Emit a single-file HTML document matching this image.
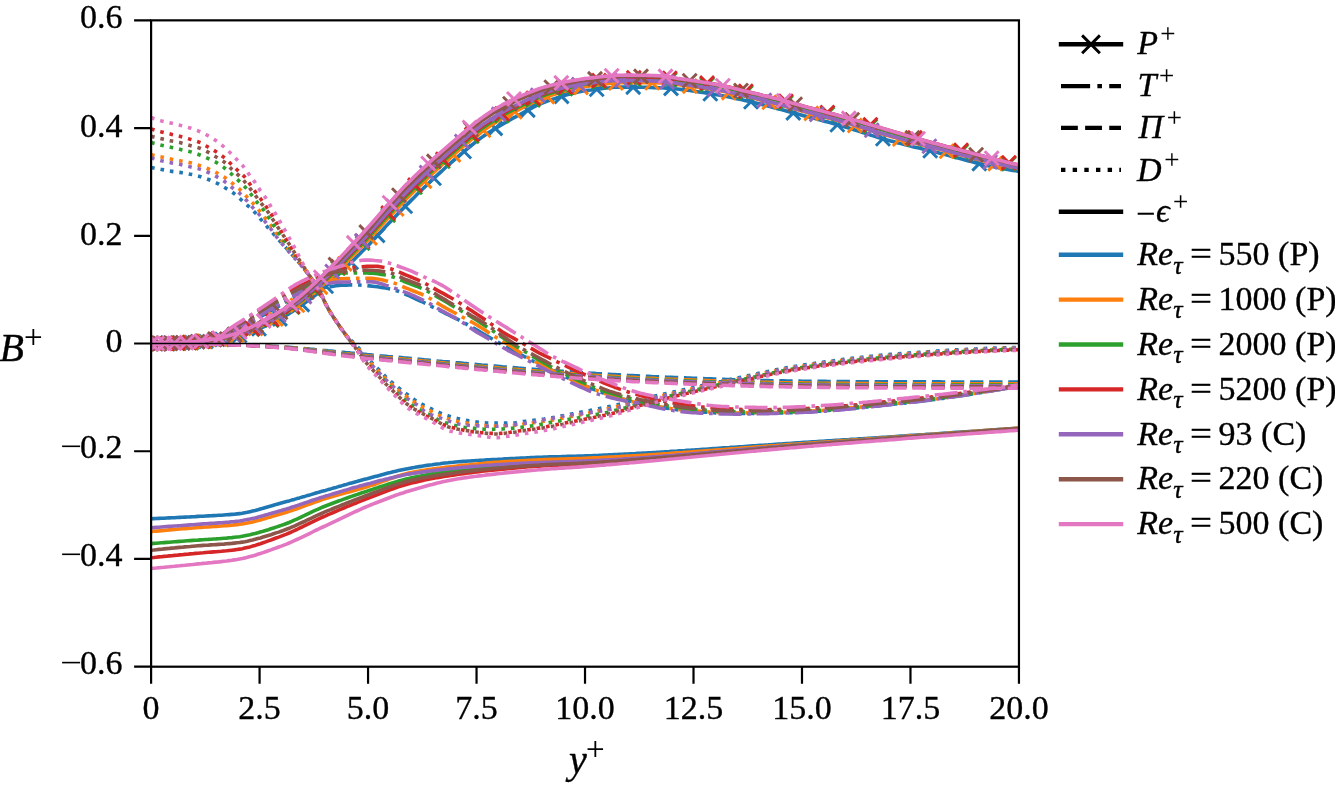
<!DOCTYPE html><html><head><meta charset="utf-8"><style>html,body{margin:0;padding:0;background:#fff;}svg{display:block;will-change:transform;}text{font-family:"Liberation Serif",serif;stroke:#000;stroke-width:0.35px;}</style></head><body>
<svg width="1335" height="785" viewBox="0 0 1335 785">
<rect width="1335" height="785" fill="#fff"/>
<defs><clipPath id="ax"><rect x="151.10" y="20.35" width="867.85" height="646.35"/></clipPath></defs>
<g clip-path="url(#ax)" fill="none" stroke-linejoin="round">
<path d="M151.1 343.5l2.6 0 2.6 0 2.6 0 2.6 0 2.6 0 2.6 -.1 2.6 0 2.6 0 2.6 0 2.6 -.1 2.6 -.1 2.6 -.1 2.6 -.1 2.6 -.2 2.7 -.1 2.6 -.2 2.6 -.1 2.6 -.2 2.6 -.2 2.6 -.3 2.6 -.2 2.6 -.3 2.6 -.3 2.6 -.3 2.6 -.3 2.6 -.4 2.6 -.4 2.6 -.5 2.6 -.5 2.6 -.5 2.6 -.6 2.6 -.6 2.6 -.6 2.6 -.7 2.6 -.7 2.6 -.9 2.6 -.9 2.6 -.9 2.6 -1 2.6 -1 2.6 -1 2.6 -1 2.7 -1.1 2.6 -1.1 2.6 -1.2 2.6 -1.2 2.6 -1.3 2.6 -1.3 2.6 -1.3 2.6 -1.4 2.6 -1.5 2.6 -1.5 2.6 -1.6 2.6 -1.7 2.6 -1.7 2.6 -1.8 2.6 -1.8 2.6 -1.8 2.6 -1.8 2.6 -1.9 2.6 -1.9 2.6 -2 2.6 -2 2.6 -2 2.6 -2.1 2.6 -2.2 2.6 -2.2 2.6 -2.2 2.6 -2.4 2.6 -2.5 2.7 -2.4 2.6 -2.6 2.6 -2.5 2.6 -2.6 2.6 -2.5 2.6 -2.5 2.6 -2.5 2.6 -2.6 2.6 -2.6 2.6 -2.5 2.6 -2.7 2.6 -2.6 2.6 -2.6 2.6 -2.7 2.6 -2.8 2.6 -2.7 2.6 -2.8 2.6 -2.9 2.6 -2.8 2.6 -2.8 2.6 -2.8 2.6 -2.7 2.6 -2.7 2.6 -2.7 2.6 -2.7 2.6 -2.7 2.6 -2.7 2.6 -2.7 2.7 -2.6 2.6 -2.6 2.6 -2.6 2.6 -2.6 2.6 -2.6 2.6 -2.5 2.6 -2.5 2.6 -2.5 2.6 -2.5 2.6 -2.4 2.6 -2.4 2.6 -2.4 2.6 -2.4 2.6 -2.4 2.6 -2.4 2.6 -2.3 2.6 -2.3 2.6 -2.3 2.6 -2.2 2.6 -2.3 2.6 -2.2 2.6 -2.2 2.6 -2.2 2.6 -2.2 2.6 -2.1 2.6 -2.1 2.6 -2.1 2.6 -2 2.7 -1.9 2.6 -1.8 2.6 -1.8 2.6 -1.7 2.6 -1.7 2.6 -1.6 2.6 -1.6 2.6 -1.6 2.6 -1.5 2.6 -1.5 2.6 -1.5 2.6 -1.5 2.6 -1.4 2.6 -1.4 2.6 -1.4 2.6 -1.4 2.6 -1.5 2.6 -1.4 2.6 -1.4 2.6 -1.4 2.6 -1.3 2.6 -1.3 2.6 -1.2 2.6 -1.2 2.6 -1 2.6 -1 2.6 -.9 2.6 -.9 2.7 -.9 2.6 -.9 2.6 -.8 2.6 -.8 2.6 -.7 2.6 -.8 2.6 -.6 2.6 -.7 2.6 -.6 2.6 -.6 2.6 -.5 2.6 -.5 2.6 -.5 2.6 -.3 2.6 -.3 2.6 -.4 2.6 -.3 2.6 -.3 2.6 -.4 2.6 -.3 2.6 -.3 2.6 -.2 2.6 -.3 2.6 -.2 2.6 -.1 2.6 -.1 2.6 0 2.6 0 2.6 0 2.7 0 2.6 0 2.6 .1 2.6 0 2.6 .1 2.6 0 2.6 .1 2.6 0 2.6 .1 2.6 .1 2.6 0 2.6 .1 2.6 .1 2.6 .1 2.6 .2 2.6 .2 2.6 .2 2.6 .2 2.6 .3 2.6 .3 2.6 .3 2.6 .3 2.6 .3 2.6 .3 2.6 .4 2.6 .4 2.6 .4 2.6 .4 2.7 .4 2.6 .4 2.6 .4 2.6 .5 2.6 .4 2.6 .4 2.6 .5 2.6 .5 2.6 .5 2.6 .5 2.6 .5 2.6 .5 2.6 .6 2.6 .5 2.6 .6 2.6 .5 2.6 .6 2.6 .5 2.6 .6 2.6 .6 2.6 .7 2.6 .6 2.6 .7 2.6 .7 2.6 .7 2.6 .6 2.6 .7 2.6 .7 2.7 .7 2.6 .7 2.6 .7 2.6 .7 2.6 .7 2.6 .8 2.6 .7 2.6 .7 2.6 .6 2.6 .7 2.6 .7 2.6 .7 2.6 .7 2.6 .7 2.6 .7 2.6 .6 2.6 .7 2.6 .7 2.6 .7 2.6 .7 2.6 .7 2.6 .7 2.6 .7 2.6 .8 2.6 .7 2.6 .7 2.6 .8 2.6 .8 2.7 .8 2.6 .8 2.6 .8 2.6 .8 2.6 .9 2.6 .8 2.6 .8 2.6 .9 2.6 .8 2.6 .9 2.6 .8 2.6 .8 2.6 .8 2.6 .7 2.6 .8 2.6 .7 2.6 .7 2.6 .7 2.6 .7 2.6 .7 2.6 .6 2.6 .7 2.6 .6 2.6 .7 2.6 .6 2.6 .7 2.6 .6 2.6 .6 2.7 .7 2.6 .6 2.6 .7 2.6 .6 2.6 .6 2.6 .7 2.6 .6 2.6 .7 2.6 .6 2.6 .7 2.6 .7 2.6 .7 2.6 .7 2.6 .7 2.6 .7 2.6 .7 2.6 .7 2.6 .7 2.6 .7 2.6 .7 2.6 .6 2.6 .7 2.6 .6 2.6 .7 2.6 .6 2.6 .6 2.6 .6 2.6 .5 2.7 .5 2.6 .5 2.6 .5 2.6 .5 2.6 .5 2.6 .5 2.6 .4 2.6 .5 2.6 .4 2.6 .5 .9 .1" stroke="#1f77b4" stroke-width="3.6" stroke-linecap="square"/>
<path d="M144.1 336.5l14 14M144.1 350.5l14 -14M151.9 336.5l14 14M151.9 350.5l14 -14M161.2 336.4l14 14M161.2 350.4l14 -14M172.1 336.2l14 14M172.1 350.2l14 -14M184.6 335.6l14 14M184.6 349.6l14 -14M198.9 334.5l14 14M198.9 348.5l14 -14M214.9 332.4l14 14M214.9 346.4l14 -14M232.6 328.5l14 14M232.6 342.5l14 -14M252.0 321.7l14 14M252.0 335.7l14 -14M272.9 311.9l14 14M272.9 325.9l14 -14M295.3 297.6l14 14M295.3 311.6l14 -14M319.1 279.3l14 14M319.1 293.3l14 -14M344.2 255.3l14 14M344.2 269.3l14 -14M370.6 228.4l14 14M370.6 242.4l14 -14M398.2 199.3l14 14M398.2 213.3l14 -14M427.0 171.2l14 14M427.0 185.2l14 -14M457.1 144.5l14 14M457.1 158.5l14 -14M488.3 121.4l14 14M488.3 135.4l14 -14M520.8 103.1l14 14M520.8 117.1l14 -14M554.6 89.4l14 14M554.6 103.4l14 -14M589.7 82.2l14 14M589.7 96.2l14 -14M626.2 80.1l14 14M626.2 94.1l14 -14M664.0 81.4l14 14M664.0 95.4l14 -14M703.3 86.7l14 14M703.3 100.7l14 -14M744.0 94.8l14 14M744.0 108.8l14 -14M786.3 105.9l14 14M786.3 119.9l14 -14M830.3 117.7l14 14M830.3 131.7l14 -14M875.9 131.8l14 14M875.9 145.8l14 -14M923.2 143.8l14 14M923.2 157.8l14 -14M972.3 156.6l14 14M972.3 170.6l14 -14M1023.3 166.1l14 14M1023.3 180.1l14 -14" stroke="#1f77b4" stroke-width="2.9" stroke-linecap="butt"/>
<path d="M151.1 343.5l2.6 0 2.6 0 2.6 0 2.6 -.1 2.6 0 2.6 0 2.6 -.1 2.6 0 2.6 -.1 2.6 0 2.6 -.1 2.6 0 2.6 -.1 2.6 -.1 2.7 -.1 2.6 -.2 2.6 -.2 2.6 -.2 2.6 -.3 2.6 -.3 2.6 -.4 2.6 -.4 2.6 -.4 2.6 -.5 2.6 -.6 2.6 -.9 2.6 -1 2.6 -1.1 2.6 -1.2 2.6 -1.3 2.6 -1.3 2.6 -1.3 2.6 -1.3 2.6 -1.2 2.6 -1.4 2.6 -1.4 2.6 -1.4 2.6 -1.5 2.6 -1.6 2.6 -1.5 2.6 -1.6 2.6 -1.5 2.7 -1.6 2.6 -1.5 2.6 -1.4 2.6 -1.5 2.6 -1.6 2.6 -1.5 2.6 -1.6 2.6 -1.6 2.6 -1.5 2.6 -1.5 2.6 -1.5 2.6 -1.3 2.6 -1.3 2.6 -1.2 2.6 -1 2.6 -.9 2.6 -.9 2.6 -.8 2.6 -.8 2.6 -.8 2.6 -.7 2.6 -.7 2.6 -.6 2.6 -.6 2.6 -.6 2.6 -.5 2.6 -.6 2.6 -.5 2.7 -.4 2.6 -.3 2.6 -.2 2.6 -.1 2.6 -.1 2.6 -.1 2.6 -.1 2.6 0 2.6 0 2.6 .1 2.6 .2 2.6 .2 2.6 .2 2.6 .3 2.6 .3 2.6 .3 2.6 .3 2.6 .4 2.6 .4 2.6 .5 2.6 .5 2.6 .5 2.6 .7 2.6 .7 2.6 .8 2.6 1 2.6 1.1 2.6 1.1 2.7 1.2 2.6 1.2 2.6 1.2 2.6 1.2 2.6 1.2 2.6 1.2 2.6 1.2 2.6 1.3 2.6 1.2 2.6 1.4 2.6 1.3 2.6 1.3 2.6 1.3 2.6 1.3 2.6 1.3 2.6 1.2 2.6 1.3 2.6 1.3 2.6 1.3 2.6 1.3 2.6 1.4 2.6 1.4 2.6 1.4 2.6 1.5 2.6 1.5 2.6 1.5 2.6 1.5 2.6 1.5 2.7 1.6 2.6 1.5 2.6 1.5 2.6 1.5 2.6 1.5 2.6 1.5 2.6 1.5 2.6 1.4 2.6 1.5 2.6 1.4 2.6 1.5 2.6 1.4 2.6 1.4 2.6 1.4 2.6 1.4 2.6 1.3 2.6 1.4 2.6 1.3 2.6 1.4 2.6 1.3 2.6 1.4 2.6 1.3 2.6 1.3 2.6 1.3 2.6 1.3 2.6 1.3 2.6 1.3 2.6 1.2 2.7 1.3 2.6 1.2 2.6 1.2 2.6 1.2 2.6 1.2 2.6 1.2 2.6 1.2 2.6 1.2 2.6 1.2 2.6 1.2 2.6 1.2 2.6 1.1 2.6 1.2 2.6 1.1 2.6 1.1 2.6 1.1 2.6 1 2.6 1 2.6 1 2.6 .9 2.6 .8 2.6 .9 2.6 .8 2.6 .8 2.6 .8 2.6 .7 2.6 .8 2.6 .7 2.6 .7 2.7 .7 2.6 .7 2.6 .6 2.6 .6 2.6 .6 2.6 .6 2.6 .5 2.6 .5 2.6 .5 2.6 .5 2.6 .4 2.6 .5 2.6 .4 2.6 .4 2.6 .4 2.6 .4 2.6 .4 2.6 .3 2.6 .4 2.6 .3 2.6 .3 2.6 .3 2.6 .3 2.6 .2 2.6 .2 2.6 .2 2.6 .2 2.6 .2 2.7 .2 2.6 .1 2.6 .2 2.6 .2 2.6 .1 2.6 .2 2.6 .1 2.6 .1 2.6 .2 2.6 0 2.6 .1 2.6 .1 2.6 0 2.6 0 2.6 0 2.6 0 2.6 0 2.6 0 2.6 0 2.6 -.1 2.6 0 2.6 0 2.6 -.1 2.6 0 2.6 0 2.6 -.1 2.6 0 2.6 -.1 2.7 0 2.6 -.1 2.6 0 2.6 -.1 2.6 -.1 2.6 0 2.6 -.1 2.6 -.1 2.6 -.1 2.6 -.2 2.6 -.1 2.6 -.1 2.6 -.2 2.6 -.1 2.6 -.2 2.6 -.1 2.6 -.2 2.6 -.2 2.6 -.2 2.6 -.2 2.6 -.2 2.6 -.2 2.6 -.2 2.6 -.2 2.6 -.3 2.6 -.2 2.6 -.2 2.6 -.2 2.7 -.3 2.6 -.2 2.6 -.3 2.6 -.2 2.6 -.3 2.6 -.2 2.6 -.3 2.6 -.3 2.6 -.2 2.6 -.3 2.6 -.3 2.6 -.2 2.6 -.3 2.6 -.3 2.6 -.2 2.6 -.3 2.6 -.3 2.6 -.2 2.6 -.3 2.6 -.3 2.6 -.2 2.6 -.3 2.6 -.3 2.6 -.3 2.6 -.3 2.6 -.3 2.6 -.3 2.6 -.3 2.7 -.3 2.6 -.3 2.6 -.3 2.6 -.4 2.6 -.3 2.6 -.4 2.6 -.3 2.6 -.4 2.6 -.3 2.6 -.4 2.6 -.3 2.6 -.4 2.6 -.4 2.6 -.4 2.6 -.4 2.6 -.3 2.6 -.4 2.6 -.4 2.6 -.4 2.6 -.4 2.6 -.5 2.6 -.4 2.6 -.4 2.6 -.4 2.6 -.4 2.6 -.5 2.6 -.4 2.6 -.4 2.7 -.5 2.6 -.4 2.6 -.5 2.6 -.4 2.6 -.5 2.6 -.4 2.6 -.5 2.6 -.5 2.6 -.4 2.6 -.5 .9 -.1" stroke="#1f77b4" stroke-width="3.6" stroke-dasharray="23.04 5.76 3.60 5.76" stroke-linecap="butt"/>
<path d="M151.1 343.5l2.6 0 2.6 0 2.6 0 2.6 0 2.6 0 2.6 0 2.6 .1 2.6 0 2.6 0 2.6 0 2.6 0 2.6 .1 2.6 0 2.6 0 2.7 0 2.6 .1 2.6 0 2.6 0 2.6 0 2.6 .1 2.6 0 2.6 0 2.6 .1 2.6 0 2.6 .1 2.6 0 2.6 .1 2.6 0 2.6 .1 2.6 .1 2.6 0 2.6 .1 2.6 .1 2.6 0 2.6 .1 2.6 .1 2.6 .1 2.6 .1 2.6 .1 2.6 .1 2.6 .2 2.6 .1 2.7 .1 2.6 .2 2.6 .1 2.6 .2 2.6 .1 2.6 .2 2.6 .2 2.6 .1 2.6 .2 2.6 .2 2.6 .2 2.6 .2 2.6 .2 2.6 .2 2.6 .2 2.6 .2 2.6 .3 2.6 .2 2.6 .3 2.6 .2 2.6 .3 2.6 .2 2.6 .3 2.6 .3 2.6 .2 2.6 .3 2.6 .2 2.6 .3 2.7 .3 2.6 .2 2.6 .3 2.6 .2 2.6 .3 2.6 .2 2.6 .3 2.6 .2 2.6 .2 2.6 .3 2.6 .2 2.6 .2 2.6 .3 2.6 .2 2.6 .3 2.6 .2 2.6 .2 2.6 .3 2.6 .2 2.6 .2 2.6 .3 2.6 .2 2.6 .2 2.6 .3 2.6 .2 2.6 .2 2.6 .3 2.6 .2 2.7 .2 2.6 .3 2.6 .2 2.6 .3 2.6 .2 2.6 .2 2.6 .3 2.6 .2 2.6 .3 2.6 .2 2.6 .2 2.6 .3 2.6 .2 2.6 .3 2.6 .2 2.6 .2 2.6 .3 2.6 .2 2.6 .3 2.6 .2 2.6 .2 2.6 .3 2.6 .2 2.6 .2 2.6 .3 2.6 .2 2.6 .2 2.6 .2 2.7 .3 2.6 .2 2.6 .2 2.6 .2 2.6 .3 2.6 .2 2.6 .2 2.6 .2 2.6 .3 2.6 .2 2.6 .2 2.6 .2 2.6 .2 2.6 .2 2.6 .3 2.6 .2 2.6 .2 2.6 .2 2.6 .2 2.6 .2 2.6 .2 2.6 .2 2.6 .2 2.6 .2 2.6 .2 2.6 .2 2.6 .2 2.6 .1 2.7 .2 2.6 .2 2.6 .2 2.6 .2 2.6 .2 2.6 .1 2.6 .2 2.6 .2 2.6 .2 2.6 .1 2.6 .2 2.6 .2 2.6 .1 2.6 .2 2.6 .2 2.6 .1 2.6 .2 2.6 .1 2.6 .2 2.6 .2 2.6 .1 2.6 .1 2.6 .2 2.6 .1 2.6 .2 2.6 .1 2.6 .2 2.6 .1 2.6 .2 2.7 .1 2.6 .1 2.6 .2 2.6 .1 2.6 .1 2.6 .2 2.6 .1 2.6 .1 2.6 .1 2.6 .2 2.6 .1 2.6 .1 2.6 .1 2.6 .1 2.6 .1 2.6 .1 2.6 .1 2.6 .1 2.6 .1 2.6 .1 2.6 .1 2.6 .1 2.6 .1 2.6 .1 2.6 .1 2.6 .1 2.6 .1 2.6 .1 2.7 .1 2.6 .1 2.6 .1 2.6 .1 2.6 .1 2.6 .1 2.6 .1 2.6 .1 2.6 .1 2.6 .1 2.6 .1 2.6 .1 2.6 0 2.6 .1 2.6 .1 2.6 .1 2.6 .1 2.6 0 2.6 .1 2.6 .1 2.6 0 2.6 .1 2.6 .1 2.6 0 2.6 .1 2.6 0 2.6 .1 2.6 .1 2.7 0 2.6 0 2.6 .1 2.6 0 2.6 .1 2.6 0 2.6 0 2.6 .1 2.6 0 2.6 0 2.6 .1 2.6 0 2.6 0 2.6 .1 2.6 0 2.6 0 2.6 0 2.6 .1 2.6 0 2.6 0 2.6 .1 2.6 0 2.6 0 2.6 0 2.6 .1 2.6 0 2.6 0 2.6 0 2.7 0 2.6 .1 2.6 0 2.6 0 2.6 0 2.6 0 2.6 .1 2.6 0 2.6 0 2.6 0 2.6 0 2.6 0 2.6 0 2.6 0 2.6 0 2.6 0 2.6 .1 2.6 0 2.6 0 2.6 0 2.6 0 2.6 0 2.6 0 2.6 0 2.6 0 2.6 0 2.6 0 2.6 0 2.7 0 2.6 0 2.6 0 2.6 0 2.6 0 2.6 0 2.6 0 2.6 0 2.6 .1 2.6 0 2.6 0 2.6 0 2.6 0 2.6 0 2.6 0 2.6 0 2.6 0 2.6 0 2.6 0 2.6 0 2.6 0 2.6 0 2.6 0 2.6 0 2.6 0 2.6 0 2.6 0 2.6 0 2.7 0 2.6 0 2.6 0 2.6 0 2.6 0 2.6 0 2.6 0 2.6 0 2.6 0 2.6 0 .9 0" stroke="#1f77b4" stroke-width="3.6" stroke-dasharray="13.32 5.76" stroke-linecap="butt"/>
<path d="M151.1 167.6l2.6 .4 2.6 .5 2.6 .4 2.6 .5 2.6 .5 2.6 .6 2.6 .5 2.6 .4 2.6 .4 2.6 .3 2.6 .3 2.6 .4 2.6 .4 2.6 .5 2.7 .5 2.6 .5 2.6 .6 2.6 .7 2.6 .7 2.6 .9 2.6 .9 2.6 1 2.6 1 2.6 1.1 2.6 1.2 2.6 1.3 2.6 1.5 2.6 1.6 2.6 1.6 2.6 1.6 2.6 1.6 2.6 1.8 2.6 2.1 2.6 2.4 2.6 2.4 2.6 2.3 2.6 2.3 2.6 2.3 2.6 2.5 2.6 2.6 2.6 2.9 2.6 3.3 2.7 3.1 2.6 3.1 2.6 3 2.6 2.9 2.6 2.9 2.6 3 2.6 2.9 2.6 2.9 2.6 2.8 2.6 2.9 2.6 2.9 2.6 2.9 2.6 2.9 2.6 3 2.6 3.1 2.6 3.1 2.6 3.2 2.6 3.4 2.6 3.5 2.6 3.6 2.6 3.9 2.6 4.2 2.6 4.5 2.6 5.3 2.6 5.7 2.6 4.9 2.6 4.4 2.6 4.1 2.7 4 2.6 3.9 2.6 3.9 2.6 3.6 2.6 3.3 2.6 2.7 2.6 2.5 2.6 2.4 2.6 2.7 2.6 2.8 2.6 2.9 2.6 3.1 2.6 3 2.6 2.8 2.6 2.6 2.6 2.6 2.6 2.6 2.6 2.7 2.6 2.6 2.6 2.7 2.6 2.6 2.6 2.4 2.6 2.1 2.6 2.2 2.6 2 2.6 2 2.6 2 2.6 2 2.7 1.9 2.6 1.9 2.6 1.9 2.6 1.8 2.6 1.6 2.6 1.4 2.6 1.3 2.6 1.3 2.6 1.3 2.6 1.3 2.6 1.2 2.6 1.1 2.6 1.2 2.6 1.1 2.6 1 2.6 .8 2.6 .8 2.6 .8 2.6 .7 2.6 .6 2.6 .6 2.6 .5 2.6 .5 2.6 .5 2.6 .4 2.6 .4 2.6 .4 2.6 .4 2.7 .3 2.6 .2 2.6 .1 2.6 .1 2.6 0 2.6 0 2.6 0 2.6 0 2.6 0 2.6 0 2.6 0 2.6 0 2.6 0 2.6 -.3 2.6 -.5 2.6 -.4 2.6 -.4 2.6 -.3 2.6 -.3 2.6 -.3 2.6 -.3 2.6 -.3 2.6 -.3 2.6 -.4 2.6 -.3 2.6 -.4 2.6 -.3 2.6 -.5 2.7 -.5 2.6 -.5 2.6 -.6 2.6 -.5 2.6 -.5 2.6 -.5 2.6 -.5 2.6 -.5 2.6 -.5 2.6 -.5 2.6 -.5 2.6 -.5 2.6 -.5 2.6 -.5 2.6 -.5 2.6 -.5 2.6 -.5 2.6 -.5 2.6 -.6 2.6 -.5 2.6 -.5 2.6 -.6 2.6 -.6 2.6 -.5 2.6 -.6 2.6 -.6 2.6 -.6 2.6 -.6 2.6 -.6 2.7 -.6 2.6 -.6 2.6 -.6 2.6 -.6 2.6 -.6 2.6 -.6 2.6 -.6 2.6 -.6 2.6 -.6 2.6 -.6 2.6 -.6 2.6 -.5 2.6 -.6 2.6 -.6 2.6 -.6 2.6 -.6 2.6 -.6 2.6 -.6 2.6 -.5 2.6 -.6 2.6 -.6 2.6 -.6 2.6 -.6 2.6 -.6 2.6 -.5 2.6 -.6 2.6 -.6 2.6 -.6 2.7 -.6 2.6 -.5 2.6 -.6 2.6 -.6 2.6 -.5 2.6 -.6 2.6 -.6 2.6 -.5 2.6 -.6 2.6 -.6 2.6 -.5 2.6 -.6 2.6 -.5 2.6 -.5 2.6 -.6 2.6 -.5 2.6 -.6 2.6 -.6 2.6 -.5 2.6 -.6 2.6 -.5 2.6 -.6 2.6 -.6 2.6 -.5 2.6 -.6 2.6 -.5 2.6 -.5 2.6 -.6 2.7 -.5 2.6 -.5 2.6 -.5 2.6 -.5 2.6 -.5 2.6 -.4 2.6 -.5 2.6 -.4 2.6 -.4 2.6 -.5 2.6 -.3 2.6 -.4 2.6 -.4 2.6 -.4 2.6 -.4 2.6 -.4 2.6 -.4 2.6 -.3 2.6 -.4 2.6 -.4 2.6 -.3 2.6 -.4 2.6 -.3 2.6 -.4 2.6 -.3 2.6 -.4 2.6 -.3 2.6 -.3 2.7 -.4 2.6 -.3 2.6 -.3 2.6 -.3 2.6 -.3 2.6 -.3 2.6 -.3 2.6 -.3 2.6 -.3 2.6 -.2 2.6 -.3 2.6 -.2 2.6 -.3 2.6 -.2 2.6 -.3 2.6 -.2 2.6 -.2 2.6 -.2 2.6 -.2 2.6 -.2 2.6 -.2 2.6 -.2 2.6 -.2 2.6 -.2 2.6 -.2 2.6 -.2 2.6 -.1 2.6 -.2 2.7 -.2 2.6 -.2 2.6 -.2 2.6 -.1 2.6 -.2 2.6 -.2 2.6 -.2 2.6 -.1 2.6 -.2 2.6 -.1 2.6 -.2 2.6 -.2 2.6 -.1 2.6 -.2 2.6 -.1 2.6 -.2 2.6 -.1 2.6 -.1 2.6 -.2 2.6 -.1 2.6 -.1 2.6 -.1 2.6 -.2 2.6 -.1 2.6 -.1 2.6 -.1 2.6 -.1 2.6 -.1 2.7 -.1 2.6 -.1 2.6 0 2.6 -.1 2.6 -.1 2.6 0 2.6 -.1 2.6 -.1 2.6 0 2.6 0 .9 -.1" stroke="#1f77b4" stroke-width="3.6" stroke-dasharray="3.60 5.94" stroke-linecap="butt"/>
<path d="M151.1 518.7l2.6 -.1 2.6 -.1 2.6 -.1 2.6 -.1 2.6 -.1 2.6 -.2 2.6 -.1 2.6 -.1 2.6 -.1 2.6 -.2 2.6 -.1 2.6 -.1 2.6 -.2 2.6 -.1 2.7 -.1 2.6 -.2 2.6 -.1 2.6 -.2 2.6 -.1 2.6 -.1 2.6 -.2 2.6 -.1 2.6 -.1 2.6 -.2 2.6 -.1 2.6 -.2 2.6 -.1 2.6 -.2 2.6 -.2 2.6 -.2 2.6 -.2 2.6 -.2 2.6 -.3 2.6 -.3 2.6 -.3 2.6 -.5 2.6 -.5 2.6 -.6 2.6 -.6 2.6 -.6 2.6 -.7 2.6 -.8 2.7 -.7 2.6 -.8 2.6 -.8 2.6 -.7 2.6 -.8 2.6 -.8 2.6 -.7 2.6 -.7 2.6 -.7 2.6 -.7 2.6 -.7 2.6 -.8 2.6 -.7 2.6 -.8 2.6 -.7 2.6 -.8 2.6 -.7 2.6 -.8 2.6 -.7 2.6 -.8 2.6 -.8 2.6 -.7 2.6 -.8 2.6 -.7 2.6 -.7 2.6 -.8 2.6 -.7 2.6 -.8 2.7 -.7 2.6 -.8 2.6 -.7 2.6 -.8 2.6 -.7 2.6 -.8 2.6 -.7 2.6 -.7 2.6 -.7 2.6 -.8 2.6 -.7 2.6 -.7 2.6 -.6 2.6 -.7 2.6 -.7 2.6 -.7 2.6 -.7 2.6 -.7 2.6 -.7 2.6 -.7 2.6 -.7 2.6 -.6 2.6 -.7 2.6 -.6 2.6 -.6 2.6 -.6 2.6 -.6 2.6 -.5 2.7 -.5 2.6 -.5 2.6 -.4 2.6 -.5 2.6 -.4 2.6 -.4 2.6 -.4 2.6 -.4 2.6 -.4 2.6 -.3 2.6 -.4 2.6 -.3 2.6 -.3 2.6 -.4 2.6 -.3 2.6 -.2 2.6 -.3 2.6 -.2 2.6 -.3 2.6 -.2 2.6 -.2 2.6 -.2 2.6 -.2 2.6 -.2 2.6 -.1 2.6 -.2 2.6 -.2 2.6 -.1 2.7 -.2 2.6 -.1 2.6 -.2 2.6 -.1 2.6 -.2 2.6 -.1 2.6 -.1 2.6 -.2 2.6 -.1 2.6 -.2 2.6 -.1 2.6 -.2 2.6 -.1 2.6 -.1 2.6 -.2 2.6 -.1 2.6 -.1 2.6 -.1 2.6 -.2 2.6 -.1 2.6 -.1 2.6 -.1 2.6 -.1 2.6 -.1 2.6 -.1 2.6 -.1 2.6 -.1 2.6 0 2.7 -.1 2.6 -.1 2.6 0 2.6 -.1 2.6 -.1 2.6 -.1 2.6 0 2.6 -.1 2.6 -.1 2.6 -.1 2.6 0 2.6 -.1 2.6 -.1 2.6 -.1 2.6 -.1 2.6 -.1 2.6 -.1 2.6 -.1 2.6 -.2 2.6 -.1 2.6 -.1 2.6 -.1 2.6 -.1 2.6 -.2 2.6 -.1 2.6 -.1 2.6 -.1 2.6 -.2 2.6 -.1 2.7 -.2 2.6 -.1 2.6 -.1 2.6 -.2 2.6 -.1 2.6 -.2 2.6 -.1 2.6 -.2 2.6 -.1 2.6 -.2 2.6 -.1 2.6 -.2 2.6 -.2 2.6 -.1 2.6 -.2 2.6 -.1 2.6 -.2 2.6 -.2 2.6 -.1 2.6 -.2 2.6 -.2 2.6 -.1 2.6 -.2 2.6 -.2 2.6 -.2 2.6 -.1 2.6 -.2 2.6 -.2 2.7 -.2 2.6 -.1 2.6 -.2 2.6 -.2 2.6 -.2 2.6 -.1 2.6 -.2 2.6 -.2 2.6 -.2 2.6 -.2 2.6 -.1 2.6 -.2 2.6 -.2 2.6 -.2 2.6 -.2 2.6 -.1 2.6 -.2 2.6 -.2 2.6 -.2 2.6 -.2 2.6 -.1 2.6 -.2 2.6 -.2 2.6 -.2 2.6 -.2 2.6 -.1 2.6 -.2 2.6 -.2 2.7 -.2 2.6 -.2 2.6 -.1 2.6 -.2 2.6 -.2 2.6 -.1 2.6 -.2 2.6 -.2 2.6 -.2 2.6 -.1 2.6 -.2 2.6 -.2 2.6 -.1 2.6 -.2 2.6 -.2 2.6 -.1 2.6 -.2 2.6 -.2 2.6 -.1 2.6 -.2 2.6 -.2 2.6 -.1 2.6 -.2 2.6 -.2 2.6 -.1 2.6 -.2 2.6 -.2 2.6 -.2 2.7 -.1 2.6 -.2 2.6 -.2 2.6 -.1 2.6 -.2 2.6 -.2 2.6 -.2 2.6 -.1 2.6 -.2 2.6 -.2 2.6 -.1 2.6 -.2 2.6 -.2 2.6 -.2 2.6 -.1 2.6 -.2 2.6 -.2 2.6 -.1 2.6 -.2 2.6 -.2 2.6 -.2 2.6 -.1 2.6 -.2 2.6 -.2 2.6 -.2 2.6 -.1 2.6 -.2 2.6 -.2 2.7 -.2 2.6 -.1 2.6 -.2 2.6 -.2 2.6 -.2 2.6 -.1 2.6 -.2 2.6 -.2 2.6 -.2 2.6 -.2 2.6 -.1 2.6 -.2 2.6 -.2 2.6 -.2 2.6 -.1 2.6 -.2 2.6 -.2 2.6 -.2 2.6 -.2 2.6 -.1 2.6 -.2 2.6 -.2 2.6 -.2 2.6 -.1 2.6 -.2 2.6 -.2 2.6 -.2 2.6 -.2 2.7 -.1 2.6 -.2 2.6 -.2 2.6 -.2 2.6 -.2 2.6 -.1 2.6 -.2 2.6 -.2 2.6 -.2 2.6 -.2 .9 0" stroke="#1f77b4" stroke-width="3.6" stroke-linecap="square"/>
<path d="M151.1 343.5l2.6 0 2.6 0 2.6 0 2.6 0 2.6 -.1 2.6 0 2.6 0 2.6 0 2.6 -.1 2.6 0 2.6 -.1 2.6 -.2 2.6 -.1 2.6 -.2 2.7 -.1 2.6 -.2 2.6 -.2 2.6 -.2 2.6 -.2 2.6 -.3 2.6 -.3 2.6 -.3 2.6 -.4 2.6 -.3 2.6 -.4 2.6 -.4 2.6 -.5 2.6 -.5 2.6 -.6 2.6 -.6 2.6 -.6 2.6 -.7 2.6 -.7 2.6 -.7 2.6 -.8 2.6 -.9 2.6 -1 2.6 -1 2.6 -1.1 2.6 -1 2.6 -1.2 2.6 -1.1 2.7 -1.1 2.6 -1.2 2.6 -1.3 2.6 -1.3 2.6 -1.3 2.6 -1.4 2.6 -1.4 2.6 -1.5 2.6 -1.5 2.6 -1.7 2.6 -1.7 2.6 -1.7 2.6 -1.9 2.6 -1.8 2.6 -1.9 2.6 -1.9 2.6 -2 2.6 -2 2.6 -2 2.6 -2.1 2.6 -2.2 2.6 -2.2 2.6 -2.2 2.6 -2.3 2.6 -2.3 2.6 -2.4 2.6 -2.4 2.6 -2.6 2.7 -2.5 2.6 -2.6 2.6 -2.6 2.6 -2.6 2.6 -2.6 2.6 -2.6 2.6 -2.6 2.6 -2.7 2.6 -2.6 2.6 -2.7 2.6 -2.6 2.6 -2.7 2.6 -2.7 2.6 -2.8 2.6 -2.8 2.6 -2.8 2.6 -2.9 2.6 -2.9 2.6 -2.8 2.6 -2.9 2.6 -2.8 2.6 -2.8 2.6 -2.8 2.6 -2.8 2.6 -2.7 2.6 -2.8 2.6 -2.7 2.6 -2.6 2.7 -2.7 2.6 -2.6 2.6 -2.6 2.6 -2.6 2.6 -2.5 2.6 -2.5 2.6 -2.5 2.6 -2.4 2.6 -2.5 2.6 -2.4 2.6 -2.4 2.6 -2.4 2.6 -2.3 2.6 -2.4 2.6 -2.3 2.6 -2.3 2.6 -2.3 2.6 -2.2 2.6 -2.3 2.6 -2.2 2.6 -2.3 2.6 -2.2 2.6 -2.2 2.6 -2.2 2.6 -2.2 2.6 -2.1 2.6 -2 2.6 -2 2.7 -2 2.6 -1.8 2.6 -1.8 2.6 -1.7 2.6 -1.7 2.6 -1.6 2.6 -1.6 2.6 -1.5 2.6 -1.5 2.6 -1.5 2.6 -1.4 2.6 -1.4 2.6 -1.4 2.6 -1.3 2.6 -1.4 2.6 -1.3 2.6 -1.4 2.6 -1.3 2.6 -1.3 2.6 -1.3 2.6 -1.2 2.6 -1.2 2.6 -1.1 2.6 -1.1 2.6 -1 2.6 -.9 2.6 -.9 2.6 -.9 2.7 -.8 2.6 -.8 2.6 -.8 2.6 -.7 2.6 -.8 2.6 -.6 2.6 -.7 2.6 -.6 2.6 -.6 2.6 -.6 2.6 -.5 2.6 -.5 2.6 -.5 2.6 -.3 2.6 -.4 2.6 -.3 2.6 -.4 2.6 -.3 2.6 -.3 2.6 -.4 2.6 -.3 2.6 -.3 2.6 -.2 2.6 -.2 2.6 -.2 2.6 -.2 2.6 0 2.6 -.1 2.6 0 2.7 0 2.6 0 2.6 0 2.6 0 2.6 .1 2.6 0 2.6 0 2.6 0 2.6 .1 2.6 0 2.6 0 2.6 .1 2.6 .1 2.6 .2 2.6 .1 2.6 .3 2.6 .2 2.6 .3 2.6 .4 2.6 .3 2.6 .3 2.6 .3 2.6 .4 2.6 .3 2.6 .4 2.6 .3 2.6 .4 2.6 .4 2.7 .4 2.6 .4 2.6 .4 2.6 .4 2.6 .4 2.6 .4 2.6 .5 2.6 .5 2.6 .5 2.6 .6 2.6 .5 2.6 .6 2.6 .6 2.6 .6 2.6 .6 2.6 .5 2.6 .6 2.6 .6 2.6 .6 2.6 .7 2.6 .6 2.6 .6 2.6 .7 2.6 .6 2.6 .7 2.6 .7 2.6 .6 2.6 .7 2.7 .7 2.6 .7 2.6 .7 2.6 .7 2.6 .7 2.6 .7 2.6 .7 2.6 .7 2.6 .8 2.6 .7 2.6 .7 2.6 .7 2.6 .6 2.6 .7 2.6 .7 2.6 .7 2.6 .7 2.6 .7 2.6 .7 2.6 .7 2.6 .7 2.6 .7 2.6 .7 2.6 .7 2.6 .7 2.6 .7 2.6 .8 2.6 .7 2.7 .8 2.6 .8 2.6 .8 2.6 .8 2.6 .8 2.6 .8 2.6 .8 2.6 .8 2.6 .8 2.6 .8 2.6 .8 2.6 .8 2.6 .8 2.6 .8 2.6 .8 2.6 .7 2.6 .8 2.6 .7 2.6 .7 2.6 .7 2.6 .7 2.6 .7 2.6 .7 2.6 .7 2.6 .7 2.6 .7 2.6 .7 2.6 .7 2.7 .7 2.6 .6 2.6 .7 2.6 .7 2.6 .6 2.6 .7 2.6 .7 2.6 .7 2.6 .6 2.6 .7 2.6 .7 2.6 .7 2.6 .7 2.6 .7 2.6 .7 2.6 .7 2.6 .7 2.6 .6 2.6 .7 2.6 .7 2.6 .7 2.6 .6 2.6 .7 2.6 .7 2.6 .6 2.6 .6 2.6 .7 2.6 .5 2.7 .6 2.6 .6 2.6 .6 2.6 .6 2.6 .5 2.6 .6 2.6 .5 2.6 .6 2.6 .5 2.6 .5 .9 .2" stroke="#ff7f0e" stroke-width="3.6" stroke-linecap="square"/>
<path d="M144.1 336.5l14 14M144.1 350.5l14 -14M151.7 336.5l14 14M151.7 350.5l14 -14M160.8 336.4l14 14M160.8 350.4l14 -14M171.3 336.2l14 14M171.3 350.2l14 -14M183.5 335.5l14 14M183.5 349.5l14 -14M197.3 334.4l14 14M197.3 348.4l14 -14M212.8 332.2l14 14M212.8 346.2l14 -14M229.9 328.3l14 14M229.9 342.3l14 -14M248.6 321.5l14 14M248.6 335.5l14 -14M268.8 312.0l14 14M268.8 326.0l14 -14M290.4 298.2l14 14M290.4 312.2l14 -14M313.4 280.1l14 14M313.4 294.1l14 -14M337.6 256.9l14 14M337.6 270.9l14 -14M363.0 230.9l14 14M363.0 244.9l14 -14M389.7 202.0l14 14M389.7 216.0l14 -14M417.5 174.1l14 14M417.5 188.1l14 -14M446.4 147.9l14 14M446.4 161.9l14 -14M476.5 123.3l14 14M476.5 137.3l14 -14M507.8 104.7l14 14M507.8 118.7l14 -14M540.3 89.6l14 14M540.3 103.6l14 -14M574.0 80.4l14 14M574.0 94.4l14 -14M608.9 76.0l14 14M608.9 90.0l14 -14M645.2 75.8l14 14M645.2 89.8l14 -14M682.8 79.1l14 14M682.8 93.1l14 -14M721.8 85.6l14 14M721.8 99.6l14 -14M762.3 95.2l14 14M762.3 109.2l14 -14M804.3 106.4l14 14M804.3 120.4l14 -14M847.8 118.5l14 14M847.8 132.5l14 -14M892.9 132.0l14 14M892.9 146.0l14 -14M939.7 144.2l14 14M939.7 158.2l14 -14M988.2 156.6l14 14M988.2 170.6l14 -14" stroke="#ff7f0e" stroke-width="2.9" stroke-linecap="butt"/>
<path d="M151.1 343.5l2.6 0 2.6 0 2.6 0 2.6 -.1 2.6 0 2.6 0 2.6 -.1 2.6 0 2.6 -.1 2.6 -.1 2.6 -.1 2.6 0 2.6 -.1 2.6 -.1 2.7 -.2 2.6 -.2 2.6 -.3 2.6 -.4 2.6 -.4 2.6 -.4 2.6 -.5 2.6 -.5 2.6 -.5 2.6 -.6 2.6 -.8 2.6 -1 2.6 -1.1 2.6 -1.2 2.6 -1.4 2.6 -1.3 2.6 -1.4 2.6 -1.4 2.6 -1.4 2.6 -1.4 2.6 -1.4 2.6 -1.4 2.6 -1.5 2.6 -1.6 2.6 -1.6 2.6 -1.5 2.6 -1.6 2.6 -1.6 2.7 -1.6 2.6 -1.5 2.6 -1.5 2.6 -1.5 2.6 -1.6 2.6 -1.5 2.6 -1.6 2.6 -1.6 2.6 -1.5 2.6 -1.6 2.6 -1.4 2.6 -1.5 2.6 -1.3 2.6 -1.3 2.6 -1.2 2.6 -1.1 2.6 -1.1 2.6 -1.1 2.6 -1.1 2.6 -1.2 2.6 -1 2.6 -1.1 2.6 -1 2.6 -.9 2.6 -.9 2.6 -.8 2.6 -.6 2.6 -.6 2.7 -.4 2.6 -.2 2.6 -.1 2.6 -.1 2.6 -.1 2.6 0 2.6 -.1 2.6 0 2.6 -.1 2.6 0 2.6 0 2.6 -.1 2.6 0 2.6 0 2.6 .1 2.6 .3 2.6 .3 2.6 .5 2.6 .6 2.6 .6 2.6 .6 2.6 .7 2.6 .7 2.6 .9 2.6 1.1 2.6 1.1 2.6 1.2 2.6 1.1 2.7 1.1 2.6 1 2.6 1 2.6 1 2.6 1.1 2.6 1 2.6 1.2 2.6 1.3 2.6 1.5 2.6 1.5 2.6 1.7 2.6 1.6 2.6 1.6 2.6 1.6 2.6 1.4 2.6 1.5 2.6 1.4 2.6 1.4 2.6 1.4 2.6 1.5 2.6 1.4 2.6 1.4 2.6 1.3 2.6 1.4 2.6 1.4 2.6 1.5 2.6 1.5 2.6 1.6 2.7 1.6 2.6 1.8 2.6 1.7 2.6 1.8 2.6 1.7 2.6 1.6 2.6 1.5 2.6 1.6 2.6 1.5 2.6 1.5 2.6 1.6 2.6 1.6 2.6 1.7 2.6 1.8 2.6 1.8 2.6 1.8 2.6 1.7 2.6 1.6 2.6 1.5 2.6 1.5 2.6 1.5 2.6 1.4 2.6 1.4 2.6 1.4 2.6 1.4 2.6 1.3 2.6 1.4 2.6 1.3 2.7 1.3 2.6 1.2 2.6 1.3 2.6 1.2 2.6 1.2 2.6 1.3 2.6 1.2 2.6 1.2 2.6 1.2 2.6 1.2 2.6 1.2 2.6 1.1 2.6 1.1 2.6 1.2 2.6 1 2.6 1.1 2.6 1 2.6 1 2.6 1 2.6 .9 2.6 .8 2.6 .9 2.6 .8 2.6 .8 2.6 .8 2.6 .8 2.6 .7 2.6 .8 2.6 .7 2.7 .7 2.6 .7 2.6 .6 2.6 .6 2.6 .6 2.6 .5 2.6 .6 2.6 .4 2.6 .5 2.6 .4 2.6 .4 2.6 .4 2.6 .4 2.6 .4 2.6 .4 2.6 .3 2.6 .4 2.6 .3 2.6 .3 2.6 .3 2.6 .3 2.6 .2 2.6 .2 2.6 .3 2.6 .2 2.6 .2 2.6 .1 2.6 .2 2.7 .2 2.6 .2 2.6 .2 2.6 .1 2.6 .2 2.6 .1 2.6 .2 2.6 .1 2.6 .1 2.6 .1 2.6 .1 2.6 0 2.6 .1 2.6 0 2.6 0 2.6 0 2.6 0 2.6 -.1 2.6 0 2.6 0 2.6 0 2.6 -.1 2.6 0 2.6 0 2.6 -.1 2.6 0 2.6 -.1 2.6 0 2.7 -.1 2.6 0 2.6 -.1 2.6 0 2.6 -.1 2.6 -.1 2.6 -.1 2.6 -.1 2.6 -.1 2.6 -.1 2.6 -.1 2.6 -.2 2.6 -.1 2.6 -.2 2.6 -.1 2.6 -.2 2.6 -.2 2.6 -.2 2.6 -.1 2.6 -.2 2.6 -.2 2.6 -.2 2.6 -.3 2.6 -.2 2.6 -.2 2.6 -.2 2.6 -.3 2.6 -.2 2.7 -.2 2.6 -.3 2.6 -.2 2.6 -.3 2.6 -.2 2.6 -.3 2.6 -.3 2.6 -.2 2.6 -.3 2.6 -.2 2.6 -.3 2.6 -.3 2.6 -.2 2.6 -.3 2.6 -.3 2.6 -.2 2.6 -.3 2.6 -.3 2.6 -.2 2.6 -.3 2.6 -.3 2.6 -.2 2.6 -.3 2.6 -.3 2.6 -.3 2.6 -.3 2.6 -.3 2.6 -.3 2.7 -.3 2.6 -.3 2.6 -.3 2.6 -.3 2.6 -.4 2.6 -.3 2.6 -.3 2.6 -.4 2.6 -.3 2.6 -.4 2.6 -.3 2.6 -.4 2.6 -.4 2.6 -.3 2.6 -.4 2.6 -.4 2.6 -.4 2.6 -.4 2.6 -.3 2.6 -.4 2.6 -.4 2.6 -.4 2.6 -.4 2.6 -.4 2.6 -.5 2.6 -.4 2.6 -.4 2.6 -.4 2.7 -.4 2.6 -.5 2.6 -.4 2.6 -.4 2.6 -.5 2.6 -.4 2.6 -.5 2.6 -.4 2.6 -.4 2.6 -.5 .9 -.1" stroke="#ff7f0e" stroke-width="3.6" stroke-dasharray="23.04 5.76 3.60 5.76" stroke-linecap="butt"/>
<path d="M151.1 343.5l2.6 0 2.6 0 2.6 0 2.6 0 2.6 0 2.6 .1 2.6 0 2.6 0 2.6 0 2.6 0 2.6 .1 2.6 0 2.6 0 2.6 0 2.7 .1 2.6 0 2.6 0 2.6 .1 2.6 0 2.6 0 2.6 .1 2.6 0 2.6 .1 2.6 0 2.6 .1 2.6 0 2.6 .1 2.6 .1 2.6 0 2.6 .1 2.6 .1 2.6 0 2.6 .1 2.6 .1 2.6 .1 2.6 .1 2.6 .1 2.6 .1 2.6 .1 2.6 .2 2.6 .1 2.6 .1 2.7 .2 2.6 .1 2.6 .2 2.6 .2 2.6 .1 2.6 .2 2.6 .2 2.6 .2 2.6 .1 2.6 .2 2.6 .3 2.6 .2 2.6 .2 2.6 .2 2.6 .3 2.6 .3 2.6 .2 2.6 .3 2.6 .3 2.6 .3 2.6 .3 2.6 .3 2.6 .2 2.6 .3 2.6 .3 2.6 .3 2.6 .3 2.6 .3 2.7 .3 2.6 .3 2.6 .3 2.6 .3 2.6 .2 2.6 .3 2.6 .3 2.6 .2 2.6 .3 2.6 .2 2.6 .3 2.6 .2 2.6 .3 2.6 .2 2.6 .2 2.6 .3 2.6 .2 2.6 .3 2.6 .2 2.6 .3 2.6 .2 2.6 .2 2.6 .3 2.6 .2 2.6 .3 2.6 .2 2.6 .2 2.6 .3 2.7 .2 2.6 .3 2.6 .2 2.6 .3 2.6 .2 2.6 .3 2.6 .2 2.6 .2 2.6 .3 2.6 .2 2.6 .3 2.6 .2 2.6 .3 2.6 .2 2.6 .3 2.6 .2 2.6 .3 2.6 .2 2.6 .3 2.6 .2 2.6 .2 2.6 .3 2.6 .2 2.6 .3 2.6 .2 2.6 .2 2.6 .3 2.6 .2 2.7 .2 2.6 .3 2.6 .2 2.6 .2 2.6 .3 2.6 .2 2.6 .2 2.6 .2 2.6 .3 2.6 .2 2.6 .2 2.6 .3 2.6 .2 2.6 .2 2.6 .2 2.6 .2 2.6 .3 2.6 .2 2.6 .2 2.6 .2 2.6 .2 2.6 .2 2.6 .2 2.6 .2 2.6 .2 2.6 .2 2.6 .2 2.6 .2 2.7 .2 2.6 .2 2.6 .2 2.6 .2 2.6 .1 2.6 .2 2.6 .2 2.6 .2 2.6 .2 2.6 .2 2.6 .1 2.6 .2 2.6 .2 2.6 .2 2.6 .1 2.6 .2 2.6 .2 2.6 .1 2.6 .2 2.6 .1 2.6 .2 2.6 .1 2.6 .2 2.6 .1 2.6 .2 2.6 .1 2.6 .2 2.6 .1 2.6 .1 2.7 .2 2.6 .1 2.6 .1 2.6 .2 2.6 .1 2.6 .1 2.6 .2 2.6 .1 2.6 .1 2.6 .1 2.6 .2 2.6 .1 2.6 .1 2.6 .1 2.6 .1 2.6 .1 2.6 .1 2.6 .1 2.6 .1 2.6 .1 2.6 .1 2.6 .1 2.6 .1 2.6 .1 2.6 .1 2.6 .1 2.6 .1 2.6 .1 2.7 .1 2.6 .1 2.6 .1 2.6 .1 2.6 .1 2.6 .1 2.6 .1 2.6 .1 2.6 .1 2.6 .1 2.6 0 2.6 .1 2.6 .1 2.6 .1 2.6 .1 2.6 .1 2.6 0 2.6 .1 2.6 .1 2.6 0 2.6 .1 2.6 .1 2.6 0 2.6 .1 2.6 .1 2.6 0 2.6 .1 2.6 0 2.7 .1 2.6 0 2.6 .1 2.6 0 2.6 0 2.6 .1 2.6 0 2.6 0 2.6 .1 2.6 0 2.6 0 2.6 .1 2.6 0 2.6 0 2.6 .1 2.6 0 2.6 0 2.6 .1 2.6 0 2.6 0 2.6 .1 2.6 0 2.6 0 2.6 0 2.6 .1 2.6 0 2.6 0 2.6 0 2.7 .1 2.6 0 2.6 0 2.6 0 2.6 0 2.6 .1 2.6 0 2.6 0 2.6 0 2.6 0 2.6 0 2.6 0 2.6 0 2.6 .1 2.6 0 2.6 0 2.6 0 2.6 0 2.6 0 2.6 0 2.6 0 2.6 0 2.6 0 2.6 0 2.6 0 2.6 0 2.6 0 2.6 0 2.7 .1 2.6 0 2.6 0 2.6 0 2.6 0 2.6 0 2.6 0 2.6 0 2.6 0 2.6 0 2.6 0 2.6 0 2.6 0 2.6 0 2.6 0 2.6 0 2.6 0 2.6 0 2.6 0 2.6 0 2.6 0 2.6 0 2.6 0 2.6 .1 2.6 0 2.6 0 2.6 0 2.6 0 2.7 0 2.6 0 2.6 0 2.6 0 2.6 0 2.6 0 2.6 0 2.6 0 2.6 0 2.6 0 .9 0" stroke="#ff7f0e" stroke-width="3.6" stroke-dasharray="13.32 5.76" stroke-linecap="butt"/>
<path d="M151.1 154.7l2.6 .6 2.6 .5 2.6 .6 2.6 .5 2.6 .6 2.6 .6 2.6 .6 2.6 .6 2.6 .5 2.6 .4 2.6 .5 2.6 .5 2.6 .4 2.6 .5 2.7 .6 2.6 .6 2.6 .8 2.6 .9 2.6 .9 2.6 .9 2.6 1 2.6 1 2.6 1.2 2.6 1.2 2.6 1.3 2.6 1.4 2.6 1.4 2.6 1.6 2.6 1.8 2.6 2 2.6 2.2 2.6 2.1 2.6 2 2.6 2.2 2.6 2.5 2.6 2.9 2.6 2.9 2.6 2.7 2.6 2.7 2.6 2.9 2.6 3 2.6 3.2 2.7 3.4 2.6 3.5 2.6 3.2 2.6 3.3 2.6 3.7 2.6 4 2.6 3.7 2.6 3.5 2.6 3.4 2.6 3.2 2.6 3.2 2.6 3.2 2.6 3.1 2.6 3.1 2.6 3.2 2.6 3.3 2.6 3.3 2.6 3.5 2.6 3.6 2.6 3.7 2.6 3.9 2.6 4.1 2.6 4.5 2.6 5.3 2.6 5.7 2.6 4.9 2.6 4.4 2.6 4.1 2.7 4 2.6 3.9 2.6 3.8 2.6 3.6 2.6 3.4 2.6 3.1 2.6 2.8 2.6 2.8 2.6 2.7 2.6 2.9 2.6 3.1 2.6 3.2 2.6 3.1 2.6 2.9 2.6 2.6 2.6 2.6 2.6 2.7 2.6 2.7 2.6 2.8 2.6 2.6 2.6 2.5 2.6 2.4 2.6 2.4 2.6 2.2 2.6 2.2 2.6 2.2 2.6 2.1 2.6 2 2.7 2 2.6 1.8 2.6 1.8 2.6 1.7 2.6 1.6 2.6 1.5 2.6 1.3 2.6 1.3 2.6 1.2 2.6 1.3 2.6 1.3 2.6 1.2 2.6 1.3 2.6 1.2 2.6 1.1 2.6 .9 2.6 .8 2.6 .7 2.6 .6 2.6 .6 2.6 .5 2.6 .5 2.6 .5 2.6 .5 2.6 .4 2.6 .4 2.6 .4 2.6 .4 2.7 .3 2.6 .2 2.6 .2 2.6 .1 2.6 .1 2.6 0 2.6 0 2.6 0 2.6 -.1 2.6 -.1 2.6 -.1 2.6 -.1 2.6 -.1 2.6 -.2 2.6 -.4 2.6 -.4 2.6 -.5 2.6 -.4 2.6 -.3 2.6 -.3 2.6 -.3 2.6 -.4 2.6 -.3 2.6 -.3 2.6 -.4 2.6 -.4 2.6 -.4 2.6 -.4 2.7 -.4 2.6 -.5 2.6 -.4 2.6 -.5 2.6 -.5 2.6 -.5 2.6 -.5 2.6 -.5 2.6 -.6 2.6 -.5 2.6 -.5 2.6 -.6 2.6 -.6 2.6 -.5 2.6 -.6 2.6 -.5 2.6 -.6 2.6 -.6 2.6 -.6 2.6 -.5 2.6 -.6 2.6 -.6 2.6 -.6 2.6 -.6 2.6 -.6 2.6 -.6 2.6 -.6 2.6 -.7 2.6 -.6 2.7 -.6 2.6 -.7 2.6 -.6 2.6 -.7 2.6 -.6 2.6 -.6 2.6 -.7 2.6 -.6 2.6 -.6 2.6 -.6 2.6 -.7 2.6 -.6 2.6 -.6 2.6 -.6 2.6 -.6 2.6 -.6 2.6 -.6 2.6 -.6 2.6 -.6 2.6 -.6 2.6 -.6 2.6 -.6 2.6 -.6 2.6 -.6 2.6 -.6 2.6 -.5 2.6 -.6 2.6 -.6 2.7 -.6 2.6 -.6 2.6 -.6 2.6 -.5 2.6 -.6 2.6 -.6 2.6 -.6 2.6 -.5 2.6 -.6 2.6 -.6 2.6 -.5 2.6 -.6 2.6 -.5 2.6 -.6 2.6 -.5 2.6 -.6 2.6 -.6 2.6 -.5 2.6 -.6 2.6 -.6 2.6 -.5 2.6 -.6 2.6 -.6 2.6 -.5 2.6 -.6 2.6 -.5 2.6 -.6 2.6 -.5 2.7 -.5 2.6 -.5 2.6 -.6 2.6 -.4 2.6 -.5 2.6 -.5 2.6 -.5 2.6 -.4 2.6 -.4 2.6 -.4 2.6 -.4 2.6 -.4 2.6 -.4 2.6 -.4 2.6 -.4 2.6 -.4 2.6 -.3 2.6 -.4 2.6 -.4 2.6 -.3 2.6 -.4 2.6 -.3 2.6 -.4 2.6 -.3 2.6 -.4 2.6 -.3 2.6 -.4 2.6 -.3 2.7 -.3 2.6 -.3 2.6 -.3 2.6 -.3 2.6 -.3 2.6 -.3 2.6 -.3 2.6 -.3 2.6 -.3 2.6 -.2 2.6 -.3 2.6 -.3 2.6 -.2 2.6 -.3 2.6 -.2 2.6 -.2 2.6 -.2 2.6 -.3 2.6 -.2 2.6 -.2 2.6 -.2 2.6 -.2 2.6 -.2 2.6 -.2 2.6 -.1 2.6 -.2 2.6 -.2 2.6 -.2 2.7 -.2 2.6 -.2 2.6 -.2 2.6 -.1 2.6 -.2 2.6 -.2 2.6 -.2 2.6 -.1 2.6 -.2 2.6 -.2 2.6 -.2 2.6 -.1 2.6 -.2 2.6 -.1 2.6 -.2 2.6 -.1 2.6 -.2 2.6 -.1 2.6 -.2 2.6 -.1 2.6 -.1 2.6 -.2 2.6 -.1 2.6 -.1 2.6 -.1 2.6 -.1 2.6 -.1 2.6 -.1 2.7 -.1 2.6 -.1 2.6 -.1 2.6 -.1 2.6 -.1 2.6 -.1 2.6 0 2.6 -.1 2.6 -.1 2.6 0 .9 0" stroke="#ff7f0e" stroke-width="3.6" stroke-dasharray="3.60 5.94" stroke-linecap="butt"/>
<path d="M151.1 531.6l2.6 -.3 2.6 -.2 2.6 -.2 2.6 -.3 2.6 -.2 2.6 -.2 2.6 -.3 2.6 -.2 2.6 -.2 2.6 -.2 2.6 -.3 2.6 -.2 2.6 -.2 2.6 -.2 2.7 -.2 2.6 -.2 2.6 -.3 2.6 -.2 2.6 -.1 2.6 -.2 2.6 -.2 2.6 -.1 2.6 -.2 2.6 -.2 2.6 -.1 2.6 -.2 2.6 -.2 2.6 -.2 2.6 -.2 2.6 -.2 2.6 -.2 2.6 -.3 2.6 -.3 2.6 -.3 2.6 -.4 2.6 -.4 2.6 -.5 2.6 -.5 2.6 -.6 2.6 -.7 2.6 -.6 2.6 -.7 2.7 -.8 2.6 -.7 2.6 -.8 2.6 -.7 2.6 -.8 2.6 -.8 2.6 -.7 2.6 -.8 2.6 -.8 2.6 -.8 2.6 -.8 2.6 -.9 2.6 -.9 2.6 -.9 2.6 -.9 2.6 -1 2.6 -.9 2.6 -1 2.6 -.9 2.6 -1 2.6 -.9 2.6 -.9 2.6 -.9 2.6 -.9 2.6 -.8 2.6 -.8 2.6 -.8 2.6 -.7 2.7 -.8 2.6 -.7 2.6 -.7 2.6 -.8 2.6 -.7 2.6 -.7 2.6 -.7 2.6 -.7 2.6 -.8 2.6 -.7 2.6 -.8 2.6 -.7 2.6 -.8 2.6 -.8 2.6 -.8 2.6 -.9 2.6 -.9 2.6 -.9 2.6 -1 2.6 -.9 2.6 -1 2.6 -.9 2.6 -.9 2.6 -.9 2.6 -.9 2.6 -.8 2.6 -.7 2.6 -.7 2.7 -.6 2.6 -.6 2.6 -.5 2.6 -.5 2.6 -.4 2.6 -.5 2.6 -.4 2.6 -.4 2.6 -.4 2.6 -.3 2.6 -.4 2.6 -.3 2.6 -.3 2.6 -.4 2.6 -.3 2.6 -.3 2.6 -.3 2.6 -.3 2.6 -.3 2.6 -.3 2.6 -.3 2.6 -.3 2.6 -.3 2.6 -.2 2.6 -.3 2.6 -.3 2.6 -.2 2.6 -.3 2.7 -.2 2.6 -.3 2.6 -.2 2.6 -.2 2.6 -.2 2.6 -.2 2.6 -.2 2.6 -.2 2.6 -.2 2.6 -.2 2.6 -.1 2.6 -.2 2.6 -.1 2.6 -.2 2.6 -.1 2.6 -.2 2.6 -.1 2.6 -.1 2.6 -.2 2.6 -.1 2.6 -.1 2.6 -.1 2.6 -.2 2.6 -.1 2.6 -.1 2.6 -.1 2.6 -.1 2.6 0 2.7 -.1 2.6 -.1 2.6 -.1 2.6 -.1 2.6 0 2.6 -.1 2.6 -.1 2.6 -.1 2.6 -.1 2.6 -.1 2.6 0 2.6 -.1 2.6 -.2 2.6 -.1 2.6 -.1 2.6 -.1 2.6 -.1 2.6 -.1 2.6 -.2 2.6 -.1 2.6 -.1 2.6 -.2 2.6 -.1 2.6 -.1 2.6 -.2 2.6 -.1 2.6 -.2 2.6 -.1 2.6 -.2 2.7 -.1 2.6 -.2 2.6 -.1 2.6 -.2 2.6 -.1 2.6 -.2 2.6 -.2 2.6 -.1 2.6 -.2 2.6 -.2 2.6 -.1 2.6 -.2 2.6 -.2 2.6 -.2 2.6 -.1 2.6 -.2 2.6 -.2 2.6 -.2 2.6 -.2 2.6 -.2 2.6 -.1 2.6 -.2 2.6 -.2 2.6 -.2 2.6 -.2 2.6 -.2 2.6 -.2 2.6 -.2 2.7 -.2 2.6 -.2 2.6 -.2 2.6 -.1 2.6 -.2 2.6 -.2 2.6 -.2 2.6 -.2 2.6 -.2 2.6 -.2 2.6 -.2 2.6 -.2 2.6 -.2 2.6 -.2 2.6 -.2 2.6 -.2 2.6 -.2 2.6 -.2 2.6 -.2 2.6 -.2 2.6 -.2 2.6 -.2 2.6 -.2 2.6 -.2 2.6 -.2 2.6 -.2 2.6 -.2 2.6 -.2 2.7 -.1 2.6 -.2 2.6 -.2 2.6 -.2 2.6 -.2 2.6 -.2 2.6 -.2 2.6 -.2 2.6 -.2 2.6 -.1 2.6 -.2 2.6 -.2 2.6 -.2 2.6 -.2 2.6 -.1 2.6 -.2 2.6 -.2 2.6 -.2 2.6 -.2 2.6 -.2 2.6 -.1 2.6 -.2 2.6 -.2 2.6 -.2 2.6 -.2 2.6 -.1 2.6 -.2 2.6 -.2 2.7 -.2 2.6 -.2 2.6 -.2 2.6 -.2 2.6 -.1 2.6 -.2 2.6 -.2 2.6 -.2 2.6 -.2 2.6 -.2 2.6 -.1 2.6 -.2 2.6 -.2 2.6 -.2 2.6 -.2 2.6 -.2 2.6 -.2 2.6 -.1 2.6 -.2 2.6 -.2 2.6 -.2 2.6 -.2 2.6 -.2 2.6 -.2 2.6 -.2 2.6 -.1 2.6 -.2 2.6 -.2 2.7 -.2 2.6 -.2 2.6 -.2 2.6 -.2 2.6 -.2 2.6 -.2 2.6 -.1 2.6 -.2 2.6 -.2 2.6 -.2 2.6 -.2 2.6 -.2 2.6 -.2 2.6 -.2 2.6 -.2 2.6 -.1 2.6 -.2 2.6 -.2 2.6 -.2 2.6 -.2 2.6 -.2 2.6 -.2 2.6 -.2 2.6 -.2 2.6 -.2 2.6 -.2 2.6 -.2 2.6 -.1 2.7 -.2 2.6 -.2 2.6 -.2 2.6 -.2 2.6 -.2 2.6 -.2 2.6 -.2 2.6 -.2 2.6 -.2 2.6 -.2 .9 0" stroke="#ff7f0e" stroke-width="3.6" stroke-linecap="square"/>
<path d="M151.1 343.5l2.6 0 2.6 0 2.6 0 2.6 0 2.6 -.1 2.6 0 2.6 0 2.6 0 2.6 -.1 2.6 -.1 2.6 -.1 2.6 -.1 2.6 -.1 2.6 -.2 2.7 -.2 2.6 -.2 2.6 -.2 2.6 -.2 2.6 -.3 2.6 -.2 2.6 -.4 2.6 -.3 2.6 -.4 2.6 -.4 2.6 -.4 2.6 -.4 2.6 -.5 2.6 -.5 2.6 -.6 2.6 -.6 2.6 -.7 2.6 -.7 2.6 -.7 2.6 -.8 2.6 -.9 2.6 -.9 2.6 -1 2.6 -1.1 2.6 -1.1 2.6 -1.1 2.6 -1.1 2.6 -1.2 2.7 -1.2 2.6 -1.2 2.6 -1.3 2.6 -1.3 2.6 -1.4 2.6 -1.4 2.6 -1.5 2.6 -1.5 2.6 -1.6 2.6 -1.7 2.6 -1.7 2.6 -1.8 2.6 -1.9 2.6 -1.9 2.6 -2 2.6 -2 2.6 -2 2.6 -2 2.6 -2.2 2.6 -2.1 2.6 -2.2 2.6 -2.3 2.6 -2.3 2.6 -2.3 2.6 -2.4 2.6 -2.5 2.6 -2.5 2.6 -2.5 2.7 -2.6 2.6 -2.6 2.6 -2.7 2.6 -2.6 2.6 -2.7 2.6 -2.6 2.6 -2.6 2.6 -2.7 2.6 -2.7 2.6 -2.7 2.6 -2.7 2.6 -2.7 2.6 -2.7 2.6 -2.8 2.6 -2.9 2.6 -2.8 2.6 -2.9 2.6 -2.9 2.6 -2.9 2.6 -2.9 2.6 -2.9 2.6 -2.8 2.6 -2.8 2.6 -2.8 2.6 -2.8 2.6 -2.7 2.6 -2.8 2.6 -2.6 2.7 -2.7 2.6 -2.6 2.6 -2.6 2.6 -2.5 2.6 -2.6 2.6 -2.5 2.6 -2.4 2.6 -2.5 2.6 -2.4 2.6 -2.4 2.6 -2.4 2.6 -2.3 2.6 -2.4 2.6 -2.3 2.6 -2.3 2.6 -2.3 2.6 -2.3 2.6 -2.2 2.6 -2.3 2.6 -2.2 2.6 -2.3 2.6 -2.2 2.6 -2.2 2.6 -2.2 2.6 -2.2 2.6 -2.1 2.6 -2 2.6 -2 2.7 -2 2.6 -1.8 2.6 -1.8 2.6 -1.7 2.6 -1.7 2.6 -1.6 2.6 -1.6 2.6 -1.5 2.6 -1.5 2.6 -1.5 2.6 -1.4 2.6 -1.4 2.6 -1.3 2.6 -1.3 2.6 -1.3 2.6 -1.3 2.6 -1.3 2.6 -1.3 2.6 -1.3 2.6 -1.2 2.6 -1.2 2.6 -1.1 2.6 -1.1 2.6 -1.1 2.6 -1 2.6 -.9 2.6 -.9 2.6 -.8 2.7 -.9 2.6 -.8 2.6 -.8 2.6 -.7 2.6 -.8 2.6 -.7 2.6 -.6 2.6 -.7 2.6 -.6 2.6 -.6 2.6 -.6 2.6 -.5 2.6 -.4 2.6 -.4 2.6 -.4 2.6 -.4 2.6 -.4 2.6 -.4 2.6 -.3 2.6 -.4 2.6 -.3 2.6 -.4 2.6 -.3 2.6 -.2 2.6 -.3 2.6 -.2 2.6 -.1 2.6 -.1 2.6 -.1 2.7 0 2.6 -.1 2.6 0 2.6 0 2.6 -.1 2.6 0 2.6 0 2.6 0 2.6 0 2.6 -.1 2.6 0 2.6 .1 2.6 .1 2.6 .1 2.6 .2 2.6 .3 2.6 .3 2.6 .3 2.6 .3 2.6 .4 2.6 .3 2.6 .3 2.6 .3 2.6 .4 2.6 .3 2.6 .3 2.6 .3 2.6 .4 2.7 .3 2.6 .4 2.6 .3 2.6 .4 2.6 .4 2.6 .5 2.6 .4 2.6 .5 2.6 .6 2.6 .5 2.6 .6 2.6 .6 2.6 .7 2.6 .6 2.6 .6 2.6 .7 2.6 .6 2.6 .6 2.6 .6 2.6 .7 2.6 .6 2.6 .6 2.6 .6 2.6 .7 2.6 .6 2.6 .7 2.6 .6 2.6 .7 2.7 .6 2.6 .7 2.6 .7 2.6 .7 2.6 .7 2.6 .8 2.6 .7 2.6 .7 2.6 .7 2.6 .8 2.6 .7 2.6 .7 2.6 .7 2.6 .7 2.6 .7 2.6 .6 2.6 .7 2.6 .7 2.6 .7 2.6 .7 2.6 .7 2.6 .7 2.6 .7 2.6 .7 2.6 .7 2.6 .7 2.6 .7 2.6 .8 2.7 .7 2.6 .8 2.6 .7 2.6 .8 2.6 .8 2.6 .8 2.6 .8 2.6 .8 2.6 .7 2.6 .8 2.6 .8 2.6 .8 2.6 .8 2.6 .8 2.6 .7 2.6 .8 2.6 .8 2.6 .7 2.6 .8 2.6 .7 2.6 .8 2.6 .8 2.6 .7 2.6 .7 2.6 .8 2.6 .7 2.6 .7 2.6 .8 2.7 .7 2.6 .7 2.6 .7 2.6 .7 2.6 .7 2.6 .7 2.6 .7 2.6 .7 2.6 .6 2.6 .7 2.6 .7 2.6 .7 2.6 .7 2.6 .7 2.6 .7 2.6 .7 2.6 .6 2.6 .7 2.6 .7 2.6 .7 2.6 .6 2.6 .7 2.6 .7 2.6 .7 2.6 .6 2.6 .7 2.6 .7 2.6 .6 2.7 .6 2.6 .7 2.6 .6 2.6 .7 2.6 .6 2.6 .6 2.6 .7 2.6 .6 2.6 .6 2.6 .6 .9 .2" stroke="#2ca02c" stroke-width="3.6" stroke-linecap="square"/>
<path d="M144.1 336.5l14 14M144.1 350.5l14 -14M151.6 336.5l14 14M151.6 350.5l14 -14M160.4 336.4l14 14M160.4 350.4l14 -14M170.6 336.2l14 14M170.6 350.2l14 -14M182.4 335.6l14 14M182.4 349.6l14 -14M195.8 334.4l14 14M195.8 348.4l14 -14M210.7 332.3l14 14M210.7 346.3l14 -14M227.2 328.5l14 14M227.2 342.5l14 -14M245.3 322.2l14 14M245.3 336.2l14 -14M264.7 313.1l14 14M264.7 327.1l14 -14M285.6 300.3l14 14M285.6 314.3l14 -14M307.7 283.0l14 14M307.7 297.0l14 -14M331.1 261.2l14 14M331.1 275.2l14 -14M355.6 236.1l14 14M355.6 250.1l14 -14M381.2 208.1l14 14M381.2 222.1l14 -14M408.0 180.2l14 14M408.0 194.2l14 -14M435.9 154.2l14 14M435.9 168.2l14 -14M464.8 129.3l14 14M464.8 143.3l14 -14M494.9 108.8l14 14M494.9 122.8l14 -14M526.1 92.9l14 14M526.1 106.9l14 -14M558.5 81.6l14 14M558.5 95.6l14 -14M592.0 75.0l14 14M592.0 89.0l14 -14M626.8 72.2l14 14M626.8 86.2l14 -14M662.8 72.8l14 14M662.8 86.8l14 -14M700.1 77.6l14 14M700.1 91.6l14 -14M738.8 85.6l14 14M738.8 99.6l14 -14M778.9 95.7l14 14M778.9 109.7l14 -14M820.4 106.9l14 14M820.4 120.9l14 -14M863.4 119.3l14 14M863.4 133.3l14 -14M907.9 132.3l14 14M907.9 146.3l14 -14M954.1 144.6l14 14M954.1 158.6l14 -14M1001.9 156.7l14 14M1001.9 170.7l14 -14" stroke="#2ca02c" stroke-width="2.9" stroke-linecap="butt"/>
<path d="M151.1 343.5l2.6 0 2.6 0 2.6 0 2.6 -.1 2.6 0 2.6 -.1 2.6 0 2.6 -.1 2.6 -.1 2.6 0 2.6 -.1 2.6 -.1 2.6 -.1 2.6 -.1 2.7 -.2 2.6 -.3 2.6 -.3 2.6 -.3 2.6 -.4 2.6 -.5 2.6 -.5 2.6 -.5 2.6 -.6 2.6 -.6 2.6 -.9 2.6 -1 2.6 -1.2 2.6 -1.3 2.6 -1.4 2.6 -1.5 2.6 -1.5 2.6 -1.5 2.6 -1.5 2.6 -1.4 2.6 -1.4 2.6 -1.6 2.6 -1.5 2.6 -1.6 2.6 -1.6 2.6 -1.7 2.6 -1.6 2.6 -1.6 2.7 -1.6 2.6 -1.6 2.6 -1.5 2.6 -1.6 2.6 -1.5 2.6 -1.6 2.6 -1.6 2.6 -1.5 2.6 -1.6 2.6 -1.5 2.6 -1.5 2.6 -1.5 2.6 -1.4 2.6 -1.4 2.6 -1.3 2.6 -1.3 2.6 -1.4 2.6 -1.3 2.6 -1.5 2.6 -1.4 2.6 -1.5 2.6 -1.4 2.6 -1.3 2.6 -1.3 2.6 -1.2 2.6 -1 2.6 -.9 2.6 -.7 2.7 -.4 2.6 -.3 2.6 -.1 2.6 0 2.6 0 2.6 0 2.6 0 2.6 0 2.6 0 2.6 0 2.6 0 2.6 0 2.6 0 2.6 .1 2.6 .1 2.6 .3 2.6 .3 2.6 .4 2.6 .4 2.6 .5 2.6 .5 2.6 .6 2.6 .8 2.6 1 2.6 1 2.6 1.1 2.6 1.1 2.6 1 2.7 1 2.6 1 2.6 1 2.6 1 2.6 1.1 2.6 1.1 2.6 1.3 2.6 1.3 2.6 1.5 2.6 1.4 2.6 1.6 2.6 1.5 2.6 1.5 2.6 1.5 2.6 1.5 2.6 1.5 2.6 1.6 2.6 1.5 2.6 1.6 2.6 1.5 2.6 1.5 2.6 1.5 2.6 1.5 2.6 1.6 2.6 1.5 2.6 1.6 2.6 1.6 2.6 1.7 2.7 1.8 2.6 1.7 2.6 1.8 2.6 1.8 2.6 1.7 2.6 1.7 2.6 1.8 2.6 1.7 2.6 1.8 2.6 1.7 2.6 1.7 2.6 1.7 2.6 1.6 2.6 1.7 2.6 1.6 2.6 1.7 2.6 1.5 2.6 1.6 2.6 1.6 2.6 1.5 2.6 1.5 2.6 1.6 2.6 1.5 2.6 1.5 2.6 1.5 2.6 1.4 2.6 1.5 2.6 1.4 2.7 1.4 2.6 1.4 2.6 1.3 2.6 1.3 2.6 1.3 2.6 1.3 2.6 1.2 2.6 1.3 2.6 1.2 2.6 1.3 2.6 1.2 2.6 1.2 2.6 1.2 2.6 1.1 2.6 1.1 2.6 1.1 2.6 1.1 2.6 1 2.6 .9 2.6 .9 2.6 .9 2.6 .8 2.6 .8 2.6 .7 2.6 .8 2.6 .7 2.6 .7 2.6 .7 2.6 .7 2.7 .6 2.6 .6 2.6 .6 2.6 .6 2.6 .6 2.6 .5 2.6 .5 2.6 .5 2.6 .5 2.6 .5 2.6 .5 2.6 .4 2.6 .5 2.6 .4 2.6 .5 2.6 .4 2.6 .4 2.6 .4 2.6 .4 2.6 .4 2.6 .3 2.6 .3 2.6 .3 2.6 .3 2.6 .2 2.6 .3 2.6 .2 2.6 .2 2.7 .3 2.6 .2 2.6 .2 2.6 .2 2.6 .2 2.6 .2 2.6 .2 2.6 .1 2.6 .2 2.6 .1 2.6 .1 2.6 0 2.6 .1 2.6 0 2.6 0 2.6 0 2.6 0 2.6 0 2.6 0 2.6 0 2.6 0 2.6 0 2.6 0 2.6 0 2.6 0 2.6 0 2.6 0 2.6 0 2.7 0 2.6 0 2.6 0 2.6 0 2.6 0 2.6 -.1 2.6 0 2.6 -.1 2.6 -.1 2.6 -.1 2.6 -.1 2.6 -.1 2.6 -.1 2.6 -.2 2.6 -.1 2.6 -.2 2.6 -.2 2.6 -.2 2.6 -.1 2.6 -.2 2.6 -.3 2.6 -.2 2.6 -.2 2.6 -.2 2.6 -.3 2.6 -.2 2.6 -.2 2.6 -.3 2.7 -.3 2.6 -.2 2.6 -.3 2.6 -.3 2.6 -.2 2.6 -.3 2.6 -.3 2.6 -.2 2.6 -.3 2.6 -.3 2.6 -.3 2.6 -.3 2.6 -.2 2.6 -.3 2.6 -.3 2.6 -.3 2.6 -.2 2.6 -.3 2.6 -.3 2.6 -.2 2.6 -.3 2.6 -.3 2.6 -.3 2.6 -.2 2.6 -.3 2.6 -.3 2.6 -.3 2.6 -.3 2.7 -.3 2.6 -.3 2.6 -.4 2.6 -.3 2.6 -.3 2.6 -.3 2.6 -.4 2.6 -.3 2.6 -.4 2.6 -.3 2.6 -.4 2.6 -.3 2.6 -.4 2.6 -.4 2.6 -.4 2.6 -.3 2.6 -.4 2.6 -.4 2.6 -.4 2.6 -.4 2.6 -.4 2.6 -.4 2.6 -.4 2.6 -.4 2.6 -.4 2.6 -.4 2.6 -.4 2.6 -.5 2.7 -.4 2.6 -.4 2.6 -.4 2.6 -.5 2.6 -.4 2.6 -.4 2.6 -.5 2.6 -.4 2.6 -.5 2.6 -.4 .9 -.2" stroke="#2ca02c" stroke-width="3.6" stroke-dasharray="23.04 5.76 3.60 5.76" stroke-linecap="butt"/>
<path d="M151.1 343.5l2.6 0 2.6 0 2.6 0 2.6 0 2.6 0 2.6 .1 2.6 0 2.6 0 2.6 0 2.6 .1 2.6 0 2.6 0 2.6 0 2.6 .1 2.7 0 2.6 0 2.6 .1 2.6 0 2.6 0 2.6 .1 2.6 0 2.6 .1 2.6 0 2.6 .1 2.6 0 2.6 .1 2.6 .1 2.6 0 2.6 .1 2.6 .1 2.6 .1 2.6 0 2.6 .1 2.6 .1 2.6 .1 2.6 .1 2.6 .1 2.6 .1 2.6 .2 2.6 .1 2.6 .1 2.6 .2 2.7 .1 2.6 .2 2.6 .2 2.6 .1 2.6 .2 2.6 .2 2.6 .2 2.6 .2 2.6 .2 2.6 .2 2.6 .2 2.6 .2 2.6 .3 2.6 .3 2.6 .2 2.6 .3 2.6 .3 2.6 .3 2.6 .3 2.6 .3 2.6 .3 2.6 .3 2.6 .3 2.6 .4 2.6 .3 2.6 .3 2.6 .3 2.6 .3 2.7 .3 2.6 .4 2.6 .3 2.6 .2 2.6 .3 2.6 .3 2.6 .3 2.6 .2 2.6 .3 2.6 .3 2.6 .2 2.6 .3 2.6 .2 2.6 .3 2.6 .2 2.6 .3 2.6 .2 2.6 .3 2.6 .2 2.6 .3 2.6 .2 2.6 .3 2.6 .2 2.6 .3 2.6 .2 2.6 .2 2.6 .3 2.6 .2 2.7 .3 2.6 .2 2.6 .3 2.6 .2 2.6 .3 2.6 .2 2.6 .3 2.6 .2 2.6 .3 2.6 .2 2.6 .3 2.6 .2 2.6 .3 2.6 .2 2.6 .3 2.6 .2 2.6 .3 2.6 .2 2.6 .3 2.6 .2 2.6 .3 2.6 .2 2.6 .3 2.6 .2 2.6 .3 2.6 .2 2.6 .2 2.6 .3 2.7 .2 2.6 .2 2.6 .3 2.6 .2 2.6 .2 2.6 .3 2.6 .2 2.6 .3 2.6 .2 2.6 .2 2.6 .2 2.6 .3 2.6 .2 2.6 .2 2.6 .3 2.6 .2 2.6 .2 2.6 .2 2.6 .2 2.6 .3 2.6 .2 2.6 .2 2.6 .2 2.6 .2 2.6 .2 2.6 .2 2.6 .2 2.6 .2 2.7 .2 2.6 .2 2.6 .2 2.6 .2 2.6 .2 2.6 .2 2.6 .2 2.6 .1 2.6 .2 2.6 .2 2.6 .2 2.6 .2 2.6 .1 2.6 .2 2.6 .2 2.6 .2 2.6 .1 2.6 .2 2.6 .2 2.6 .1 2.6 .2 2.6 .1 2.6 .2 2.6 .1 2.6 .2 2.6 .1 2.6 .1 2.6 .2 2.6 .1 2.7 .2 2.6 .1 2.6 .1 2.6 .2 2.6 .1 2.6 .1 2.6 .2 2.6 .1 2.6 .1 2.6 .1 2.6 .1 2.6 .2 2.6 .1 2.6 .1 2.6 .1 2.6 .1 2.6 .1 2.6 .1 2.6 .1 2.6 .1 2.6 .1 2.6 .1 2.6 .1 2.6 .1 2.6 .1 2.6 .1 2.6 .1 2.6 .1 2.7 .1 2.6 .1 2.6 .1 2.6 .1 2.6 .1 2.6 .1 2.6 .1 2.6 .1 2.6 0 2.6 .1 2.6 .1 2.6 .1 2.6 .1 2.6 .1 2.6 .1 2.6 0 2.6 .1 2.6 .1 2.6 .1 2.6 0 2.6 .1 2.6 .1 2.6 0 2.6 .1 2.6 0 2.6 .1 2.6 .1 2.6 0 2.7 .1 2.6 0 2.6 0 2.6 .1 2.6 0 2.6 .1 2.6 0 2.6 0 2.6 .1 2.6 0 2.6 0 2.6 .1 2.6 0 2.6 0 2.6 .1 2.6 0 2.6 0 2.6 .1 2.6 0 2.6 0 2.6 .1 2.6 0 2.6 0 2.6 0 2.6 .1 2.6 0 2.6 0 2.6 0 2.7 .1 2.6 0 2.6 0 2.6 0 2.6 0 2.6 .1 2.6 0 2.6 0 2.6 0 2.6 0 2.6 0 2.6 .1 2.6 0 2.6 0 2.6 0 2.6 0 2.6 0 2.6 0 2.6 0 2.6 0 2.6 0 2.6 0 2.6 0 2.6 0 2.6 .1 2.6 0 2.6 0 2.6 0 2.7 0 2.6 0 2.6 0 2.6 0 2.6 0 2.6 0 2.6 0 2.6 0 2.6 0 2.6 0 2.6 0 2.6 0 2.6 0 2.6 .1 2.6 0 2.6 0 2.6 0 2.6 0 2.6 0 2.6 0 2.6 0 2.6 0 2.6 0 2.6 0 2.6 0 2.6 0 2.6 0 2.6 0 2.7 0 2.6 0 2.6 0 2.6 0 2.6 0 2.6 0 2.6 0 2.6 0 2.6 0 2.6 0 .9 0" stroke="#2ca02c" stroke-width="3.6" stroke-dasharray="13.32 5.76" stroke-linecap="butt"/>
<path d="M151.1 142.6l2.6 .7 2.6 .7 2.6 .7 2.6 .6 2.6 .6 2.6 .5 2.6 .5 2.6 .5 2.6 .6 2.6 .7 2.6 .6 2.6 .6 2.6 .6 2.6 .6 2.7 .6 2.6 .7 2.6 .9 2.6 .9 2.6 1 2.6 1.1 2.6 1.2 2.6 1.2 2.6 1.2 2.6 1.2 2.6 1.3 2.6 1.6 2.6 1.7 2.6 1.9 2.6 2.1 2.6 2.3 2.6 2.3 2.6 2.4 2.6 2.4 2.6 2.5 2.6 2.5 2.6 2.7 2.6 2.9 2.6 3.2 2.6 3.4 2.6 3.4 2.6 3.4 2.6 3.1 2.7 3 2.6 3.6 2.6 4 2.6 4 2.6 4.1 2.6 4 2.6 3.9 2.6 3.9 2.6 3.7 2.6 3.6 2.6 3.6 2.6 3.5 2.6 3.5 2.6 3.6 2.6 3.5 2.6 3.6 2.6 3.6 2.6 3.7 2.6 3.8 2.6 3.8 2.6 3.8 2.6 4.1 2.6 4.5 2.6 5.3 2.6 5.7 2.6 4.9 2.6 4.4 2.6 4.1 2.7 4 2.6 3.8 2.6 3.8 2.6 3.6 2.6 3.5 2.6 3.4 2.6 3.3 2.6 3.2 2.6 3.2 2.6 3.3 2.6 3.4 2.6 3.5 2.6 3.3 2.6 2.9 2.6 2.7 2.6 2.6 2.6 2.8 2.6 2.8 2.6 2.8 2.6 2.7 2.6 2.6 2.6 2.5 2.6 2.4 2.6 2.5 2.6 2.5 2.6 2.4 2.6 2.2 2.6 2.2 2.7 2 2.6 1.8 2.6 1.7 2.6 1.6 2.6 1.4 2.6 1.4 2.6 1.4 2.6 1.3 2.6 1.3 2.6 1.5 2.6 1.5 2.6 1.5 2.6 1.3 2.6 1.1 2.6 .9 2.6 .8 2.6 .7 2.6 .7 2.6 .8 2.6 .7 2.6 .5 2.6 .4 2.6 .4 2.6 .3 2.6 .3 2.6 .2 2.6 .3 2.6 .2 2.7 .2 2.6 .1 2.6 .2 2.6 0 2.6 0 2.6 -.1 2.6 0 2.6 -.1 2.6 -.2 2.6 -.2 2.6 -.2 2.6 -.2 2.6 -.2 2.6 -.2 2.6 -.3 2.6 -.3 2.6 -.4 2.6 -.3 2.6 -.4 2.6 -.3 2.6 -.4 2.6 -.4 2.6 -.4 2.6 -.6 2.6 -.6 2.6 -.5 2.6 -.5 2.6 -.4 2.7 -.4 2.6 -.5 2.6 -.4 2.6 -.5 2.6 -.4 2.6 -.5 2.6 -.4 2.6 -.5 2.6 -.4 2.6 -.4 2.6 -.5 2.6 -.4 2.6 -.5 2.6 -.5 2.6 -.4 2.6 -.5 2.6 -.5 2.6 -.5 2.6 -.5 2.6 -.6 2.6 -.5 2.6 -.6 2.6 -.6 2.6 -.6 2.6 -.7 2.6 -.6 2.6 -.7 2.6 -.7 2.6 -.7 2.7 -.7 2.6 -.7 2.6 -.8 2.6 -.7 2.6 -.7 2.6 -.7 2.6 -.8 2.6 -.7 2.6 -.7 2.6 -.6 2.6 -.7 2.6 -.6 2.6 -.7 2.6 -.6 2.6 -.6 2.6 -.7 2.6 -.6 2.6 -.6 2.6 -.7 2.6 -.6 2.6 -.6 2.6 -.6 2.6 -.6 2.6 -.6 2.6 -.6 2.6 -.7 2.6 -.6 2.6 -.6 2.7 -.6 2.6 -.6 2.6 -.5 2.6 -.6 2.6 -.6 2.6 -.6 2.6 -.6 2.6 -.6 2.6 -.5 2.6 -.6 2.6 -.6 2.6 -.6 2.6 -.5 2.6 -.6 2.6 -.6 2.6 -.5 2.6 -.6 2.6 -.6 2.6 -.6 2.6 -.6 2.6 -.5 2.6 -.6 2.6 -.6 2.6 -.6 2.6 -.5 2.6 -.6 2.6 -.6 2.6 -.5 2.7 -.5 2.6 -.6 2.6 -.5 2.6 -.5 2.6 -.5 2.6 -.5 2.6 -.4 2.6 -.5 2.6 -.4 2.6 -.4 2.6 -.4 2.6 -.4 2.6 -.4 2.6 -.4 2.6 -.3 2.6 -.4 2.6 -.4 2.6 -.4 2.6 -.3 2.6 -.4 2.6 -.3 2.6 -.4 2.6 -.3 2.6 -.4 2.6 -.3 2.6 -.3 2.6 -.4 2.6 -.3 2.7 -.3 2.6 -.3 2.6 -.3 2.6 -.3 2.6 -.3 2.6 -.3 2.6 -.3 2.6 -.2 2.6 -.3 2.6 -.3 2.6 -.3 2.6 -.2 2.6 -.3 2.6 -.2 2.6 -.2 2.6 -.3 2.6 -.2 2.6 -.2 2.6 -.3 2.6 -.2 2.6 -.2 2.6 -.2 2.6 -.2 2.6 -.2 2.6 -.2 2.6 -.2 2.6 -.2 2.6 -.2 2.7 -.2 2.6 -.2 2.6 -.2 2.6 -.2 2.6 -.1 2.6 -.2 2.6 -.2 2.6 -.2 2.6 -.2 2.6 -.2 2.6 -.1 2.6 -.2 2.6 -.2 2.6 -.1 2.6 -.2 2.6 -.2 2.6 -.1 2.6 -.2 2.6 -.1 2.6 -.2 2.6 -.1 2.6 -.2 2.6 -.1 2.6 -.1 2.6 -.2 2.6 -.1 2.6 -.1 2.6 -.1 2.7 -.1 2.6 -.1 2.6 -.1 2.6 -.1 2.6 -.1 2.6 -.1 2.6 -.1 2.6 -.1 2.6 -.1 2.6 -.1 .9 0" stroke="#2ca02c" stroke-width="3.6" stroke-dasharray="3.60 5.94" stroke-linecap="butt"/>
<path d="M151.1 543.6l2.6 -.2 2.6 -.2 2.6 -.2 2.6 -.2 2.6 -.2 2.6 -.2 2.6 -.2 2.6 -.2 2.6 -.2 2.6 -.2 2.6 -.2 2.6 -.2 2.6 -.2 2.6 -.2 2.7 -.2 2.6 -.2 2.6 -.2 2.6 -.1 2.6 -.2 2.6 -.2 2.6 -.2 2.6 -.1 2.6 -.2 2.6 -.2 2.6 -.1 2.6 -.2 2.6 -.2 2.6 -.2 2.6 -.2 2.6 -.3 2.6 -.2 2.6 -.3 2.6 -.3 2.6 -.3 2.6 -.4 2.6 -.5 2.6 -.5 2.6 -.5 2.6 -.7 2.6 -.6 2.6 -.7 2.6 -.8 2.7 -.7 2.6 -.8 2.6 -.8 2.6 -.9 2.6 -.8 2.6 -.9 2.6 -.8 2.6 -.9 2.6 -.9 2.6 -1 2.6 -1 2.6 -1.1 2.6 -1.2 2.6 -1.1 2.6 -1.3 2.6 -1.2 2.6 -1.2 2.6 -1.3 2.6 -1.2 2.6 -1.3 2.6 -1.2 2.6 -1.1 2.6 -1.2 2.6 -1.1 2.6 -1 2.6 -1 2.6 -1 2.6 -1 2.7 -1 2.6 -1 2.6 -.9 2.6 -1 2.6 -.9 2.6 -.9 2.6 -.9 2.6 -.9 2.6 -.9 2.6 -.9 2.6 -.9 2.6 -.8 2.6 -.9 2.6 -.9 2.6 -.8 2.6 -.9 2.6 -.8 2.6 -.9 2.6 -.8 2.6 -.9 2.6 -.8 2.6 -.8 2.6 -.8 2.6 -.8 2.6 -.8 2.6 -.7 2.6 -.7 2.6 -.7 2.7 -.6 2.6 -.6 2.6 -.5 2.6 -.6 2.6 -.5 2.6 -.5 2.6 -.5 2.6 -.5 2.6 -.5 2.6 -.5 2.6 -.4 2.6 -.4 2.6 -.4 2.6 -.4 2.6 -.4 2.6 -.4 2.6 -.3 2.6 -.4 2.6 -.3 2.6 -.3 2.6 -.3 2.6 -.3 2.6 -.3 2.6 -.3 2.6 -.2 2.6 -.3 2.6 -.2 2.6 -.3 2.7 -.2 2.6 -.2 2.6 -.2 2.6 -.2 2.6 -.2 2.6 -.2 2.6 -.2 2.6 -.2 2.6 -.2 2.6 -.2 2.6 -.1 2.6 -.2 2.6 -.2 2.6 -.1 2.6 -.2 2.6 -.1 2.6 -.2 2.6 -.1 2.6 -.1 2.6 -.2 2.6 -.1 2.6 -.1 2.6 -.1 2.6 -.2 2.6 -.1 2.6 -.1 2.6 -.1 2.6 -.1 2.7 -.1 2.6 -.1 2.6 -.1 2.6 -.1 2.6 -.1 2.6 -.1 2.6 -.1 2.6 -.1 2.6 -.1 2.6 -.1 2.6 -.1 2.6 -.1 2.6 -.1 2.6 -.2 2.6 -.1 2.6 -.1 2.6 -.2 2.6 -.1 2.6 -.2 2.6 -.1 2.6 -.2 2.6 -.2 2.6 -.1 2.6 -.2 2.6 -.2 2.6 -.1 2.6 -.2 2.6 -.2 2.6 -.2 2.7 -.2 2.6 -.1 2.6 -.2 2.6 -.2 2.6 -.2 2.6 -.2 2.6 -.2 2.6 -.2 2.6 -.2 2.6 -.2 2.6 -.2 2.6 -.3 2.6 -.2 2.6 -.2 2.6 -.2 2.6 -.2 2.6 -.2 2.6 -.3 2.6 -.2 2.6 -.2 2.6 -.2 2.6 -.3 2.6 -.2 2.6 -.2 2.6 -.2 2.6 -.3 2.6 -.2 2.6 -.2 2.7 -.3 2.6 -.2 2.6 -.2 2.6 -.3 2.6 -.2 2.6 -.2 2.6 -.3 2.6 -.2 2.6 -.2 2.6 -.3 2.6 -.2 2.6 -.2 2.6 -.3 2.6 -.2 2.6 -.2 2.6 -.3 2.6 -.2 2.6 -.2 2.6 -.3 2.6 -.2 2.6 -.2 2.6 -.3 2.6 -.2 2.6 -.2 2.6 -.2 2.6 -.3 2.6 -.2 2.6 -.2 2.7 -.2 2.6 -.2 2.6 -.3 2.6 -.2 2.6 -.2 2.6 -.2 2.6 -.2 2.6 -.2 2.6 -.2 2.6 -.2 2.6 -.2 2.6 -.2 2.6 -.2 2.6 -.2 2.6 -.2 2.6 -.2 2.6 -.2 2.6 -.2 2.6 -.2 2.6 -.2 2.6 -.2 2.6 -.2 2.6 -.2 2.6 -.2 2.6 -.2 2.6 -.2 2.6 -.2 2.6 -.2 2.7 -.2 2.6 -.2 2.6 -.2 2.6 -.2 2.6 -.2 2.6 -.2 2.6 -.2 2.6 -.2 2.6 -.2 2.6 -.2 2.6 -.2 2.6 -.2 2.6 -.2 2.6 -.2 2.6 -.2 2.6 -.2 2.6 -.2 2.6 -.2 2.6 -.2 2.6 -.2 2.6 -.2 2.6 -.1 2.6 -.2 2.6 -.2 2.6 -.2 2.6 -.2 2.6 -.2 2.6 -.2 2.7 -.2 2.6 -.2 2.6 -.2 2.6 -.2 2.6 -.2 2.6 -.2 2.6 -.2 2.6 -.2 2.6 -.1 2.6 -.2 2.6 -.2 2.6 -.2 2.6 -.2 2.6 -.2 2.6 -.2 2.6 -.2 2.6 -.2 2.6 -.2 2.6 -.2 2.6 -.1 2.6 -.2 2.6 -.2 2.6 -.2 2.6 -.2 2.6 -.2 2.6 -.2 2.6 -.2 2.6 -.2 2.7 -.1 2.6 -.2 2.6 -.2 2.6 -.2 2.6 -.2 2.6 -.2 2.6 -.2 2.6 -.2 2.6 -.1 2.6 -.2 .9 -.1" stroke="#2ca02c" stroke-width="3.6" stroke-linecap="square"/>
<path d="M151.1 343.5l2.6 0 2.6 0 2.6 0 2.6 0 2.6 -.1 2.6 0 2.6 0 2.6 -.1 2.6 0 2.6 -.1 2.6 -.1 2.6 -.1 2.6 -.2 2.6 -.2 2.7 -.1 2.6 -.2 2.6 -.2 2.6 -.3 2.6 -.2 2.6 -.3 2.6 -.4 2.6 -.3 2.6 -.4 2.6 -.4 2.6 -.4 2.6 -.5 2.6 -.5 2.6 -.5 2.6 -.6 2.6 -.7 2.6 -.7 2.6 -.7 2.6 -.8 2.6 -.8 2.6 -.8 2.6 -1 2.6 -1 2.6 -1.1 2.6 -1.1 2.6 -1.2 2.6 -1.2 2.6 -1.1 2.7 -1.3 2.6 -1.2 2.6 -1.3 2.6 -1.4 2.6 -1.4 2.6 -1.4 2.6 -1.5 2.6 -1.6 2.6 -1.6 2.6 -1.7 2.6 -1.8 2.6 -1.8 2.6 -1.9 2.6 -2 2.6 -2 2.6 -2 2.6 -2 2.6 -2.1 2.6 -2.2 2.6 -2.2 2.6 -2.3 2.6 -2.3 2.6 -2.3 2.6 -2.4 2.6 -2.4 2.6 -2.5 2.6 -2.5 2.6 -2.6 2.7 -2.6 2.6 -2.7 2.6 -2.6 2.6 -2.7 2.6 -2.7 2.6 -2.6 2.6 -2.7 2.6 -2.7 2.6 -2.7 2.6 -2.7 2.6 -2.7 2.6 -2.8 2.6 -2.8 2.6 -2.8 2.6 -2.8 2.6 -2.9 2.6 -2.9 2.6 -2.9 2.6 -3 2.6 -2.9 2.6 -2.8 2.6 -2.9 2.6 -2.8 2.6 -2.8 2.6 -2.8 2.6 -2.8 2.6 -2.7 2.6 -2.7 2.7 -2.6 2.6 -2.7 2.6 -2.5 2.6 -2.6 2.6 -2.5 2.6 -2.5 2.6 -2.4 2.6 -2.5 2.6 -2.4 2.6 -2.4 2.6 -2.4 2.6 -2.3 2.6 -2.3 2.6 -2.4 2.6 -2.3 2.6 -2.3 2.6 -2.2 2.6 -2.3 2.6 -2.2 2.6 -2.2 2.6 -2.3 2.6 -2.2 2.6 -2.2 2.6 -2.2 2.6 -2.2 2.6 -2.1 2.6 -2.1 2.6 -2 2.7 -1.9 2.6 -1.9 2.6 -1.8 2.6 -1.7 2.6 -1.7 2.6 -1.6 2.6 -1.5 2.6 -1.6 2.6 -1.4 2.6 -1.5 2.6 -1.4 2.6 -1.4 2.6 -1.3 2.6 -1.3 2.6 -1.3 2.6 -1.2 2.6 -1.3 2.6 -1.2 2.6 -1.3 2.6 -1.1 2.6 -1.2 2.6 -1.1 2.6 -1.1 2.6 -1 2.6 -1 2.6 -.9 2.6 -.9 2.6 -.8 2.7 -.8 2.6 -.8 2.6 -.8 2.6 -.7 2.6 -.8 2.6 -.7 2.6 -.6 2.6 -.7 2.6 -.6 2.6 -.6 2.6 -.5 2.6 -.5 2.6 -.5 2.6 -.4 2.6 -.4 2.6 -.4 2.6 -.4 2.6 -.4 2.6 -.3 2.6 -.4 2.6 -.4 2.6 -.3 2.6 -.3 2.6 -.3 2.6 -.2 2.6 -.2 2.6 -.2 2.6 -.1 2.6 -.1 2.7 0 2.6 -.1 2.6 0 2.6 -.1 2.6 0 2.6 -.1 2.6 0 2.6 0 2.6 0 2.6 -.1 2.6 0 2.6 .1 2.6 .1 2.6 .2 2.6 .2 2.6 .2 2.6 .3 2.6 .4 2.6 .3 2.6 .4 2.6 .3 2.6 .4 2.6 .3 2.6 .3 2.6 .3 2.6 .3 2.6 .3 2.6 .4 2.7 .3 2.6 .4 2.6 .3 2.6 .4 2.6 .4 2.6 .4 2.6 .5 2.6 .5 2.6 .6 2.6 .5 2.6 .6 2.6 .7 2.6 .6 2.6 .6 2.6 .7 2.6 .6 2.6 .7 2.6 .6 2.6 .6 2.6 .7 2.6 .6 2.6 .6 2.6 .6 2.6 .7 2.6 .6 2.6 .6 2.6 .7 2.6 .6 2.7 .7 2.6 .7 2.6 .7 2.6 .7 2.6 .7 2.6 .7 2.6 .8 2.6 .7 2.6 .7 2.6 .7 2.6 .8 2.6 .7 2.6 .7 2.6 .7 2.6 .6 2.6 .7 2.6 .7 2.6 .7 2.6 .7 2.6 .7 2.6 .7 2.6 .7 2.6 .7 2.6 .7 2.6 .7 2.6 .7 2.6 .7 2.6 .7 2.7 .8 2.6 .7 2.6 .8 2.6 .7 2.6 .8 2.6 .8 2.6 .8 2.6 .7 2.6 .8 2.6 .8 2.6 .8 2.6 .8 2.6 .7 2.6 .8 2.6 .8 2.6 .8 2.6 .7 2.6 .8 2.6 .8 2.6 .8 2.6 .7 2.6 .8 2.6 .8 2.6 .7 2.6 .8 2.6 .7 2.6 .8 2.6 .7 2.7 .7 2.6 .8 2.6 .7 2.6 .7 2.6 .7 2.6 .7 2.6 .7 2.6 .7 2.6 .7 2.6 .7 2.6 .7 2.6 .6 2.6 .7 2.6 .7 2.6 .7 2.6 .7 2.6 .7 2.6 .6 2.6 .7 2.6 .7 2.6 .7 2.6 .6 2.6 .7 2.6 .7 2.6 .7 2.6 .6 2.6 .7 2.6 .7 2.7 .7 2.6 .6 2.6 .7 2.6 .6 2.6 .7 2.6 .7 2.6 .6 2.6 .7 2.6 .6 2.6 .7 .9 .2" stroke="#d62728" stroke-width="3.6" stroke-linecap="square"/>
<path d="M144.1 336.5l14 14M144.1 350.5l14 -14M151.6 336.5l14 14M151.6 350.5l14 -14M160.4 336.4l14 14M160.4 350.4l14 -14M170.6 336.2l14 14M170.6 350.2l14 -14M182.4 335.5l14 14M182.4 349.5l14 -14M195.8 334.3l14 14M195.8 348.3l14 -14M210.7 332.1l14 14M210.7 346.1l14 -14M227.2 328.2l14 14M227.2 342.2l14 -14M245.3 321.7l14 14M245.3 335.7l14 -14M264.7 312.5l14 14M264.7 326.5l14 -14M285.6 299.5l14 14M285.6 313.5l14 -14M307.7 281.8l14 14M307.7 295.8l14 -14M331.1 259.6l14 14M331.1 273.6l14 -14M355.6 234.3l14 14M355.6 248.3l14 -14M381.2 206.1l14 14M381.2 220.1l14 -14M408.0 178.1l14 14M408.0 192.1l14 -14M435.9 152.3l14 14M435.9 166.3l14 -14M464.8 127.4l14 14M464.8 141.4l14 -14M494.9 106.8l14 14M494.9 120.8l14 -14M526.1 91.3l14 14M526.1 105.3l14 -14M558.5 80.2l14 14M558.5 94.2l14 -14M592.0 73.6l14 14M592.0 87.6l14 -14M626.8 70.7l14 14M626.8 84.7l14 -14M662.8 71.3l14 14M662.8 85.3l14 -14M700.1 76.1l14 14M700.1 90.1l14 -14M738.8 84.2l14 14M738.8 98.2l14 -14M778.9 94.3l14 14M778.9 108.3l14 -14M820.4 105.5l14 14M820.4 119.5l14 -14M863.4 117.7l14 14M863.4 131.7l14 -14M907.9 130.9l14 14M907.9 144.9l14 -14M954.1 143.3l14 14M954.1 157.3l14 -14M1001.9 155.7l14 14M1001.9 169.7l14 -14" stroke="#d62728" stroke-width="2.9" stroke-linecap="butt"/>
<path d="M151.1 343.5l2.6 0 2.6 0 2.6 -.1 2.6 0 2.6 -.1 2.6 0 2.6 -.1 2.6 -.1 2.6 -.1 2.6 -.1 2.6 -.1 2.6 -.1 2.6 -.1 2.6 -.2 2.7 -.2 2.6 -.2 2.6 -.4 2.6 -.4 2.6 -.4 2.6 -.5 2.6 -.5 2.6 -.6 2.6 -.6 2.6 -.7 2.6 -1 2.6 -1.2 2.6 -1.3 2.6 -1.5 2.6 -1.7 2.6 -1.6 2.6 -1.7 2.6 -1.7 2.6 -1.6 2.6 -1.5 2.6 -1.6 2.6 -1.5 2.6 -1.7 2.6 -1.6 2.6 -1.6 2.6 -1.7 2.6 -1.6 2.6 -1.7 2.7 -1.6 2.6 -1.6 2.6 -1.6 2.6 -1.7 2.6 -1.6 2.6 -1.7 2.6 -1.7 2.6 -1.7 2.6 -1.6 2.6 -1.7 2.6 -1.6 2.6 -1.5 2.6 -1.6 2.6 -1.4 2.6 -1.3 2.6 -1.3 2.6 -1.2 2.6 -1.3 2.6 -1.2 2.6 -1.3 2.6 -1.2 2.6 -1.1 2.6 -1.2 2.6 -1.1 2.6 -1 2.6 -1 2.6 -.9 2.6 -.9 2.7 -.7 2.6 -.7 2.6 -.6 2.6 -.4 2.6 -.4 2.6 -.4 2.6 -.4 2.6 -.3 2.6 -.4 2.6 -.3 2.6 -.2 2.6 -.2 2.6 -.2 2.6 -.1 2.6 0 2.6 0 2.6 .2 2.6 .4 2.6 .4 2.6 .4 2.6 .6 2.6 .6 2.6 .9 2.6 1 2.6 1 2.6 1.1 2.6 1.2 2.6 1.1 2.7 1.1 2.6 1 2.6 1.1 2.6 1.1 2.6 1.2 2.6 1.2 2.6 1.4 2.6 1.3 2.6 1.5 2.6 1.4 2.6 1.5 2.6 1.5 2.6 1.4 2.6 1.4 2.6 1.4 2.6 1.5 2.6 1.4 2.6 1.5 2.6 1.6 2.6 1.6 2.6 1.6 2.6 1.7 2.6 1.7 2.6 1.7 2.6 1.7 2.6 1.7 2.6 1.7 2.6 1.7 2.7 1.8 2.6 1.8 2.6 1.7 2.6 1.9 2.6 1.8 2.6 1.9 2.6 1.9 2.6 1.8 2.6 1.7 2.6 1.6 2.6 1.5 2.6 1.4 2.6 1.4 2.6 1.4 2.6 1.4 2.6 1.5 2.6 1.6 2.6 1.5 2.6 1.6 2.6 1.5 2.6 1.5 2.6 1.5 2.6 1.4 2.6 1.3 2.6 1.3 2.6 1.3 2.6 1.2 2.6 1.3 2.7 1.3 2.6 1.3 2.6 1.2 2.6 1.3 2.6 1.2 2.6 1.3 2.6 1.2 2.6 1.3 2.6 1.2 2.6 1.2 2.6 1.1 2.6 1.2 2.6 1.1 2.6 1.1 2.6 1.2 2.6 1.1 2.6 1.1 2.6 1.2 2.6 1.1 2.6 1.1 2.6 1 2.6 1.1 2.6 1 2.6 1.1 2.6 .9 2.6 1 2.6 .9 2.6 .9 2.6 .8 2.7 .8 2.6 .8 2.6 .8 2.6 .7 2.6 .8 2.6 .7 2.6 .7 2.6 .7 2.6 .6 2.6 .7 2.6 .6 2.6 .6 2.6 .6 2.6 .5 2.6 .5 2.6 .5 2.6 .4 2.6 .5 2.6 .4 2.6 .4 2.6 .4 2.6 .4 2.6 .4 2.6 .4 2.6 .3 2.6 .4 2.6 .3 2.6 .3 2.7 .2 2.6 .3 2.6 .2 2.6 .2 2.6 .2 2.6 .2 2.6 .1 2.6 .2 2.6 .1 2.6 .2 2.6 .1 2.6 .1 2.6 .1 2.6 .2 2.6 .1 2.6 .1 2.6 0 2.6 .1 2.6 .1 2.6 0 2.6 0 2.6 0 2.6 0 2.6 0 2.6 0 2.6 0 2.6 -.1 2.6 0 2.7 -.1 2.6 0 2.6 -.1 2.6 -.1 2.6 -.1 2.6 -.1 2.6 -.1 2.6 0 2.6 -.1 2.6 -.1 2.6 -.1 2.6 -.1 2.6 -.1 2.6 -.2 2.6 -.1 2.6 -.1 2.6 -.2 2.6 -.1 2.6 -.2 2.6 -.2 2.6 -.2 2.6 -.2 2.6 -.2 2.6 -.2 2.6 -.2 2.6 -.2 2.6 -.3 2.6 -.2 2.7 -.2 2.6 -.3 2.6 -.2 2.6 -.3 2.6 -.2 2.6 -.3 2.6 -.2 2.6 -.3 2.6 -.3 2.6 -.2 2.6 -.3 2.6 -.3 2.6 -.2 2.6 -.3 2.6 -.3 2.6 -.2 2.6 -.3 2.6 -.3 2.6 -.2 2.6 -.3 2.6 -.3 2.6 -.2 2.6 -.3 2.6 -.3 2.6 -.2 2.6 -.3 2.6 -.3 2.6 -.3 2.7 -.3 2.6 -.2 2.6 -.3 2.6 -.3 2.6 -.3 2.6 -.3 2.6 -.3 2.6 -.3 2.6 -.3 2.6 -.4 2.6 -.3 2.6 -.3 2.6 -.3 2.6 -.3 2.6 -.3 2.6 -.4 2.6 -.3 2.6 -.3 2.6 -.4 2.6 -.3 2.6 -.3 2.6 -.4 2.6 -.3 2.6 -.4 2.6 -.3 2.6 -.4 2.6 -.3 2.6 -.4 2.7 -.3 2.6 -.4 2.6 -.4 2.6 -.3 2.6 -.4 2.6 -.4 2.6 -.3 2.6 -.4 2.6 -.4 2.6 -.4 .9 -.1" stroke="#d62728" stroke-width="3.6" stroke-dasharray="23.04 5.76 3.60 5.76" stroke-linecap="butt"/>
<path d="M151.1 343.5l2.6 0 2.6 0 2.6 0 2.6 0 2.6 .1 2.6 0 2.6 0 2.6 0 2.6 0 2.6 .1 2.6 0 2.6 0 2.6 .1 2.6 0 2.7 0 2.6 .1 2.6 0 2.6 0 2.6 .1 2.6 0 2.6 .1 2.6 0 2.6 .1 2.6 0 2.6 .1 2.6 .1 2.6 0 2.6 .1 2.6 .1 2.6 .1 2.6 .1 2.6 0 2.6 .1 2.6 .1 2.6 .1 2.6 .1 2.6 .1 2.6 .2 2.6 .1 2.6 .1 2.6 .2 2.6 .1 2.7 .2 2.6 .2 2.6 .1 2.6 .2 2.6 .2 2.6 .2 2.6 .2 2.6 .2 2.6 .2 2.6 .2 2.6 .3 2.6 .2 2.6 .3 2.6 .3 2.6 .2 2.6 .3 2.6 .4 2.6 .3 2.6 .3 2.6 .3 2.6 .4 2.6 .3 2.6 .3 2.6 .4 2.6 .3 2.6 .4 2.6 .3 2.6 .3 2.7 .4 2.6 .3 2.6 .3 2.6 .3 2.6 .3 2.6 .3 2.6 .3 2.6 .3 2.6 .3 2.6 .2 2.6 .3 2.6 .3 2.6 .2 2.6 .3 2.6 .2 2.6 .3 2.6 .2 2.6 .3 2.6 .2 2.6 .3 2.6 .2 2.6 .3 2.6 .2 2.6 .3 2.6 .2 2.6 .3 2.6 .2 2.6 .3 2.7 .2 2.6 .3 2.6 .3 2.6 .2 2.6 .3 2.6 .2 2.6 .3 2.6 .2 2.6 .3 2.6 .2 2.6 .3 2.6 .3 2.6 .2 2.6 .3 2.6 .2 2.6 .3 2.6 .2 2.6 .3 2.6 .2 2.6 .3 2.6 .2 2.6 .3 2.6 .2 2.6 .3 2.6 .2 2.6 .3 2.6 .2 2.6 .2 2.7 .3 2.6 .2 2.6 .3 2.6 .2 2.6 .2 2.6 .3 2.6 .2 2.6 .3 2.6 .2 2.6 .2 2.6 .3 2.6 .2 2.6 .2 2.6 .3 2.6 .2 2.6 .2 2.6 .3 2.6 .2 2.6 .2 2.6 .2 2.6 .2 2.6 .2 2.6 .3 2.6 .2 2.6 .2 2.6 .2 2.6 .2 2.6 .2 2.7 .2 2.6 .2 2.6 .2 2.6 .2 2.6 .2 2.6 .2 2.6 .2 2.6 .2 2.6 .2 2.6 .2 2.6 .1 2.6 .2 2.6 .2 2.6 .2 2.6 .2 2.6 .1 2.6 .2 2.6 .2 2.6 .1 2.6 .2 2.6 .1 2.6 .2 2.6 .2 2.6 .1 2.6 .1 2.6 .2 2.6 .1 2.6 .2 2.6 .1 2.7 .2 2.6 .1 2.6 .1 2.6 .2 2.6 .1 2.6 .1 2.6 .1 2.6 .2 2.6 .1 2.6 .1 2.6 .1 2.6 .1 2.6 .2 2.6 .1 2.6 .1 2.6 .1 2.6 .1 2.6 .1 2.6 .1 2.6 .1 2.6 .1 2.6 .1 2.6 .1 2.6 .1 2.6 .1 2.6 .1 2.6 .1 2.6 .1 2.7 .1 2.6 .1 2.6 .1 2.6 .1 2.6 .1 2.6 .1 2.6 0 2.6 .1 2.6 .1 2.6 .1 2.6 .1 2.6 .1 2.6 .1 2.6 0 2.6 .1 2.6 .1 2.6 .1 2.6 .1 2.6 0 2.6 .1 2.6 .1 2.6 0 2.6 .1 2.6 .1 2.6 0 2.6 .1 2.6 0 2.6 .1 2.7 0 2.6 .1 2.6 0 2.6 .1 2.6 0 2.6 0 2.6 .1 2.6 0 2.6 .1 2.6 0 2.6 0 2.6 .1 2.6 0 2.6 0 2.6 .1 2.6 0 2.6 0 2.6 .1 2.6 0 2.6 0 2.6 .1 2.6 0 2.6 0 2.6 0 2.6 .1 2.6 0 2.6 0 2.6 0 2.7 .1 2.6 0 2.6 0 2.6 0 2.6 .1 2.6 0 2.6 0 2.6 0 2.6 0 2.6 0 2.6 .1 2.6 0 2.6 0 2.6 0 2.6 0 2.6 0 2.6 0 2.6 0 2.6 0 2.6 0 2.6 0 2.6 .1 2.6 0 2.6 0 2.6 0 2.6 0 2.6 0 2.6 0 2.7 0 2.6 0 2.6 0 2.6 0 2.6 0 2.6 0 2.6 0 2.6 .1 2.6 0 2.6 0 2.6 0 2.6 0 2.6 0 2.6 0 2.6 0 2.6 0 2.6 0 2.6 0 2.6 0 2.6 0 2.6 0 2.6 0 2.6 0 2.6 0 2.6 0 2.6 0 2.6 0 2.6 0 2.7 0 2.6 0 2.6 0 2.6 0 2.6 0 2.6 0 2.6 0 2.6 0 2.6 0 2.6 0 .9 0" stroke="#d62728" stroke-width="3.6" stroke-dasharray="13.32 5.76" stroke-linecap="butt"/>
<path d="M151.1 128.9l2.6 .8 2.6 .8 2.6 .7 2.6 .7 2.6 .7 2.6 .6 2.6 .6 2.6 .6 2.6 .6 2.6 .6 2.6 .7 2.6 .7 2.6 .7 2.6 .8 2.7 .8 2.6 .7 2.6 .8 2.6 .9 2.6 1 2.6 1.4 2.6 1.6 2.6 1.5 2.6 1.5 2.6 1.5 2.6 1.6 2.6 1.7 2.6 1.9 2.6 2 2.6 2.3 2.6 2.5 2.6 2.5 2.6 2.5 2.6 2.6 2.6 2.4 2.6 2.3 2.6 2.6 2.6 3.3 2.6 3.8 2.6 3.7 2.6 3.7 2.6 3.5 2.6 3.4 2.7 3.7 2.6 3.9 2.6 3.8 2.6 3.8 2.6 4.1 2.6 4.6 2.6 4.6 2.6 4.5 2.6 4.4 2.6 4.2 2.6 4.2 2.6 4.1 2.6 4.1 2.6 4 2.6 3.9 2.6 4 2.6 4 2.6 4 2.6 4 2.6 3.9 2.6 3.8 2.6 4 2.6 4.5 2.6 5.3 2.6 5.7 2.6 4.9 2.6 4.4 2.6 4.1 2.7 4 2.6 3.8 2.6 3.7 2.6 3.6 2.6 3.6 2.6 3.6 2.6 3.6 2.6 3.5 2.6 3.6 2.6 3.5 2.6 3.7 2.6 3.6 2.6 3.5 2.6 3 2.6 2.7 2.6 2.7 2.6 2.7 2.6 2.9 2.6 2.9 2.6 2.7 2.6 2.7 2.6 2.5 2.6 2.6 2.6 2.6 2.6 2.7 2.6 2.6 2.6 2.3 2.6 2.2 2.7 2.1 2.6 1.8 2.6 1.6 2.6 1.5 2.6 1.4 2.6 1.3 2.6 1.4 2.6 1.3 2.6 1.3 2.6 1.4 2.6 1.3 2.6 1.4 2.6 1.3 2.6 1.2 2.6 1.1 2.6 .9 2.6 .8 2.6 .6 2.6 .6 2.6 .6 2.6 .6 2.6 .6 2.6 .5 2.6 .5 2.6 .3 2.6 .4 2.6 .3 2.6 .2 2.7 .3 2.6 .2 2.6 .2 2.6 .1 2.6 .2 2.6 .1 2.6 0 2.6 -.1 2.6 -.2 2.6 -.1 2.6 -.3 2.6 -.5 2.6 -.6 2.6 -.4 2.6 -.3 2.6 -.3 2.6 -.3 2.6 -.4 2.6 -.3 2.6 -.4 2.6 -.3 2.6 -.4 2.6 -.5 2.6 -.4 2.6 -.5 2.6 -.5 2.6 -.6 2.6 -.5 2.7 -.6 2.6 -.5 2.6 -.5 2.6 -.5 2.6 -.5 2.6 -.5 2.6 -.5 2.6 -.5 2.6 -.4 2.6 -.5 2.6 -.5 2.6 -.5 2.6 -.5 2.6 -.5 2.6 -.5 2.6 -.5 2.6 -.5 2.6 -.6 2.6 -.5 2.6 -.6 2.6 -.6 2.6 -.6 2.6 -.6 2.6 -.7 2.6 -.7 2.6 -.7 2.6 -.8 2.6 -.7 2.6 -.8 2.7 -.7 2.6 -.8 2.6 -.8 2.6 -.7 2.6 -.8 2.6 -.8 2.6 -.7 2.6 -.8 2.6 -.7 2.6 -.7 2.6 -.7 2.6 -.6 2.6 -.7 2.6 -.7 2.6 -.6 2.6 -.7 2.6 -.6 2.6 -.7 2.6 -.6 2.6 -.6 2.6 -.7 2.6 -.6 2.6 -.6 2.6 -.7 2.6 -.6 2.6 -.6 2.6 -.6 2.6 -.6 2.7 -.6 2.6 -.6 2.6 -.6 2.6 -.6 2.6 -.6 2.6 -.6 2.6 -.6 2.6 -.6 2.6 -.6 2.6 -.6 2.6 -.6 2.6 -.5 2.6 -.6 2.6 -.6 2.6 -.6 2.6 -.6 2.6 -.6 2.6 -.5 2.6 -.6 2.6 -.6 2.6 -.6 2.6 -.6 2.6 -.6 2.6 -.6 2.6 -.5 2.6 -.6 2.6 -.6 2.6 -.5 2.7 -.6 2.6 -.5 2.6 -.5 2.6 -.5 2.6 -.5 2.6 -.5 2.6 -.5 2.6 -.4 2.6 -.5 2.6 -.4 2.6 -.4 2.6 -.4 2.6 -.4 2.6 -.3 2.6 -.4 2.6 -.4 2.6 -.4 2.6 -.3 2.6 -.4 2.6 -.3 2.6 -.4 2.6 -.3 2.6 -.4 2.6 -.3 2.6 -.3 2.6 -.4 2.6 -.3 2.6 -.3 2.7 -.3 2.6 -.3 2.6 -.3 2.6 -.3 2.6 -.3 2.6 -.3 2.6 -.3 2.6 -.2 2.6 -.3 2.6 -.3 2.6 -.2 2.6 -.3 2.6 -.3 2.6 -.2 2.6 -.2 2.6 -.3 2.6 -.2 2.6 -.2 2.6 -.3 2.6 -.2 2.6 -.2 2.6 -.2 2.6 -.2 2.6 -.2 2.6 -.2 2.6 -.2 2.6 -.3 2.6 -.2 2.7 -.2 2.6 -.2 2.6 -.2 2.6 -.2 2.6 -.2 2.6 -.1 2.6 -.2 2.6 -.2 2.6 -.2 2.6 -.2 2.6 -.2 2.6 -.2 2.6 -.1 2.6 -.2 2.6 -.2 2.6 -.1 2.6 -.2 2.6 -.2 2.6 -.1 2.6 -.2 2.6 -.1 2.6 -.2 2.6 -.1 2.6 -.2 2.6 -.1 2.6 -.2 2.6 -.1 2.6 -.1 2.7 -.1 2.6 -.2 2.6 -.1 2.6 -.1 2.6 -.1 2.6 -.1 2.6 -.1 2.6 -.1 2.6 -.1 2.6 -.1 .9 0" stroke="#d62728" stroke-width="3.6" stroke-dasharray="3.60 5.94" stroke-linecap="butt"/>
<path d="M151.1 557.7l2.6 -.2 2.6 -.3 2.6 -.3 2.6 -.2 2.6 -.3 2.6 -.2 2.6 -.3 2.6 -.2 2.6 -.3 2.6 -.2 2.6 -.3 2.6 -.2 2.6 -.3 2.6 -.2 2.7 -.3 2.6 -.2 2.6 -.3 2.6 -.2 2.6 -.2 2.6 -.2 2.6 -.3 2.6 -.2 2.6 -.2 2.6 -.2 2.6 -.2 2.6 -.2 2.6 -.2 2.6 -.3 2.6 -.2 2.6 -.3 2.6 -.3 2.6 -.3 2.6 -.4 2.6 -.4 2.6 -.4 2.6 -.6 2.6 -.6 2.6 -.6 2.6 -.8 2.6 -.7 2.6 -.9 2.6 -.8 2.7 -.9 2.6 -.9 2.6 -1 2.6 -.9 2.6 -1 2.6 -1 2.6 -.9 2.6 -1 2.6 -1 2.6 -1 2.6 -1.1 2.6 -1.2 2.6 -1.1 2.6 -1.2 2.6 -1.3 2.6 -1.2 2.6 -1.3 2.6 -1.3 2.6 -1.3 2.6 -1.2 2.6 -1.3 2.6 -1.2 2.6 -1.2 2.6 -1.2 2.6 -1.1 2.6 -1.2 2.6 -1.1 2.6 -1.1 2.7 -1.1 2.6 -1.2 2.6 -1.1 2.6 -1.1 2.6 -1.1 2.6 -1 2.6 -1.1 2.6 -1.1 2.6 -1 2.6 -1.1 2.6 -1 2.6 -1 2.6 -1 2.6 -1 2.6 -1 2.6 -1 2.6 -1 2.6 -1 2.6 -1 2.6 -1 2.6 -1 2.6 -1 2.6 -.9 2.6 -.9 2.6 -.9 2.6 -.8 2.6 -.8 2.6 -.8 2.7 -.7 2.6 -.7 2.6 -.6 2.6 -.6 2.6 -.6 2.6 -.6 2.6 -.6 2.6 -.5 2.6 -.5 2.6 -.5 2.6 -.5 2.6 -.5 2.6 -.4 2.6 -.5 2.6 -.4 2.6 -.4 2.6 -.4 2.6 -.4 2.6 -.4 2.6 -.4 2.6 -.4 2.6 -.3 2.6 -.4 2.6 -.3 2.6 -.3 2.6 -.3 2.6 -.4 2.6 -.3 2.7 -.3 2.6 -.3 2.6 -.2 2.6 -.3 2.6 -.3 2.6 -.3 2.6 -.2 2.6 -.3 2.6 -.2 2.6 -.3 2.6 -.2 2.6 -.3 2.6 -.2 2.6 -.3 2.6 -.2 2.6 -.2 2.6 -.2 2.6 -.3 2.6 -.2 2.6 -.2 2.6 -.1 2.6 -.2 2.6 -.2 2.6 -.2 2.6 -.1 2.6 -.2 2.6 -.1 2.6 -.1 2.7 -.2 2.6 -.1 2.6 -.1 2.6 -.1 2.6 -.1 2.6 -.1 2.6 -.1 2.6 -.2 2.6 -.1 2.6 -.1 2.6 -.1 2.6 -.2 2.6 -.1 2.6 -.2 2.6 -.1 2.6 -.2 2.6 -.2 2.6 -.1 2.6 -.2 2.6 -.2 2.6 -.1 2.6 -.2 2.6 -.2 2.6 -.2 2.6 -.2 2.6 -.1 2.6 -.2 2.6 -.2 2.6 -.2 2.7 -.2 2.6 -.2 2.6 -.2 2.6 -.2 2.6 -.2 2.6 -.2 2.6 -.3 2.6 -.2 2.6 -.2 2.6 -.2 2.6 -.2 2.6 -.2 2.6 -.3 2.6 -.2 2.6 -.2 2.6 -.2 2.6 -.2 2.6 -.3 2.6 -.2 2.6 -.2 2.6 -.3 2.6 -.2 2.6 -.2 2.6 -.3 2.6 -.2 2.6 -.2 2.6 -.3 2.6 -.2 2.7 -.2 2.6 -.3 2.6 -.2 2.6 -.2 2.6 -.3 2.6 -.2 2.6 -.3 2.6 -.2 2.6 -.2 2.6 -.3 2.6 -.2 2.6 -.2 2.6 -.3 2.6 -.2 2.6 -.3 2.6 -.2 2.6 -.2 2.6 -.3 2.6 -.2 2.6 -.2 2.6 -.3 2.6 -.2 2.6 -.2 2.6 -.3 2.6 -.2 2.6 -.2 2.6 -.2 2.6 -.3 2.7 -.2 2.6 -.2 2.6 -.2 2.6 -.3 2.6 -.2 2.6 -.2 2.6 -.2 2.6 -.2 2.6 -.2 2.6 -.3 2.6 -.2 2.6 -.2 2.6 -.2 2.6 -.2 2.6 -.2 2.6 -.2 2.6 -.2 2.6 -.2 2.6 -.2 2.6 -.2 2.6 -.2 2.6 -.2 2.6 -.2 2.6 -.2 2.6 -.3 2.6 -.2 2.6 -.2 2.6 -.2 2.7 -.2 2.6 -.2 2.6 -.2 2.6 -.2 2.6 -.2 2.6 -.2 2.6 -.2 2.6 -.2 2.6 -.2 2.6 -.2 2.6 -.2 2.6 -.2 2.6 -.2 2.6 -.2 2.6 -.2 2.6 -.2 2.6 -.2 2.6 -.2 2.6 -.2 2.6 -.2 2.6 -.2 2.6 -.2 2.6 -.2 2.6 -.2 2.6 -.2 2.6 -.2 2.6 -.2 2.6 -.2 2.7 -.2 2.6 -.2 2.6 -.2 2.6 -.2 2.6 -.2 2.6 -.2 2.6 -.2 2.6 -.2 2.6 -.2 2.6 -.2 2.6 -.2 2.6 -.2 2.6 -.2 2.6 -.2 2.6 -.2 2.6 -.2 2.6 -.2 2.6 -.2 2.6 -.2 2.6 -.2 2.6 -.2 2.6 -.2 2.6 -.2 2.6 -.2 2.6 -.2 2.6 -.2 2.6 -.2 2.6 -.2 2.7 -.2 2.6 -.1 2.6 -.2 2.6 -.2 2.6 -.2 2.6 -.2 2.6 -.2 2.6 -.2 2.6 -.2 2.6 -.2 .9 -.1" stroke="#d62728" stroke-width="3.6" stroke-linecap="square"/>
<path d="M151.1 343.5l2.6 0 2.6 0 2.6 0 2.6 0 2.6 -.1 2.6 0 2.6 0 2.6 -.1 2.6 0 2.6 -.1 2.6 -.1 2.6 -.1 2.6 -.2 2.6 -.2 2.7 -.2 2.6 -.2 2.6 -.2 2.6 -.2 2.6 -.3 2.6 -.3 2.6 -.3 2.6 -.4 2.6 -.4 2.6 -.4 2.6 -.4 2.6 -.5 2.6 -.5 2.6 -.6 2.6 -.6 2.6 -.7 2.6 -.7 2.6 -.7 2.6 -.8 2.6 -.8 2.6 -.9 2.6 -1 2.6 -1 2.6 -1.1 2.6 -1.2 2.6 -1.1 2.6 -1.2 2.6 -1.2 2.7 -1.3 2.6 -1.2 2.6 -1.4 2.6 -1.3 2.6 -1.4 2.6 -1.5 2.6 -1.5 2.6 -1.6 2.6 -1.6 2.6 -1.8 2.6 -1.8 2.6 -1.8 2.6 -1.9 2.6 -2 2.6 -2 2.6 -2.1 2.6 -2.1 2.6 -2.1 2.6 -2.2 2.6 -2.2 2.6 -2.3 2.6 -2.4 2.6 -2.4 2.6 -2.4 2.6 -2.4 2.6 -2.5 2.6 -2.6 2.6 -2.6 2.7 -2.6 2.6 -2.7 2.6 -2.6 2.6 -2.7 2.6 -2.7 2.6 -2.7 2.6 -2.7 2.6 -2.7 2.6 -2.7 2.6 -2.7 2.6 -2.8 2.6 -2.7 2.6 -2.8 2.6 -2.8 2.6 -2.9 2.6 -2.9 2.6 -2.9 2.6 -3 2.6 -2.9 2.6 -2.9 2.6 -2.9 2.6 -2.9 2.6 -2.8 2.6 -2.8 2.6 -2.8 2.6 -2.8 2.6 -2.7 2.6 -2.7 2.7 -2.7 2.6 -2.6 2.6 -2.6 2.6 -2.5 2.6 -2.5 2.6 -2.5 2.6 -2.5 2.6 -2.4 2.6 -2.4 2.6 -2.4 2.6 -2.3 2.6 -2.4 2.6 -2.3 2.6 -2.3 2.6 -2.3 2.6 -2.3 2.6 -2.3 2.6 -2.2 2.6 -2.2 2.6 -2.3 2.6 -2.2 2.6 -2.3 2.6 -2.2 2.6 -2.2 2.6 -2.2 2.6 -2.1 2.6 -2.1 2.6 -2 2.7 -1.9 2.6 -1.9 2.6 -1.7 2.6 -1.8 2.6 -1.6 2.6 -1.7 2.6 -1.5 2.6 -1.5 2.6 -1.5 2.6 -1.4 2.6 -1.4 2.6 -1.4 2.6 -1.3 2.6 -1.3 2.6 -1.2 2.6 -1.3 2.6 -1.2 2.6 -1.2 2.6 -1.2 2.6 -1.2 2.6 -1.1 2.6 -1.1 2.6 -1 2.6 -1 2.6 -.9 2.6 -.8 2.6 -.7 2.6 -.8 2.7 -.7 2.6 -.7 2.6 -.6 2.6 -.7 2.6 -.6 2.6 -.5 2.6 -.6 2.6 -.5 2.6 -.5 2.6 -.5 2.6 -.4 2.6 -.4 2.6 -.4 2.6 -.3 2.6 -.3 2.6 -.3 2.6 -.3 2.6 -.3 2.6 -.3 2.6 -.2 2.6 -.3 2.6 -.2 2.6 -.2 2.6 -.2 2.6 -.1 2.6 -.1 2.6 -.1 2.6 0 2.6 .1 2.7 0 2.6 0 2.6 .1 2.6 0 2.6 .1 2.6 .1 2.6 0 2.6 .1 2.6 .1 2.6 .1 2.6 .1 2.6 .2 2.6 .1 2.6 .2 2.6 .3 2.6 .3 2.6 .3 2.6 .4 2.6 .4 2.6 .4 2.6 .4 2.6 .3 2.6 .4 2.6 .4 2.6 .4 2.6 .4 2.6 .4 2.6 .4 2.7 .5 2.6 .4 2.6 .4 2.6 .5 2.6 .4 2.6 .5 2.6 .5 2.6 .5 2.6 .6 2.6 .5 2.6 .6 2.6 .5 2.6 .6 2.6 .6 2.6 .6 2.6 .6 2.6 .6 2.6 .6 2.6 .6 2.6 .6 2.6 .6 2.6 .7 2.6 .6 2.6 .7 2.6 .6 2.6 .7 2.6 .7 2.6 .6 2.7 .7 2.6 .7 2.6 .7 2.6 .7 2.6 .7 2.6 .7 2.6 .8 2.6 .7 2.6 .7 2.6 .7 2.6 .7 2.6 .7 2.6 .7 2.6 .7 2.6 .7 2.6 .6 2.6 .7 2.6 .7 2.6 .7 2.6 .7 2.6 .7 2.6 .7 2.6 .7 2.6 .7 2.6 .7 2.6 .8 2.6 .7 2.6 .8 2.7 .7 2.6 .8 2.6 .8 2.6 .8 2.6 .8 2.6 .8 2.6 .8 2.6 .8 2.6 .8 2.6 .8 2.6 .8 2.6 .8 2.6 .8 2.6 .8 2.6 .7 2.6 .8 2.6 .7 2.6 .8 2.6 .7 2.6 .7 2.6 .7 2.6 .7 2.6 .8 2.6 .7 2.6 .6 2.6 .7 2.6 .7 2.6 .7 2.7 .7 2.6 .7 2.6 .7 2.6 .6 2.6 .7 2.6 .7 2.6 .6 2.6 .7 2.6 .7 2.6 .7 2.6 .7 2.6 .7 2.6 .7 2.6 .7 2.6 .6 2.6 .7 2.6 .7 2.6 .7 2.6 .7 2.6 .7 2.6 .6 2.6 .7 2.6 .7 2.6 .6 2.6 .7 2.6 .6 2.6 .6 2.6 .6 2.7 .6 2.6 .6 2.6 .6 2.6 .6 2.6 .6 2.6 .5 2.6 .6 2.6 .5 2.6 .6 2.6 .5 .9 .2" stroke="#9467bd" stroke-width="3.6" stroke-linecap="square"/>
<path d="M144.1 336.5l14 14M144.1 350.5l14 -14M152.8 336.5l14 14M152.8 350.5l14 -14M163.3 336.4l14 14M163.3 350.4l14 -14M175.8 335.9l14 14M175.8 349.9l14 -14M190.5 334.8l14 14M190.5 348.8l14 -14M207.5 332.6l14 14M207.5 346.6l14 -14M226.7 328.2l14 14M226.7 342.2l14 -14M248.2 320.1l14 14M248.2 334.1l14 -14M271.8 308.0l14 14M271.8 322.0l14 -14M297.5 289.6l14 14M297.5 303.6l14 -14M325.2 264.5l14 14M325.2 278.5l14 -14M354.8 233.9l14 14M354.8 247.9l14 -14M386.3 199.2l14 14M386.3 213.2l14 -14M419.6 165.6l14 14M419.6 179.6l14 -14M454.8 134.5l14 14M454.8 148.5l14 -14M491.8 107.2l14 14M491.8 121.2l14 -14M530.8 88.2l14 14M530.8 102.2l14 -14M571.8 77.6l14 14M571.8 91.6l14 -14M614.8 73.3l14 14M614.8 87.3l14 -14M660.0 75.0l14 14M660.0 89.0l14 -14M707.5 82.2l14 14M707.5 96.2l14 -14M757.4 93.4l14 14M757.4 107.4l14 -14M809.7 107.4l14 14M809.7 121.4l14 -14M864.7 123.2l14 14M864.7 137.2l14 -14M922.4 139.3l14 14M922.4 153.3l14 -14M983.1 155.0l14 14M983.1 169.0l14 -14" stroke="#9467bd" stroke-width="2.9" stroke-linecap="butt"/>
<path d="M151.1 343.5l2.6 0 2.6 0 2.6 0 2.6 -.1 2.6 0 2.6 0 2.6 -.1 2.6 0 2.6 -.1 2.6 0 2.6 -.1 2.6 -.1 2.6 -.1 2.6 -.1 2.7 -.1 2.6 -.2 2.6 -.3 2.6 -.3 2.6 -.3 2.6 -.4 2.6 -.4 2.6 -.4 2.6 -.5 2.6 -.5 2.6 -.8 2.6 -.9 2.6 -1 2.6 -1.2 2.6 -1.3 2.6 -1.3 2.6 -1.4 2.6 -1.3 2.6 -1.3 2.6 -1.4 2.6 -1.3 2.6 -1.5 2.6 -1.5 2.6 -1.5 2.6 -1.6 2.6 -1.6 2.6 -1.6 2.6 -1.6 2.7 -1.6 2.6 -1.5 2.6 -1.6 2.6 -1.5 2.6 -1.5 2.6 -1.6 2.6 -1.6 2.6 -1.7 2.6 -1.5 2.6 -1.6 2.6 -1.5 2.6 -1.4 2.6 -1.4 2.6 -1.2 2.6 -1.1 2.6 -1 2.6 -.9 2.6 -1 2.6 -.9 2.6 -1 2.6 -.9 2.6 -.9 2.6 -.8 2.6 -.7 2.6 -.7 2.6 -.6 2.6 -.6 2.6 -.4 2.7 -.3 2.6 -.2 2.6 0 2.6 -.1 2.6 0 2.6 0 2.6 -.1 2.6 0 2.6 0 2.6 0 2.6 0 2.6 -.1 2.6 0 2.6 0 2.6 .1 2.6 .2 2.6 .6 2.6 .7 2.6 .8 2.6 .9 2.6 .9 2.6 .9 2.6 .8 2.6 .9 2.6 1 2.6 .9 2.6 1.1 2.6 1 2.7 1.1 2.6 1.1 2.6 1.1 2.6 1.2 2.6 1.2 2.6 1.3 2.6 1.3 2.6 1.3 2.6 1.4 2.6 1.5 2.6 1.5 2.6 1.6 2.6 1.5 2.6 1.5 2.6 1.4 2.6 1.4 2.6 1.4 2.6 1.4 2.6 1.4 2.6 1.6 2.6 1.6 2.6 1.7 2.6 1.8 2.6 1.8 2.6 1.8 2.6 1.7 2.6 1.7 2.6 1.5 2.7 1.5 2.6 1.5 2.6 1.5 2.6 1.5 2.6 1.5 2.6 1.6 2.6 1.6 2.6 1.6 2.6 1.6 2.6 1.5 2.6 1.5 2.6 1.4 2.6 1.3 2.6 1.2 2.6 1.3 2.6 1.3 2.6 1.3 2.6 1.3 2.6 1.4 2.6 1.3 2.6 1.4 2.6 1.3 2.6 1.4 2.6 1.4 2.6 1.3 2.6 1.4 2.6 1.3 2.6 1.4 2.7 1.4 2.6 1.3 2.6 1.3 2.6 1.3 2.6 1.3 2.6 1.3 2.6 1.2 2.6 1.3 2.6 1.2 2.6 1.2 2.6 1.2 2.6 1.2 2.6 1.2 2.6 1.1 2.6 1.1 2.6 1 2.6 1 2.6 .8 2.6 .8 2.6 .7 2.6 .7 2.6 .7 2.6 .6 2.6 .7 2.6 .6 2.6 .6 2.6 .5 2.6 .6 2.6 .5 2.7 .6 2.6 .5 2.6 .5 2.6 .5 2.6 .5 2.6 .6 2.6 .5 2.6 .5 2.6 .6 2.6 .5 2.6 .6 2.6 .6 2.6 .5 2.6 .6 2.6 .5 2.6 .4 2.6 .4 2.6 .3 2.6 .4 2.6 .3 2.6 .3 2.6 .3 2.6 .3 2.6 .3 2.6 .2 2.6 .1 2.6 .2 2.6 .1 2.7 .1 2.6 .1 2.6 .1 2.6 .1 2.6 .1 2.6 .1 2.6 .1 2.6 .1 2.6 0 2.6 .1 2.6 0 2.6 0 2.6 .1 2.6 0 2.6 0 2.6 -.1 2.6 0 2.6 0 2.6 0 2.6 -.1 2.6 0 2.6 -.1 2.6 0 2.6 -.1 2.6 0 2.6 -.1 2.6 -.1 2.6 -.1 2.7 0 2.6 -.1 2.6 -.1 2.6 -.1 2.6 -.1 2.6 -.1 2.6 -.1 2.6 -.1 2.6 -.1 2.6 -.1 2.6 -.1 2.6 -.1 2.6 -.1 2.6 -.1 2.6 -.1 2.6 -.2 2.6 -.1 2.6 -.2 2.6 -.2 2.6 -.2 2.6 -.2 2.6 -.2 2.6 -.2 2.6 -.2 2.6 -.2 2.6 -.3 2.6 -.2 2.6 -.3 2.7 -.2 2.6 -.3 2.6 -.2 2.6 -.3 2.6 -.3 2.6 -.2 2.6 -.3 2.6 -.3 2.6 -.3 2.6 -.3 2.6 -.3 2.6 -.2 2.6 -.3 2.6 -.3 2.6 -.3 2.6 -.3 2.6 -.3 2.6 -.3 2.6 -.3 2.6 -.3 2.6 -.3 2.6 -.3 2.6 -.3 2.6 -.3 2.6 -.3 2.6 -.3 2.6 -.3 2.6 -.3 2.7 -.4 2.6 -.3 2.6 -.3 2.6 -.4 2.6 -.3 2.6 -.3 2.6 -.4 2.6 -.4 2.6 -.3 2.6 -.4 2.6 -.3 2.6 -.4 2.6 -.4 2.6 -.4 2.6 -.3 2.6 -.4 2.6 -.4 2.6 -.4 2.6 -.4 2.6 -.4 2.6 -.4 2.6 -.4 2.6 -.4 2.6 -.4 2.6 -.5 2.6 -.4 2.6 -.4 2.6 -.4 2.7 -.5 2.6 -.4 2.6 -.4 2.6 -.5 2.6 -.4 2.6 -.5 2.6 -.4 2.6 -.5 2.6 -.4 2.6 -.5 .9 -.1" stroke="#9467bd" stroke-width="3.6" stroke-dasharray="23.04 5.76 3.60 5.76" stroke-linecap="butt"/>
<path d="M151.1 343.5l2.6 0 2.6 0 2.6 0 2.6 0 2.6 0 2.6 .1 2.6 0 2.6 0 2.6 0 2.6 .1 2.6 0 2.6 0 2.6 0 2.6 .1 2.7 0 2.6 0 2.6 .1 2.6 0 2.6 .1 2.6 0 2.6 0 2.6 .1 2.6 0 2.6 .1 2.6 .1 2.6 0 2.6 .1 2.6 .1 2.6 0 2.6 .1 2.6 .1 2.6 .1 2.6 .1 2.6 .1 2.6 .1 2.6 .1 2.6 .1 2.6 .1 2.6 .1 2.6 .2 2.6 .1 2.6 .2 2.7 .1 2.6 .2 2.6 .2 2.6 .1 2.6 .2 2.6 .2 2.6 .2 2.6 .2 2.6 .2 2.6 .2 2.6 .2 2.6 .3 2.6 .2 2.6 .3 2.6 .3 2.6 .3 2.6 .3 2.6 .3 2.6 .3 2.6 .3 2.6 .3 2.6 .4 2.6 .3 2.6 .3 2.6 .4 2.6 .3 2.6 .3 2.6 .3 2.7 .4 2.6 .3 2.6 .3 2.6 .3 2.6 .3 2.6 .3 2.6 .2 2.6 .3 2.6 .3 2.6 .2 2.6 .3 2.6 .3 2.6 .2 2.6 .3 2.6 .2 2.6 .3 2.6 .2 2.6 .3 2.6 .2 2.6 .3 2.6 .2 2.6 .3 2.6 .2 2.6 .3 2.6 .2 2.6 .3 2.6 .2 2.6 .3 2.7 .2 2.6 .3 2.6 .2 2.6 .3 2.6 .2 2.6 .3 2.6 .2 2.6 .3 2.6 .2 2.6 .3 2.6 .2 2.6 .3 2.6 .3 2.6 .2 2.6 .3 2.6 .2 2.6 .3 2.6 .2 2.6 .3 2.6 .2 2.6 .3 2.6 .2 2.6 .2 2.6 .3 2.6 .2 2.6 .3 2.6 .2 2.6 .3 2.7 .2 2.6 .2 2.6 .3 2.6 .2 2.6 .2 2.6 .3 2.6 .2 2.6 .3 2.6 .2 2.6 .2 2.6 .3 2.6 .2 2.6 .2 2.6 .3 2.6 .2 2.6 .2 2.6 .2 2.6 .2 2.6 .3 2.6 .2 2.6 .2 2.6 .2 2.6 .2 2.6 .2 2.6 .2 2.6 .2 2.6 .2 2.6 .2 2.7 .2 2.6 .2 2.6 .2 2.6 .2 2.6 .2 2.6 .2 2.6 .2 2.6 .2 2.6 .2 2.6 .2 2.6 .2 2.6 .2 2.6 .1 2.6 .2 2.6 .2 2.6 .2 2.6 .1 2.6 .2 2.6 .1 2.6 .2 2.6 .2 2.6 .1 2.6 .2 2.6 .1 2.6 .2 2.6 .1 2.6 .1 2.6 .2 2.6 .1 2.7 .2 2.6 .1 2.6 .1 2.6 .2 2.6 .1 2.6 .1 2.6 .2 2.6 .1 2.6 .1 2.6 .1 2.6 .1 2.6 .1 2.6 .2 2.6 .1 2.6 .1 2.6 .1 2.6 .1 2.6 .1 2.6 .1 2.6 .1 2.6 .1 2.6 .1 2.6 .1 2.6 .1 2.6 .1 2.6 .1 2.6 .1 2.6 .1 2.7 .1 2.6 .1 2.6 .1 2.6 .1 2.6 .1 2.6 .1 2.6 .1 2.6 0 2.6 .1 2.6 .1 2.6 .1 2.6 .1 2.6 .1 2.6 .1 2.6 0 2.6 .1 2.6 .1 2.6 .1 2.6 0 2.6 .1 2.6 .1 2.6 0 2.6 .1 2.6 .1 2.6 0 2.6 .1 2.6 0 2.6 .1 2.7 0 2.6 .1 2.6 0 2.6 .1 2.6 0 2.6 .1 2.6 0 2.6 0 2.6 .1 2.6 0 2.6 0 2.6 .1 2.6 0 2.6 0 2.6 .1 2.6 0 2.6 0 2.6 .1 2.6 0 2.6 0 2.6 .1 2.6 0 2.6 0 2.6 0 2.6 .1 2.6 0 2.6 0 2.6 0 2.7 .1 2.6 0 2.6 0 2.6 0 2.6 0 2.6 .1 2.6 0 2.6 0 2.6 0 2.6 0 2.6 0 2.6 .1 2.6 0 2.6 0 2.6 0 2.6 0 2.6 0 2.6 0 2.6 0 2.6 0 2.6 0 2.6 0 2.6 .1 2.6 0 2.6 0 2.6 0 2.6 0 2.6 0 2.7 0 2.6 0 2.6 0 2.6 0 2.6 0 2.6 0 2.6 0 2.6 0 2.6 0 2.6 0 2.6 .1 2.6 0 2.6 0 2.6 0 2.6 0 2.6 0 2.6 0 2.6 0 2.6 0 2.6 0 2.6 0 2.6 0 2.6 0 2.6 0 2.6 0 2.6 0 2.6 0 2.6 0 2.7 0 2.6 0 2.6 0 2.6 0 2.6 0 2.6 0 2.6 0 2.6 0 2.6 0 2.6 0 .9 0" stroke="#9467bd" stroke-width="3.6" stroke-dasharray="13.32 5.76" stroke-linecap="butt"/>
<path d="M151.1 157.7l2.6 .9 2.6 .8 2.6 .7 2.6 .7 2.6 .6 2.6 .5 2.6 .5 2.6 .5 2.6 .5 2.6 .4 2.6 .5 2.6 .6 2.6 .6 2.6 .6 2.7 .7 2.6 .6 2.6 .6 2.6 .6 2.6 .8 2.6 .9 2.6 1.1 2.6 1.1 2.6 1.2 2.6 1.3 2.6 1.4 2.6 1.5 2.6 1.5 2.6 1.7 2.6 1.9 2.6 2.2 2.6 2.2 2.6 2 2.6 1.8 2.6 2 2.6 2.4 2.6 2.9 2.6 2.9 2.6 3 2.6 3 2.6 2.8 2.6 2.8 2.6 2.9 2.7 3.1 2.6 3.3 2.6 3.4 2.6 3.3 2.6 3.6 2.6 3.7 2.6 3.5 2.6 3.2 2.6 3.1 2.6 3 2.6 2.9 2.6 2.9 2.6 2.8 2.6 2.9 2.6 2.9 2.6 3 2.6 3.2 2.6 3.2 2.6 3.5 2.6 3.6 2.6 3.9 2.6 4.2 2.6 4.5 2.6 5.3 2.6 5.7 2.6 4.9 2.6 4.4 2.6 4.1 2.7 4 2.6 3.9 2.6 3.7 2.6 3.7 2.6 3.4 2.6 3.2 2.6 2.9 2.6 2.9 2.6 2.9 2.6 3 2.6 3.2 2.6 3.3 2.6 3.1 2.6 2.9 2.6 2.7 2.6 2.6 2.6 2.7 2.6 2.7 2.6 2.8 2.6 2.7 2.6 2.5 2.6 2.4 2.6 2.4 2.6 2.3 2.6 2.3 2.6 2.2 2.6 2.1 2.6 2.1 2.7 2 2.6 1.9 2.6 1.6 2.6 1.5 2.6 1.7 2.6 2.3 2.6 2.8 2.6 1.7 2.6 1.2 2.6 .9 2.6 .9 2.6 .9 2.6 .9 2.6 .9 2.6 .9 2.6 1 2.6 .9 2.6 .9 2.6 .7 2.6 .7 2.6 .5 2.6 .4 2.6 .3 2.6 .2 2.6 .2 2.6 .2 2.6 .1 2.6 .1 2.7 .2 2.6 .1 2.6 .1 2.6 .1 2.6 0 2.6 0 2.6 -.1 2.6 -.2 2.6 -.1 2.6 -.3 2.6 -.3 2.6 -.3 2.6 -.3 2.6 -.4 2.6 -.4 2.6 -.4 2.6 -.3 2.6 -.2 2.6 -.3 2.6 -.4 2.6 -.5 2.6 -.6 2.6 -.6 2.6 -.4 2.6 -.5 2.6 -.4 2.6 -.4 2.6 -.6 2.7 -.6 2.6 -.6 2.6 -.5 2.6 -.4 2.6 -.4 2.6 -.4 2.6 -.4 2.6 -.4 2.6 -.3 2.6 -.3 2.6 -.4 2.6 -.3 2.6 -.3 2.6 -.4 2.6 -.3 2.6 -.4 2.6 -.3 2.6 -.4 2.6 -.4 2.6 -.5 2.6 -.4 2.6 -.5 2.6 -.6 2.6 -.5 2.6 -.6 2.6 -.6 2.6 -.6 2.6 -.7 2.6 -.7 2.7 -.6 2.6 -.7 2.6 -.7 2.6 -.7 2.6 -.7 2.6 -.7 2.6 -.7 2.6 -.7 2.6 -.6 2.6 -.7 2.6 -.6 2.6 -.6 2.6 -.6 2.6 -.7 2.6 -.6 2.6 -.6 2.6 -.6 2.6 -.6 2.6 -.6 2.6 -.6 2.6 -.6 2.6 -.6 2.6 -.6 2.6 -.6 2.6 -.6 2.6 -.6 2.6 -.6 2.6 -.6 2.7 -.6 2.6 -.6 2.6 -.5 2.6 -.6 2.6 -.6 2.6 -.6 2.6 -.6 2.6 -.5 2.6 -.6 2.6 -.6 2.6 -.5 2.6 -.6 2.6 -.5 2.6 -.6 2.6 -.6 2.6 -.5 2.6 -.6 2.6 -.6 2.6 -.5 2.6 -.6 2.6 -.6 2.6 -.6 2.6 -.5 2.6 -.6 2.6 -.5 2.6 -.6 2.6 -.5 2.6 -.6 2.7 -.5 2.6 -.5 2.6 -.5 2.6 -.5 2.6 -.5 2.6 -.5 2.6 -.4 2.6 -.5 2.6 -.4 2.6 -.4 2.6 -.4 2.6 -.4 2.6 -.4 2.6 -.4 2.6 -.4 2.6 -.3 2.6 -.4 2.6 -.4 2.6 -.4 2.6 -.3 2.6 -.4 2.6 -.3 2.6 -.4 2.6 -.3 2.6 -.4 2.6 -.3 2.6 -.3 2.6 -.3 2.7 -.4 2.6 -.3 2.6 -.3 2.6 -.3 2.6 -.3 2.6 -.3 2.6 -.3 2.6 -.3 2.6 -.2 2.6 -.3 2.6 -.3 2.6 -.2 2.6 -.3 2.6 -.2 2.6 -.3 2.6 -.2 2.6 -.2 2.6 -.2 2.6 -.2 2.6 -.2 2.6 -.2 2.6 -.2 2.6 -.2 2.6 -.2 2.6 -.2 2.6 -.2 2.6 -.2 2.6 -.2 2.7 -.2 2.6 -.2 2.6 -.2 2.6 -.1 2.6 -.2 2.6 -.2 2.6 -.2 2.6 -.2 2.6 -.1 2.6 -.2 2.6 -.2 2.6 -.1 2.6 -.2 2.6 -.2 2.6 -.1 2.6 -.2 2.6 -.1 2.6 -.2 2.6 -.1 2.6 -.1 2.6 -.2 2.6 -.1 2.6 -.1 2.6 -.2 2.6 -.1 2.6 -.1 2.6 -.1 2.6 -.1 2.7 -.1 2.6 -.1 2.6 -.1 2.6 -.1 2.6 -.1 2.6 -.1 2.6 0 2.6 -.1 2.6 -.1 2.6 0 .9 -.1" stroke="#9467bd" stroke-width="3.6" stroke-dasharray="3.60 5.94" stroke-linecap="butt"/>
<path d="M151.1 527.8l2.6 -.2 2.6 -.2 2.6 -.2 2.6 -.2 2.6 -.2 2.6 -.2 2.6 -.2 2.6 -.2 2.6 -.2 2.6 -.1 2.6 -.2 2.6 -.2 2.6 -.2 2.6 -.2 2.7 -.2 2.6 -.2 2.6 -.2 2.6 -.2 2.6 -.2 2.6 -.2 2.6 -.1 2.6 -.2 2.6 -.2 2.6 -.1 2.6 -.2 2.6 -.2 2.6 -.2 2.6 -.2 2.6 -.2 2.6 -.2 2.6 -.3 2.6 -.2 2.6 -.3 2.6 -.3 2.6 -.4 2.6 -.5 2.6 -.5 2.6 -.5 2.6 -.6 2.6 -.6 2.6 -.7 2.6 -.7 2.7 -.7 2.6 -.8 2.6 -.7 2.6 -.8 2.6 -.8 2.6 -.7 2.6 -.8 2.6 -.7 2.6 -.8 2.6 -.7 2.6 -.8 2.6 -.9 2.6 -.8 2.6 -.9 2.6 -.8 2.6 -.9 2.6 -.9 2.6 -.9 2.6 -.9 2.6 -.9 2.6 -.8 2.6 -.9 2.6 -.8 2.6 -.8 2.6 -.9 2.6 -.7 2.6 -.8 2.6 -.8 2.7 -.8 2.6 -.8 2.6 -.8 2.6 -.8 2.6 -.7 2.6 -.8 2.6 -.8 2.6 -.7 2.6 -.7 2.6 -.8 2.6 -.7 2.6 -.7 2.6 -.7 2.6 -.6 2.6 -.7 2.6 -.7 2.6 -.7 2.6 -.7 2.6 -.6 2.6 -.7 2.6 -.6 2.6 -.7 2.6 -.6 2.6 -.6 2.6 -.6 2.6 -.5 2.6 -.6 2.6 -.5 2.7 -.5 2.6 -.4 2.6 -.4 2.6 -.4 2.6 -.4 2.6 -.4 2.6 -.4 2.6 -.3 2.6 -.4 2.6 -.3 2.6 -.3 2.6 -.3 2.6 -.3 2.6 -.3 2.6 -.3 2.6 -.3 2.6 -.3 2.6 -.2 2.6 -.3 2.6 -.3 2.6 -.2 2.6 -.3 2.6 -.2 2.6 -.2 2.6 -.3 2.6 -.2 2.6 -.2 2.6 -.2 2.7 -.3 2.6 -.2 2.6 -.2 2.6 -.1 2.6 -.2 2.6 -.2 2.6 -.2 2.6 -.1 2.6 -.2 2.6 -.1 2.6 -.2 2.6 -.1 2.6 -.1 2.6 -.2 2.6 -.1 2.6 -.1 2.6 -.1 2.6 -.2 2.6 -.1 2.6 -.1 2.6 -.1 2.6 -.1 2.6 -.1 2.6 -.1 2.6 -.1 2.6 -.1 2.6 -.1 2.6 -.1 2.7 -.1 2.6 0 2.6 -.1 2.6 -.1 2.6 -.1 2.6 -.1 2.6 0 2.6 -.1 2.6 -.1 2.6 -.1 2.6 -.1 2.6 -.1 2.6 -.1 2.6 -.1 2.6 -.1 2.6 -.2 2.6 -.1 2.6 -.1 2.6 -.2 2.6 -.1 2.6 -.1 2.6 -.2 2.6 -.1 2.6 -.2 2.6 -.1 2.6 -.2 2.6 -.1 2.6 -.2 2.6 -.2 2.7 -.1 2.6 -.2 2.6 -.2 2.6 -.2 2.6 -.1 2.6 -.2 2.6 -.2 2.6 -.2 2.6 -.2 2.6 -.2 2.6 -.2 2.6 -.2 2.6 -.2 2.6 -.2 2.6 -.2 2.6 -.2 2.6 -.2 2.6 -.2 2.6 -.2 2.6 -.2 2.6 -.2 2.6 -.2 2.6 -.2 2.6 -.2 2.6 -.3 2.6 -.2 2.6 -.2 2.6 -.2 2.7 -.2 2.6 -.3 2.6 -.2 2.6 -.2 2.6 -.2 2.6 -.2 2.6 -.3 2.6 -.2 2.6 -.2 2.6 -.2 2.6 -.3 2.6 -.2 2.6 -.2 2.6 -.2 2.6 -.2 2.6 -.3 2.6 -.2 2.6 -.2 2.6 -.2 2.6 -.3 2.6 -.2 2.6 -.2 2.6 -.2 2.6 -.2 2.6 -.2 2.6 -.3 2.6 -.2 2.6 -.2 2.7 -.2 2.6 -.2 2.6 -.2 2.6 -.2 2.6 -.2 2.6 -.2 2.6 -.2 2.6 -.2 2.6 -.2 2.6 -.2 2.6 -.2 2.6 -.2 2.6 -.2 2.6 -.2 2.6 -.2 2.6 -.2 2.6 -.2 2.6 -.2 2.6 -.2 2.6 -.2 2.6 -.2 2.6 -.2 2.6 -.2 2.6 -.2 2.6 -.2 2.6 -.2 2.6 -.1 2.6 -.2 2.7 -.2 2.6 -.2 2.6 -.2 2.6 -.2 2.6 -.2 2.6 -.2 2.6 -.2 2.6 -.2 2.6 -.2 2.6 -.2 2.6 -.2 2.6 -.2 2.6 -.2 2.6 -.2 2.6 -.2 2.6 -.2 2.6 -.1 2.6 -.2 2.6 -.2 2.6 -.2 2.6 -.2 2.6 -.2 2.6 -.2 2.6 -.2 2.6 -.2 2.6 -.2 2.6 -.2 2.6 -.2 2.7 -.2 2.6 -.2 2.6 -.2 2.6 -.2 2.6 -.1 2.6 -.2 2.6 -.2 2.6 -.2 2.6 -.2 2.6 -.2 2.6 -.2 2.6 -.2 2.6 -.2 2.6 -.2 2.6 -.2 2.6 -.2 2.6 -.2 2.6 -.2 2.6 -.2 2.6 -.2 2.6 -.1 2.6 -.2 2.6 -.2 2.6 -.2 2.6 -.2 2.6 -.2 2.6 -.2 2.6 -.2 2.7 -.2 2.6 -.2 2.6 -.2 2.6 -.2 2.6 -.2 2.6 -.2 2.6 -.2 2.6 -.1 2.6 -.2 2.6 -.2 .9 -.1" stroke="#9467bd" stroke-width="3.6" stroke-linecap="square"/>
<path d="M151.1 343.5l2.6 0 2.6 0 2.6 0 2.6 -.1 2.6 0 2.6 0 2.6 0 2.6 -.1 2.6 0 2.6 -.1 2.6 -.1 2.6 -.2 2.6 -.2 2.6 -.2 2.7 -.2 2.6 -.2 2.6 -.2 2.6 -.3 2.6 -.3 2.6 -.3 2.6 -.4 2.6 -.4 2.6 -.4 2.6 -.4 2.6 -.5 2.6 -.5 2.6 -.6 2.6 -.6 2.6 -.6 2.6 -.8 2.6 -.7 2.6 -.8 2.6 -.8 2.6 -.9 2.6 -.9 2.6 -1.1 2.6 -1.1 2.6 -1.1 2.6 -1.2 2.6 -1.3 2.6 -1.2 2.6 -1.3 2.7 -1.3 2.6 -1.3 2.6 -1.4 2.6 -1.4 2.6 -1.5 2.6 -1.5 2.6 -1.6 2.6 -1.6 2.6 -1.7 2.6 -1.8 2.6 -1.9 2.6 -1.9 2.6 -2 2.6 -2.1 2.6 -2.1 2.6 -2.1 2.6 -2.2 2.6 -2.2 2.6 -2.3 2.6 -2.4 2.6 -2.4 2.6 -2.4 2.6 -2.5 2.6 -2.5 2.6 -2.6 2.6 -2.5 2.6 -2.7 2.6 -2.6 2.7 -2.7 2.6 -2.7 2.6 -2.8 2.6 -2.7 2.6 -2.7 2.6 -2.8 2.6 -2.7 2.6 -2.7 2.6 -2.8 2.6 -2.8 2.6 -2.8 2.6 -2.8 2.6 -2.9 2.6 -2.8 2.6 -3 2.6 -2.9 2.6 -3 2.6 -3 2.6 -2.9 2.6 -3 2.6 -2.9 2.6 -2.9 2.6 -2.9 2.6 -2.9 2.6 -2.8 2.6 -2.8 2.6 -2.8 2.6 -2.7 2.7 -2.6 2.6 -2.6 2.6 -2.6 2.6 -2.5 2.6 -2.5 2.6 -2.5 2.6 -2.4 2.6 -2.4 2.6 -2.4 2.6 -2.4 2.6 -2.3 2.6 -2.3 2.6 -2.3 2.6 -2.3 2.6 -2.3 2.6 -2.3 2.6 -2.2 2.6 -2.2 2.6 -2.3 2.6 -2.2 2.6 -2.3 2.6 -2.2 2.6 -2.2 2.6 -2.3 2.6 -2.1 2.6 -2.2 2.6 -2 2.6 -2 2.7 -2 2.6 -1.8 2.6 -1.8 2.6 -1.8 2.6 -1.7 2.6 -1.6 2.6 -1.5 2.6 -1.5 2.6 -1.5 2.6 -1.4 2.6 -1.3 2.6 -1.4 2.6 -1.2 2.6 -1.2 2.6 -1.2 2.6 -1.2 2.6 -1.2 2.6 -1.1 2.6 -1.2 2.6 -1 2.6 -1.1 2.6 -1 2.6 -1 2.6 -.9 2.6 -.8 2.6 -.8 2.6 -.7 2.6 -.8 2.7 -.6 2.6 -.7 2.6 -.7 2.6 -.6 2.6 -.6 2.6 -.5 2.6 -.6 2.6 -.5 2.6 -.5 2.6 -.5 2.6 -.4 2.6 -.5 2.6 -.4 2.6 -.3 2.6 -.3 2.6 -.3 2.6 -.3 2.6 -.4 2.6 -.3 2.6 -.3 2.6 -.3 2.6 -.2 2.6 -.3 2.6 -.2 2.6 -.2 2.6 -.1 2.6 -.1 2.6 -.1 2.6 0 2.7 0 2.6 0 2.6 0 2.6 .1 2.6 0 2.6 0 2.6 0 2.6 .1 2.6 0 2.6 .1 2.6 0 2.6 .1 2.6 .2 2.6 .2 2.6 .3 2.6 .3 2.6 .4 2.6 .4 2.6 .4 2.6 .5 2.6 .4 2.6 .3 2.6 .4 2.6 .4 2.6 .3 2.6 .4 2.6 .4 2.6 .4 2.7 .4 2.6 .4 2.6 .4 2.6 .4 2.6 .5 2.6 .4 2.6 .5 2.6 .6 2.6 .5 2.6 .6 2.6 .6 2.6 .6 2.6 .6 2.6 .7 2.6 .6 2.6 .6 2.6 .7 2.6 .6 2.6 .6 2.6 .6 2.6 .7 2.6 .6 2.6 .6 2.6 .6 2.6 .7 2.6 .6 2.6 .7 2.6 .6 2.7 .7 2.6 .7 2.6 .6 2.6 .8 2.6 .7 2.6 .7 2.6 .7 2.6 .8 2.6 .7 2.6 .7 2.6 .7 2.6 .7 2.6 .7 2.6 .7 2.6 .7 2.6 .7 2.6 .7 2.6 .7 2.6 .7 2.6 .7 2.6 .7 2.6 .6 2.6 .7 2.6 .7 2.6 .8 2.6 .7 2.6 .7 2.6 .7 2.7 .8 2.6 .7 2.6 .8 2.6 .7 2.6 .8 2.6 .8 2.6 .8 2.6 .7 2.6 .8 2.6 .8 2.6 .8 2.6 .8 2.6 .8 2.6 .7 2.6 .8 2.6 .8 2.6 .7 2.6 .8 2.6 .8 2.6 .8 2.6 .7 2.6 .8 2.6 .7 2.6 .8 2.6 .8 2.6 .7 2.6 .7 2.6 .8 2.7 .7 2.6 .7 2.6 .7 2.6 .7 2.6 .7 2.6 .7 2.6 .7 2.6 .7 2.6 .7 2.6 .7 2.6 .7 2.6 .7 2.6 .7 2.6 .6 2.6 .7 2.6 .7 2.6 .7 2.6 .7 2.6 .6 2.6 .7 2.6 .7 2.6 .7 2.6 .6 2.6 .7 2.6 .7 2.6 .7 2.6 .6 2.6 .7 2.7 .6 2.6 .7 2.6 .7 2.6 .6 2.6 .7 2.6 .6 2.6 .7 2.6 .6 2.6 .7 2.6 .6 .9 .2" stroke="#8c564b" stroke-width="3.6" stroke-linecap="square"/>
<path d="M144.1 336.5l14 14M144.1 350.5l14 -14M152.8 336.5l14 14M152.8 350.5l14 -14M163.3 336.3l14 14M163.3 350.3l14 -14M175.9 335.9l14 14M175.9 349.9l14 -14M190.7 334.7l14 14M190.7 348.7l14 -14M207.9 332.1l14 14M207.9 346.1l14 -14M227.4 327.3l14 14M227.4 341.3l14 -14M249.3 318.4l14 14M249.3 332.4l14 -14M273.5 305.3l14 14M273.5 319.3l14 -14M299.9 285.1l14 14M299.9 299.1l14 -14M328.5 257.6l14 14M328.5 271.6l14 -14M359.3 225.1l14 14M359.3 239.1l14 -14M392.0 188.3l14 14M392.0 202.3l14 -14M426.9 154.4l14 14M426.9 168.4l14 -14M463.9 122.4l14 14M463.9 136.4l14 -14M503.0 96.8l14 14M503.0 110.8l14 -14M544.3 80.3l14 14M544.3 94.3l14 -14M588.0 71.9l14 14M588.0 85.9l14 -14M634.0 69.4l14 14M634.0 83.4l14 -14M682.7 73.8l14 14M682.7 87.8l14 -14M734.0 83.5l14 14M734.0 97.5l14 -14M788.1 97.3l14 14M788.1 111.3l14 -14M845.2 112.8l14 14M845.2 126.8l14 -14M905.5 130.7l14 14M905.5 144.7l14 -14M969.1 147.7l14 14M969.1 161.7l14 -14" stroke="#8c564b" stroke-width="2.9" stroke-linecap="butt"/>
<path d="M151.1 343.5l2.6 0 2.6 0 2.6 -.1 2.6 0 2.6 0 2.6 -.1 2.6 -.1 2.6 0 2.6 -.1 2.6 -.1 2.6 -.1 2.6 -.1 2.6 -.1 2.6 -.2 2.7 -.1 2.6 -.3 2.6 -.3 2.6 -.4 2.6 -.4 2.6 -.5 2.6 -.5 2.6 -.6 2.6 -.5 2.6 -.7 2.6 -.9 2.6 -1.1 2.6 -1.3 2.6 -1.4 2.6 -1.5 2.6 -1.6 2.6 -1.6 2.6 -1.6 2.6 -1.5 2.6 -1.5 2.6 -1.5 2.6 -1.6 2.6 -1.6 2.6 -1.7 2.6 -1.6 2.6 -1.7 2.6 -1.7 2.6 -1.6 2.7 -1.7 2.6 -1.6 2.6 -1.6 2.6 -1.5 2.6 -1.6 2.6 -1.6 2.6 -1.5 2.6 -1.6 2.6 -1.5 2.6 -1.6 2.6 -1.5 2.6 -1.4 2.6 -1.5 2.6 -1.3 2.6 -1.4 2.6 -1.2 2.6 -1.3 2.6 -1.4 2.6 -1.4 2.6 -1.4 2.6 -1.3 2.6 -1.4 2.6 -1.3 2.6 -1.2 2.6 -1.1 2.6 -1.1 2.6 -.9 2.6 -.7 2.7 -.6 2.6 -.5 2.6 -.2 2.6 -.2 2.6 -.2 2.6 -.2 2.6 -.2 2.6 -.1 2.6 -.1 2.6 -.1 2.6 -.1 2.6 0 2.6 0 2.6 .1 2.6 .1 2.6 .2 2.6 .3 2.6 .3 2.6 .4 2.6 .4 2.6 .4 2.6 .6 2.6 .9 2.6 1.1 2.6 1.2 2.6 1.3 2.6 1.2 2.6 1.2 2.7 1 2.6 1 2.6 .9 2.6 1.1 2.6 1 2.6 1.2 2.6 1.3 2.6 1.5 2.6 1.5 2.6 1.7 2.6 1.6 2.6 1.7 2.6 1.5 2.6 1.6 2.6 1.5 2.6 1.6 2.6 1.5 2.6 1.6 2.6 1.6 2.6 1.5 2.6 1.6 2.6 1.6 2.6 1.5 2.6 1.6 2.6 1.6 2.6 1.5 2.6 1.5 2.6 1.5 2.7 1.6 2.6 1.5 2.6 1.7 2.6 1.7 2.6 1.8 2.6 1.9 2.6 2 2.6 1.9 2.6 1.9 2.6 1.7 2.6 1.8 2.6 1.7 2.6 1.7 2.6 1.7 2.6 1.6 2.6 1.6 2.6 1.5 2.6 1.4 2.6 1.5 2.6 1.4 2.6 1.4 2.6 1.4 2.6 1.4 2.6 1.4 2.6 1.4 2.6 1.4 2.6 1.4 2.6 1.4 2.7 1.3 2.6 1.4 2.6 1.4 2.6 1.3 2.6 1.4 2.6 1.3 2.6 1.3 2.6 1.3 2.6 1.2 2.6 1.3 2.6 1.2 2.6 1.1 2.6 1.2 2.6 1.1 2.6 1.1 2.6 1.1 2.6 1.1 2.6 1.1 2.6 1 2.6 1.1 2.6 .9 2.6 1 2.6 .8 2.6 .9 2.6 .8 2.6 .7 2.6 .8 2.6 .7 2.6 .7 2.7 .7 2.6 .6 2.6 .7 2.6 .6 2.6 .6 2.6 .6 2.6 .5 2.6 .5 2.6 .5 2.6 .5 2.6 .5 2.6 .5 2.6 .5 2.6 .5 2.6 .4 2.6 .5 2.6 .4 2.6 .4 2.6 .4 2.6 .4 2.6 .3 2.6 .3 2.6 .3 2.6 .3 2.6 .3 2.6 .2 2.6 .2 2.6 .3 2.7 .2 2.6 .2 2.6 .3 2.6 .2 2.6 .2 2.6 .1 2.6 .2 2.6 .1 2.6 .2 2.6 0 2.6 .1 2.6 0 2.6 0 2.6 0 2.6 0 2.6 0 2.6 0 2.6 0 2.6 -.1 2.6 0 2.6 0 2.6 -.1 2.6 0 2.6 0 2.6 -.1 2.6 0 2.6 0 2.6 -.1 2.7 0 2.6 -.1 2.6 0 2.6 -.1 2.6 0 2.6 -.1 2.6 -.1 2.6 -.1 2.6 -.1 2.6 -.1 2.6 -.1 2.6 -.2 2.6 -.1 2.6 -.1 2.6 -.2 2.6 -.2 2.6 -.1 2.6 -.2 2.6 -.2 2.6 -.2 2.6 -.1 2.6 -.2 2.6 -.2 2.6 -.2 2.6 -.3 2.6 -.2 2.6 -.2 2.6 -.2 2.7 -.2 2.6 -.3 2.6 -.2 2.6 -.2 2.6 -.3 2.6 -.2 2.6 -.3 2.6 -.2 2.6 -.3 2.6 -.2 2.6 -.3 2.6 -.2 2.6 -.3 2.6 -.2 2.6 -.3 2.6 -.2 2.6 -.3 2.6 -.2 2.6 -.3 2.6 -.2 2.6 -.3 2.6 -.2 2.6 -.3 2.6 -.2 2.6 -.3 2.6 -.3 2.6 -.3 2.6 -.3 2.7 -.2 2.6 -.3 2.6 -.3 2.6 -.3 2.6 -.4 2.6 -.3 2.6 -.3 2.6 -.3 2.6 -.3 2.6 -.4 2.6 -.3 2.6 -.3 2.6 -.4 2.6 -.3 2.6 -.4 2.6 -.3 2.6 -.4 2.6 -.3 2.6 -.4 2.6 -.4 2.6 -.3 2.6 -.4 2.6 -.4 2.6 -.4 2.6 -.4 2.6 -.4 2.6 -.3 2.6 -.4 2.7 -.4 2.6 -.4 2.6 -.4 2.6 -.4 2.6 -.5 2.6 -.4 2.6 -.4 2.6 -.4 2.6 -.4 2.6 -.4 .9 -.2" stroke="#8c564b" stroke-width="3.6" stroke-dasharray="23.04 5.76 3.60 5.76" stroke-linecap="butt"/>
<path d="M151.1 343.5l2.6 0 2.6 0 2.6 0 2.6 0 2.6 .1 2.6 0 2.6 0 2.6 0 2.6 0 2.6 .1 2.6 0 2.6 0 2.6 .1 2.6 0 2.7 0 2.6 .1 2.6 0 2.6 0 2.6 .1 2.6 0 2.6 .1 2.6 0 2.6 .1 2.6 .1 2.6 0 2.6 .1 2.6 .1 2.6 .1 2.6 0 2.6 .1 2.6 .1 2.6 .1 2.6 .1 2.6 .1 2.6 .1 2.6 .1 2.6 .1 2.6 .1 2.6 .2 2.6 .1 2.6 .2 2.6 .1 2.7 .2 2.6 .2 2.6 .1 2.6 .2 2.6 .2 2.6 .2 2.6 .2 2.6 .2 2.6 .2 2.6 .2 2.6 .3 2.6 .2 2.6 .3 2.6 .3 2.6 .3 2.6 .3 2.6 .3 2.6 .4 2.6 .3 2.6 .3 2.6 .4 2.6 .3 2.6 .4 2.6 .4 2.6 .3 2.6 .4 2.6 .3 2.6 .4 2.7 .3 2.6 .3 2.6 .4 2.6 .3 2.6 .3 2.6 .3 2.6 .3 2.6 .2 2.6 .3 2.6 .3 2.6 .3 2.6 .2 2.6 .3 2.6 .3 2.6 .2 2.6 .3 2.6 .2 2.6 .3 2.6 .2 2.6 .3 2.6 .3 2.6 .2 2.6 .3 2.6 .2 2.6 .3 2.6 .2 2.6 .3 2.6 .2 2.7 .3 2.6 .2 2.6 .3 2.6 .2 2.6 .3 2.6 .3 2.6 .2 2.6 .3 2.6 .2 2.6 .3 2.6 .2 2.6 .3 2.6 .3 2.6 .2 2.6 .3 2.6 .2 2.6 .3 2.6 .2 2.6 .3 2.6 .2 2.6 .3 2.6 .3 2.6 .2 2.6 .2 2.6 .3 2.6 .2 2.6 .3 2.6 .2 2.7 .3 2.6 .2 2.6 .3 2.6 .2 2.6 .2 2.6 .3 2.6 .2 2.6 .3 2.6 .2 2.6 .2 2.6 .3 2.6 .2 2.6 .3 2.6 .2 2.6 .2 2.6 .2 2.6 .3 2.6 .2 2.6 .2 2.6 .2 2.6 .3 2.6 .2 2.6 .2 2.6 .2 2.6 .2 2.6 .2 2.6 .2 2.6 .2 2.7 .2 2.6 .2 2.6 .2 2.6 .3 2.6 .2 2.6 .2 2.6 .2 2.6 .1 2.6 .2 2.6 .2 2.6 .2 2.6 .2 2.6 .2 2.6 .2 2.6 .1 2.6 .2 2.6 .2 2.6 .2 2.6 .1 2.6 .2 2.6 .1 2.6 .2 2.6 .1 2.6 .2 2.6 .1 2.6 .2 2.6 .1 2.6 .2 2.6 .1 2.7 .2 2.6 .1 2.6 .1 2.6 .2 2.6 .1 2.6 .1 2.6 .1 2.6 .2 2.6 .1 2.6 .1 2.6 .1 2.6 .1 2.6 .1 2.6 .2 2.6 .1 2.6 .1 2.6 .1 2.6 .1 2.6 .1 2.6 .1 2.6 .1 2.6 .1 2.6 .1 2.6 .1 2.6 .1 2.6 .1 2.6 .1 2.6 .1 2.7 .1 2.6 .1 2.6 .1 2.6 .1 2.6 .1 2.6 0 2.6 .1 2.6 .1 2.6 .1 2.6 .1 2.6 .1 2.6 .1 2.6 .1 2.6 0 2.6 .1 2.6 .1 2.6 .1 2.6 0 2.6 .1 2.6 .1 2.6 .1 2.6 0 2.6 .1 2.6 .1 2.6 0 2.6 .1 2.6 0 2.6 .1 2.7 0 2.6 .1 2.6 0 2.6 .1 2.6 0 2.6 0 2.6 .1 2.6 0 2.6 .1 2.6 0 2.6 0 2.6 .1 2.6 0 2.6 0 2.6 .1 2.6 0 2.6 0 2.6 .1 2.6 0 2.6 0 2.6 .1 2.6 0 2.6 0 2.6 0 2.6 .1 2.6 0 2.6 0 2.6 0 2.7 .1 2.6 0 2.6 0 2.6 0 2.6 .1 2.6 0 2.6 0 2.6 0 2.6 0 2.6 0 2.6 .1 2.6 0 2.6 0 2.6 0 2.6 0 2.6 0 2.6 0 2.6 0 2.6 0 2.6 0 2.6 .1 2.6 0 2.6 0 2.6 0 2.6 0 2.6 0 2.6 0 2.6 0 2.7 0 2.6 0 2.6 0 2.6 0 2.6 0 2.6 .1 2.6 0 2.6 0 2.6 0 2.6 0 2.6 0 2.6 0 2.6 0 2.6 0 2.6 0 2.6 0 2.6 0 2.6 0 2.6 0 2.6 0 2.6 0 2.6 0 2.6 0 2.6 0 2.6 0 2.6 0 2.6 .1 2.6 0 2.7 0 2.6 0 2.6 0 2.6 0 2.6 0 2.6 0 2.6 0 2.6 0 2.6 0 2.6 0 .9 0" stroke="#8c564b" stroke-width="3.6" stroke-dasharray="13.32 5.76" stroke-linecap="butt"/>
<path d="M151.1 136.3l2.6 .6 2.6 .6 2.6 .6 2.6 .6 2.6 .6 2.6 .7 2.6 .6 2.6 .5 2.6 .5 2.6 .5 2.6 .5 2.6 .6 2.6 .7 2.6 .8 2.7 .8 2.6 .7 2.6 .6 2.6 .8 2.6 .9 2.6 1.1 2.6 1.3 2.6 1.4 2.6 1.5 2.6 1.6 2.6 1.6 2.6 1.5 2.6 1.6 2.6 1.7 2.6 2.1 2.6 2.7 2.6 2.6 2.6 2.4 2.6 2.3 2.6 2.5 2.6 2.6 2.6 2.8 2.6 3.1 2.6 3.5 2.6 3.5 2.6 3.3 2.6 3.5 2.6 3.6 2.7 3.4 2.6 3.3 2.6 3.3 2.6 4 2.6 4.3 2.6 4 2.6 3.9 2.6 3.8 2.6 3.9 2.6 4 2.6 3.9 2.6 4 2.6 4.1 2.6 4 2.6 4 2.6 4.1 2.6 4 2.6 4.1 2.6 4 2.6 3.9 2.6 3.8 2.6 4 2.6 4.5 2.6 5.3 2.6 5.7 2.6 4.9 2.6 4.4 2.6 4.1 2.7 4 2.6 3.8 2.6 3.7 2.6 3.6 2.6 3.6 2.6 3.5 2.6 3.6 2.6 3.4 2.6 3.5 2.6 3.5 2.6 3.6 2.6 3.6 2.6 3.5 2.6 3 2.6 2.7 2.6 2.7 2.6 2.7 2.6 2.9 2.6 2.8 2.6 2.8 2.6 2.6 2.6 2.5 2.6 2.5 2.6 2.6 2.6 2.7 2.6 2.5 2.6 2.4 2.6 2.2 2.7 2 2.6 1.8 2.6 1.7 2.6 1.4 2.6 1.4 2.6 1.4 2.6 1.4 2.6 1.3 2.6 1.3 2.6 1.5 2.6 1.4 2.6 1.4 2.6 1.5 2.6 1.5 2.6 1.4 2.6 .9 2.6 .8 2.6 .7 2.6 .5 2.6 .5 2.6 .4 2.6 .4 2.6 .4 2.6 .4 2.6 .4 2.6 .3 2.6 .4 2.6 .3 2.7 .3 2.6 .5 2.6 .3 2.6 .3 2.6 .2 2.6 .1 2.6 0 2.6 0 2.6 -.3 2.6 -.4 2.6 -.3 2.6 -.3 2.6 -.3 2.6 -.3 2.6 -.4 2.6 -.5 2.6 -.4 2.6 -.4 2.6 -.4 2.6 -.3 2.6 -.4 2.6 -.4 2.6 -.4 2.6 -.4 2.6 -.4 2.6 -.4 2.6 -.5 2.6 -.4 2.7 -.5 2.6 -.5 2.6 -.5 2.6 -.5 2.6 -.6 2.6 -.5 2.6 -.5 2.6 -.6 2.6 -.6 2.6 -.5 2.6 -.6 2.6 -.6 2.6 -.6 2.6 -.6 2.6 -.6 2.6 -.6 2.6 -.7 2.6 -.6 2.6 -.6 2.6 -.6 2.6 -.7 2.6 -.6 2.6 -.7 2.6 -.7 2.6 -.7 2.6 -.7 2.6 -.7 2.6 -.7 2.6 -.8 2.7 -.7 2.6 -.8 2.6 -.7 2.6 -.8 2.6 -.7 2.6 -.8 2.6 -.7 2.6 -.7 2.6 -.7 2.6 -.7 2.6 -.7 2.6 -.7 2.6 -.6 2.6 -.7 2.6 -.6 2.6 -.7 2.6 -.6 2.6 -.7 2.6 -.6 2.6 -.6 2.6 -.7 2.6 -.6 2.6 -.6 2.6 -.6 2.6 -.7 2.6 -.6 2.6 -.6 2.6 -.6 2.7 -.6 2.6 -.6 2.6 -.6 2.6 -.6 2.6 -.6 2.6 -.6 2.6 -.6 2.6 -.6 2.6 -.5 2.6 -.6 2.6 -.6 2.6 -.6 2.6 -.6 2.6 -.5 2.6 -.6 2.6 -.6 2.6 -.6 2.6 -.6 2.6 -.6 2.6 -.6 2.6 -.5 2.6 -.6 2.6 -.6 2.6 -.6 2.6 -.6 2.6 -.5 2.6 -.6 2.6 -.5 2.7 -.6 2.6 -.5 2.6 -.5 2.6 -.5 2.6 -.5 2.6 -.5 2.6 -.5 2.6 -.4 2.6 -.5 2.6 -.4 2.6 -.4 2.6 -.4 2.6 -.4 2.6 -.3 2.6 -.4 2.6 -.4 2.6 -.4 2.6 -.3 2.6 -.4 2.6 -.3 2.6 -.4 2.6 -.3 2.6 -.4 2.6 -.3 2.6 -.3 2.6 -.4 2.6 -.3 2.6 -.3 2.7 -.3 2.6 -.3 2.6 -.3 2.6 -.3 2.6 -.3 2.6 -.3 2.6 -.3 2.6 -.3 2.6 -.2 2.6 -.3 2.6 -.3 2.6 -.2 2.6 -.3 2.6 -.2 2.6 -.3 2.6 -.2 2.6 -.2 2.6 -.3 2.6 -.2 2.6 -.2 2.6 -.2 2.6 -.2 2.6 -.2 2.6 -.2 2.6 -.3 2.6 -.2 2.6 -.2 2.6 -.2 2.7 -.2 2.6 -.2 2.6 -.2 2.6 -.2 2.6 -.2 2.6 -.1 2.6 -.2 2.6 -.2 2.6 -.2 2.6 -.2 2.6 -.2 2.6 -.1 2.6 -.2 2.6 -.2 2.6 -.2 2.6 -.1 2.6 -.2 2.6 -.2 2.6 -.1 2.6 -.2 2.6 -.1 2.6 -.2 2.6 -.1 2.6 -.2 2.6 -.1 2.6 -.1 2.6 -.2 2.6 -.1 2.7 -.1 2.6 -.1 2.6 -.1 2.6 -.1 2.6 -.2 2.6 -.1 2.6 0 2.6 -.1 2.6 -.1 2.6 -.1 .9 0" stroke="#8c564b" stroke-width="3.6" stroke-dasharray="3.60 5.94" stroke-linecap="butt"/>
<path d="M151.1 550.2l2.6 -.2 2.6 -.3 2.6 -.3 2.6 -.2 2.6 -.3 2.6 -.3 2.6 -.2 2.6 -.3 2.6 -.2 2.6 -.3 2.6 -.2 2.6 -.2 2.6 -.3 2.6 -.2 2.7 -.2 2.6 -.3 2.6 -.2 2.6 -.2 2.6 -.2 2.6 -.2 2.6 -.2 2.6 -.1 2.6 -.2 2.6 -.1 2.6 -.2 2.6 -.2 2.6 -.2 2.6 -.1 2.6 -.3 2.6 -.2 2.6 -.2 2.6 -.3 2.6 -.3 2.6 -.3 2.6 -.4 2.6 -.4 2.6 -.5 2.6 -.6 2.6 -.6 2.6 -.7 2.6 -.7 2.6 -.7 2.7 -.8 2.6 -.8 2.6 -.8 2.6 -.8 2.6 -.9 2.6 -.9 2.6 -.8 2.6 -.9 2.6 -.9 2.6 -1 2.6 -1 2.6 -1.1 2.6 -1.1 2.6 -1.2 2.6 -1.2 2.6 -1.2 2.6 -1.2 2.6 -1.3 2.6 -1.2 2.6 -1.2 2.6 -1.3 2.6 -1.2 2.6 -1.1 2.6 -1.2 2.6 -1.1 2.6 -1.1 2.6 -1 2.6 -1.1 2.7 -1.1 2.6 -1 2.6 -1.1 2.6 -1 2.6 -1.1 2.6 -1 2.6 -1 2.6 -1.1 2.6 -1 2.6 -1 2.6 -.9 2.6 -1 2.6 -1 2.6 -.9 2.6 -1 2.6 -1 2.6 -.9 2.6 -1 2.6 -1 2.6 -1 2.6 -.9 2.6 -.9 2.6 -1 2.6 -.8 2.6 -.9 2.6 -.8 2.6 -.8 2.6 -.7 2.7 -.7 2.6 -.6 2.6 -.6 2.6 -.5 2.6 -.6 2.6 -.5 2.6 -.5 2.6 -.4 2.6 -.5 2.6 -.4 2.6 -.5 2.6 -.4 2.6 -.4 2.6 -.4 2.6 -.4 2.6 -.3 2.6 -.4 2.6 -.3 2.6 -.4 2.6 -.3 2.6 -.4 2.6 -.3 2.6 -.3 2.6 -.3 2.6 -.3 2.6 -.3 2.6 -.3 2.6 -.3 2.7 -.2 2.6 -.3 2.6 -.2 2.6 -.3 2.6 -.3 2.6 -.2 2.6 -.2 2.6 -.3 2.6 -.2 2.6 -.2 2.6 -.2 2.6 -.3 2.6 -.2 2.6 -.2 2.6 -.2 2.6 -.2 2.6 -.2 2.6 -.2 2.6 -.2 2.6 -.2 2.6 -.1 2.6 -.2 2.6 -.1 2.6 -.2 2.6 -.1 2.6 -.2 2.6 -.1 2.6 -.1 2.7 -.1 2.6 -.1 2.6 -.1 2.6 -.1 2.6 -.1 2.6 -.1 2.6 -.1 2.6 -.1 2.6 -.1 2.6 -.1 2.6 -.2 2.6 -.1 2.6 -.1 2.6 -.2 2.6 -.1 2.6 -.2 2.6 -.1 2.6 -.2 2.6 -.1 2.6 -.2 2.6 -.2 2.6 -.1 2.6 -.2 2.6 -.2 2.6 -.1 2.6 -.2 2.6 -.2 2.6 -.2 2.6 -.2 2.7 -.2 2.6 -.2 2.6 -.2 2.6 -.2 2.6 -.2 2.6 -.2 2.6 -.2 2.6 -.2 2.6 -.2 2.6 -.2 2.6 -.2 2.6 -.2 2.6 -.2 2.6 -.3 2.6 -.2 2.6 -.2 2.6 -.2 2.6 -.2 2.6 -.3 2.6 -.2 2.6 -.2 2.6 -.3 2.6 -.2 2.6 -.2 2.6 -.3 2.6 -.2 2.6 -.2 2.6 -.3 2.7 -.2 2.6 -.2 2.6 -.3 2.6 -.2 2.6 -.2 2.6 -.3 2.6 -.2 2.6 -.2 2.6 -.3 2.6 -.2 2.6 -.3 2.6 -.2 2.6 -.2 2.6 -.3 2.6 -.2 2.6 -.2 2.6 -.3 2.6 -.2 2.6 -.2 2.6 -.3 2.6 -.2 2.6 -.2 2.6 -.3 2.6 -.2 2.6 -.2 2.6 -.3 2.6 -.2 2.6 -.2 2.7 -.2 2.6 -.3 2.6 -.2 2.6 -.2 2.6 -.2 2.6 -.2 2.6 -.3 2.6 -.2 2.6 -.2 2.6 -.2 2.6 -.2 2.6 -.2 2.6 -.2 2.6 -.2 2.6 -.2 2.6 -.2 2.6 -.2 2.6 -.2 2.6 -.2 2.6 -.3 2.6 -.2 2.6 -.2 2.6 -.2 2.6 -.2 2.6 -.2 2.6 -.2 2.6 -.2 2.6 -.2 2.7 -.2 2.6 -.2 2.6 -.2 2.6 -.2 2.6 -.2 2.6 -.2 2.6 -.2 2.6 -.2 2.6 -.2 2.6 -.2 2.6 -.2 2.6 -.2 2.6 -.2 2.6 -.2 2.6 -.2 2.6 -.2 2.6 -.2 2.6 -.2 2.6 -.2 2.6 -.2 2.6 -.2 2.6 -.2 2.6 -.2 2.6 -.2 2.6 -.2 2.6 -.2 2.6 -.2 2.6 -.2 2.7 -.2 2.6 -.2 2.6 -.2 2.6 -.2 2.6 -.2 2.6 -.2 2.6 -.2 2.6 -.2 2.6 -.2 2.6 -.2 2.6 -.2 2.6 -.2 2.6 -.2 2.6 -.2 2.6 -.2 2.6 -.2 2.6 -.2 2.6 -.2 2.6 -.2 2.6 -.2 2.6 -.2 2.6 -.2 2.6 -.2 2.6 -.2 2.6 -.2 2.6 -.2 2.6 -.2 2.6 -.2 2.7 -.2 2.6 -.2 2.6 -.2 2.6 -.2 2.6 -.2 2.6 -.2 2.6 -.1 2.6 -.2 2.6 -.2 2.6 -.2 .9 -.1" stroke="#8c564b" stroke-width="3.6" stroke-linecap="square"/>
<path d="M151.1 343.5l2.6 0 2.6 0 2.6 0 2.6 -.1 2.6 0 2.6 0 2.6 -.1 2.6 0 2.6 -.1 2.6 0 2.6 -.2 2.6 -.1 2.6 -.2 2.6 -.2 2.7 -.2 2.6 -.3 2.6 -.2 2.6 -.3 2.6 -.3 2.6 -.3 2.6 -.4 2.6 -.4 2.6 -.5 2.6 -.5 2.6 -.4 2.6 -.6 2.6 -.6 2.6 -.6 2.6 -.7 2.6 -.7 2.6 -.8 2.6 -.8 2.6 -.9 2.6 -.9 2.6 -1 2.6 -1 2.6 -1.2 2.6 -1.2 2.6 -1.2 2.6 -1.3 2.6 -1.3 2.6 -1.3 2.7 -1.3 2.6 -1.4 2.6 -1.4 2.6 -1.5 2.6 -1.5 2.6 -1.6 2.6 -1.6 2.6 -1.7 2.6 -1.7 2.6 -1.8 2.6 -2 2.6 -1.9 2.6 -2.1 2.6 -2.1 2.6 -2.1 2.6 -2.2 2.6 -2.2 2.6 -2.3 2.6 -2.4 2.6 -2.5 2.6 -2.4 2.6 -2.6 2.6 -2.5 2.6 -2.6 2.6 -2.6 2.6 -2.6 2.6 -2.7 2.6 -2.7 2.7 -2.7 2.6 -2.7 2.6 -2.8 2.6 -2.8 2.6 -2.7 2.6 -2.8 2.6 -2.8 2.6 -2.8 2.6 -2.8 2.6 -2.8 2.6 -2.8 2.6 -2.9 2.6 -2.9 2.6 -2.9 2.6 -2.9 2.6 -3 2.6 -3 2.6 -3 2.6 -3 2.6 -3 2.6 -3 2.6 -2.9 2.6 -2.9 2.6 -2.9 2.6 -2.8 2.6 -2.9 2.6 -2.8 2.6 -2.7 2.7 -2.6 2.6 -2.6 2.6 -2.6 2.6 -2.5 2.6 -2.5 2.6 -2.4 2.6 -2.4 2.6 -2.4 2.6 -2.4 2.6 -2.4 2.6 -2.3 2.6 -2.3 2.6 -2.3 2.6 -2.3 2.6 -2.2 2.6 -2.3 2.6 -2.2 2.6 -2.2 2.6 -2.3 2.6 -2.2 2.6 -2.3 2.6 -2.2 2.6 -2.2 2.6 -2.3 2.6 -2.1 2.6 -2.2 2.6 -2 2.6 -2.1 2.7 -1.9 2.6 -1.9 2.6 -1.8 2.6 -1.7 2.6 -1.7 2.6 -1.6 2.6 -1.5 2.6 -1.5 2.6 -1.5 2.6 -1.4 2.6 -1.3 2.6 -1.3 2.6 -1.2 2.6 -1.2 2.6 -1.2 2.6 -1.1 2.6 -1.1 2.6 -1.1 2.6 -1.1 2.6 -1 2.6 -1 2.6 -1 2.6 -.9 2.6 -.9 2.6 -.8 2.6 -.7 2.6 -.7 2.6 -.6 2.7 -.7 2.6 -.6 2.6 -.6 2.6 -.6 2.6 -.5 2.6 -.5 2.6 -.5 2.6 -.5 2.6 -.5 2.6 -.4 2.6 -.4 2.6 -.4 2.6 -.4 2.6 -.3 2.6 -.3 2.6 -.3 2.6 -.3 2.6 -.3 2.6 -.3 2.6 -.3 2.6 -.2 2.6 -.3 2.6 -.2 2.6 -.2 2.6 -.2 2.6 -.1 2.6 0 2.6 -.1 2.6 0 2.7 0 2.6 0 2.6 .1 2.6 0 2.6 0 2.6 .1 2.6 0 2.6 .1 2.6 .1 2.6 0 2.6 .1 2.6 .2 2.6 .2 2.6 .2 2.6 .3 2.6 .4 2.6 .4 2.6 .4 2.6 .5 2.6 .4 2.6 .4 2.6 .4 2.6 .4 2.6 .4 2.6 .4 2.6 .4 2.6 .4 2.6 .4 2.7 .4 2.6 .4 2.6 .4 2.6 .5 2.6 .4 2.6 .5 2.6 .5 2.6 .6 2.6 .5 2.6 .6 2.6 .6 2.6 .6 2.6 .7 2.6 .6 2.6 .6 2.6 .7 2.6 .6 2.6 .6 2.6 .6 2.6 .7 2.6 .6 2.6 .6 2.6 .6 2.6 .7 2.6 .6 2.6 .6 2.6 .7 2.6 .6 2.7 .7 2.6 .7 2.6 .7 2.6 .7 2.6 .7 2.6 .7 2.6 .8 2.6 .7 2.6 .7 2.6 .7 2.6 .8 2.6 .7 2.6 .7 2.6 .7 2.6 .6 2.6 .7 2.6 .7 2.6 .7 2.6 .7 2.6 .7 2.6 .7 2.6 .7 2.6 .7 2.6 .7 2.6 .7 2.6 .7 2.6 .7 2.6 .7 2.7 .8 2.6 .7 2.6 .8 2.6 .7 2.6 .8 2.6 .8 2.6 .8 2.6 .7 2.6 .8 2.6 .8 2.6 .8 2.6 .8 2.6 .7 2.6 .8 2.6 .8 2.6 .8 2.6 .7 2.6 .8 2.6 .8 2.6 .8 2.6 .7 2.6 .8 2.6 .8 2.6 .7 2.6 .8 2.6 .7 2.6 .8 2.6 .7 2.7 .7 2.6 .8 2.6 .7 2.6 .7 2.6 .7 2.6 .7 2.6 .7 2.6 .7 2.6 .7 2.6 .7 2.6 .7 2.6 .6 2.6 .7 2.6 .7 2.6 .7 2.6 .7 2.6 .7 2.6 .6 2.6 .7 2.6 .7 2.6 .7 2.6 .6 2.6 .7 2.6 .7 2.6 .7 2.6 .6 2.6 .7 2.6 .7 2.7 .7 2.6 .6 2.6 .7 2.6 .6 2.6 .7 2.6 .7 2.6 .6 2.6 .7 2.6 .6 2.6 .7 .9 .2" stroke="#e377c2" stroke-width="3.6" stroke-linecap="square"/>
<path d="M144.1 336.5l14 14M144.1 350.5l14 -14M150.1 336.5l14 14M150.1 350.5l14 -14M157.7 336.4l14 14M157.7 350.4l14 -14M167.4 336.2l14 14M167.4 350.2l14 -14M179.5 335.6l14 14M179.5 349.6l14 -14M194.3 334.1l14 14M194.3 348.1l14 -14M212.0 331.1l14 14M212.0 345.1l14 -14M232.8 325.1l14 14M232.8 339.1l14 -14M256.7 313.9l14 14M256.7 327.9l14 -14M283.8 296.9l14 14M283.8 310.9l14 -14M313.8 270.3l14 14M313.8 284.3l14 -14M346.8 235.9l14 14M346.8 249.9l14 -14M382.6 195.8l14 14M382.6 209.8l14 -14M421.2 156.5l14 14M421.2 170.5l14 -14M462.6 120.5l14 14M462.6 134.5l14 -14M507.0 92.0l14 14M507.0 106.0l14 -14M554.3 75.9l14 14M554.3 89.9l14 -14M604.7 68.7l14 14M604.7 82.7l14 -14M658.5 69.4l14 14M658.5 83.4l14 -14M715.8 78.8l14 14M715.8 92.8l14 -14M776.8 93.7l14 14M776.8 107.7l14 -14M841.8 111.4l14 14M841.8 125.4l14 -14M911.0 131.8l14 14M911.0 145.8l14 -14M984.7 151.3l14 14M984.7 165.3l14 -14" stroke="#e377c2" stroke-width="2.9" stroke-linecap="butt"/>
<path d="M151.1 343.5l2.6 0 2.6 0 2.6 -.1 2.6 0 2.6 -.1 2.6 0 2.6 -.1 2.6 -.1 2.6 -.1 2.6 -.1 2.6 -.2 2.6 -.1 2.6 -.1 2.6 -.2 2.7 -.2 2.6 -.3 2.6 -.3 2.6 -.4 2.6 -.5 2.6 -.5 2.6 -.5 2.6 -.6 2.6 -.7 2.6 -.7 2.6 -1 2.6 -1.2 2.6 -1.4 2.6 -1.6 2.6 -1.7 2.6 -1.7 2.6 -1.8 2.6 -1.7 2.6 -1.7 2.6 -1.6 2.6 -1.6 2.6 -1.7 2.6 -1.7 2.6 -1.7 2.6 -1.7 2.6 -1.8 2.6 -1.7 2.6 -1.8 2.7 -1.7 2.6 -1.8 2.6 -1.7 2.6 -1.7 2.6 -1.8 2.6 -1.9 2.6 -1.8 2.6 -1.9 2.6 -1.8 2.6 -1.8 2.6 -1.8 2.6 -1.7 2.6 -1.7 2.6 -1.5 2.6 -1.4 2.6 -1.4 2.6 -1.2 2.6 -1.3 2.6 -1.2 2.6 -1.1 2.6 -1.1 2.6 -1.1 2.6 -1 2.6 -1.1 2.6 -.9 2.6 -1 2.6 -.9 2.6 -.8 2.7 -.9 2.6 -.8 2.6 -.7 2.6 -.9 2.6 -.8 2.6 -.9 2.6 -.8 2.6 -.7 2.6 -.7 2.6 -.5 2.6 -.4 2.6 -.2 2.6 -.1 2.6 .1 2.6 .1 2.6 .3 2.6 .2 2.6 .3 2.6 .4 2.6 .6 2.6 .7 2.6 .8 2.6 .8 2.6 .9 2.6 1 2.6 1 2.6 .9 2.6 1 2.7 1 2.6 1.1 2.6 1.2 2.6 1.2 2.6 1.2 2.6 1.1 2.6 1.2 2.6 1.1 2.6 1.1 2.6 1.2 2.6 1.2 2.6 1.3 2.6 1.3 2.6 1.4 2.6 1.5 2.6 1.7 2.6 1.8 2.6 1.7 2.6 1.8 2.6 1.7 2.6 1.8 2.6 1.8 2.6 1.9 2.6 1.8 2.6 1.8 2.6 1.8 2.6 1.8 2.6 1.7 2.7 1.8 2.6 1.7 2.6 1.7 2.6 1.6 2.6 1.7 2.6 1.6 2.6 1.6 2.6 1.6 2.6 1.6 2.6 1.6 2.6 1.6 2.6 1.7 2.6 1.6 2.6 1.6 2.6 1.6 2.6 1.6 2.6 1.7 2.6 1.6 2.6 1.6 2.6 1.7 2.6 1.6 2.6 1.6 2.6 1.7 2.6 1.6 2.6 1.7 2.6 1.7 2.6 1.5 2.6 1.5 2.7 1.4 2.6 1.3 2.6 1.3 2.6 1.3 2.6 1.2 2.6 1.2 2.6 1.2 2.6 1.2 2.6 1.2 2.6 1.2 2.6 1.3 2.6 1.2 2.6 1.2 2.6 1.1 2.6 1.2 2.6 1.2 2.6 1.1 2.6 1.2 2.6 1.1 2.6 1.1 2.6 1 2.6 1 2.6 1.1 2.6 1 2.6 1.1 2.6 1 2.6 1 2.6 1 2.6 .9 2.7 .9 2.6 .8 2.6 .8 2.6 .7 2.6 .7 2.6 .6 2.6 .6 2.6 .6 2.6 .6 2.6 .6 2.6 .5 2.6 .5 2.6 .5 2.6 .5 2.6 .5 2.6 .4 2.6 .5 2.6 .4 2.6 .5 2.6 .4 2.6 .4 2.6 .4 2.6 .4 2.6 .4 2.6 .4 2.6 .4 2.6 .4 2.6 .4 2.7 .4 2.6 .3 2.6 .4 2.6 .3 2.6 .3 2.6 .2 2.6 .2 2.6 .2 2.6 .1 2.6 .1 2.6 .1 2.6 .1 2.6 .1 2.6 .1 2.6 .1 2.6 0 2.6 .1 2.6 .1 2.6 0 2.6 .1 2.6 0 2.6 .1 2.6 0 2.6 .1 2.6 0 2.6 0 2.6 0 2.6 0 2.7 0 2.6 -.1 2.6 0 2.6 -.1 2.6 -.1 2.6 0 2.6 -.2 2.6 -.1 2.6 -.1 2.6 -.1 2.6 -.1 2.6 -.2 2.6 -.1 2.6 -.2 2.6 -.1 2.6 -.2 2.6 -.1 2.6 -.2 2.6 -.1 2.6 -.2 2.6 -.1 2.6 -.2 2.6 -.1 2.6 -.2 2.6 -.2 2.6 -.2 2.6 -.2 2.6 -.2 2.7 -.2 2.6 -.3 2.6 -.2 2.6 -.2 2.6 -.3 2.6 -.2 2.6 -.3 2.6 -.2 2.6 -.3 2.6 -.2 2.6 -.3 2.6 -.2 2.6 -.3 2.6 -.2 2.6 -.3 2.6 -.3 2.6 -.2 2.6 -.3 2.6 -.3 2.6 -.2 2.6 -.3 2.6 -.2 2.6 -.3 2.6 -.2 2.6 -.3 2.6 -.3 2.6 -.3 2.6 -.2 2.7 -.3 2.6 -.3 2.6 -.2 2.6 -.3 2.6 -.3 2.6 -.3 2.6 -.3 2.6 -.3 2.6 -.2 2.6 -.3 2.6 -.3 2.6 -.3 2.6 -.3 2.6 -.3 2.6 -.3 2.6 -.3 2.6 -.3 2.6 -.3 2.6 -.3 2.6 -.3 2.6 -.3 2.6 -.4 2.6 -.3 2.6 -.3 2.6 -.3 2.6 -.3 2.6 -.3 2.6 -.4 2.7 -.3 2.6 -.3 2.6 -.3 2.6 -.4 2.6 -.3 2.6 -.3 2.6 -.4 2.6 -.3 2.6 -.4 2.6 -.3 .9 -.1" stroke="#e377c2" stroke-width="3.6" stroke-dasharray="23.04 5.76 3.60 5.76" stroke-linecap="butt"/>
<path d="M151.1 343.5l2.6 0 2.6 0 2.6 0 2.6 0 2.6 .1 2.6 0 2.6 0 2.6 0 2.6 .1 2.6 0 2.6 0 2.6 .1 2.6 0 2.6 0 2.7 .1 2.6 0 2.6 0 2.6 .1 2.6 0 2.6 .1 2.6 0 2.6 .1 2.6 .1 2.6 0 2.6 .1 2.6 .1 2.6 0 2.6 .1 2.6 .1 2.6 .1 2.6 .1 2.6 .1 2.6 .1 2.6 .1 2.6 .1 2.6 .1 2.6 .1 2.6 .2 2.6 .1 2.6 .2 2.6 .1 2.6 .2 2.7 .2 2.6 .1 2.6 .2 2.6 .2 2.6 .2 2.6 .2 2.6 .2 2.6 .2 2.6 .2 2.6 .3 2.6 .2 2.6 .3 2.6 .3 2.6 .3 2.6 .3 2.6 .4 2.6 .3 2.6 .4 2.6 .3 2.6 .4 2.6 .4 2.6 .3 2.6 .4 2.6 .4 2.6 .4 2.6 .3 2.6 .4 2.6 .4 2.7 .3 2.6 .4 2.6 .3 2.6 .4 2.6 .3 2.6 .3 2.6 .3 2.6 .3 2.6 .3 2.6 .3 2.6 .2 2.6 .3 2.6 .3 2.6 .2 2.6 .3 2.6 .3 2.6 .2 2.6 .3 2.6 .3 2.6 .2 2.6 .3 2.6 .2 2.6 .3 2.6 .2 2.6 .3 2.6 .3 2.6 .2 2.6 .3 2.7 .2 2.6 .3 2.6 .3 2.6 .2 2.6 .3 2.6 .2 2.6 .3 2.6 .3 2.6 .2 2.6 .3 2.6 .3 2.6 .2 2.6 .3 2.6 .2 2.6 .3 2.6 .3 2.6 .2 2.6 .3 2.6 .2 2.6 .3 2.6 .2 2.6 .3 2.6 .3 2.6 .2 2.6 .3 2.6 .2 2.6 .3 2.6 .2 2.7 .2 2.6 .3 2.6 .2 2.6 .3 2.6 .2 2.6 .3 2.6 .2 2.6 .3 2.6 .2 2.6 .3 2.6 .2 2.6 .2 2.6 .3 2.6 .2 2.6 .3 2.6 .2 2.6 .2 2.6 .3 2.6 .2 2.6 .2 2.6 .2 2.6 .2 2.6 .3 2.6 .2 2.6 .2 2.6 .2 2.6 .2 2.6 .2 2.7 .2 2.6 .3 2.6 .2 2.6 .2 2.6 .2 2.6 .2 2.6 .2 2.6 .2 2.6 .2 2.6 .2 2.6 .2 2.6 .2 2.6 .2 2.6 .1 2.6 .2 2.6 .2 2.6 .2 2.6 .1 2.6 .2 2.6 .2 2.6 .1 2.6 .2 2.6 .1 2.6 .2 2.6 .1 2.6 .2 2.6 .1 2.6 .2 2.6 .1 2.7 .1 2.6 .2 2.6 .1 2.6 .1 2.6 .2 2.6 .1 2.6 .1 2.6 .2 2.6 .1 2.6 .1 2.6 .1 2.6 .1 2.6 .1 2.6 .1 2.6 .2 2.6 .1 2.6 .1 2.6 .1 2.6 .1 2.6 .1 2.6 .1 2.6 .1 2.6 .1 2.6 .1 2.6 .1 2.6 .1 2.6 .1 2.6 .1 2.7 .1 2.6 .1 2.6 0 2.6 .1 2.6 .1 2.6 .1 2.6 .1 2.6 .1 2.6 .1 2.6 .1 2.6 .1 2.6 .1 2.6 0 2.6 .1 2.6 .1 2.6 .1 2.6 .1 2.6 0 2.6 .1 2.6 .1 2.6 0 2.6 .1 2.6 .1 2.6 0 2.6 .1 2.6 .1 2.6 0 2.6 .1 2.7 0 2.6 .1 2.6 0 2.6 0 2.6 .1 2.6 0 2.6 .1 2.6 0 2.6 0 2.6 .1 2.6 0 2.6 .1 2.6 0 2.6 0 2.6 .1 2.6 0 2.6 0 2.6 .1 2.6 0 2.6 0 2.6 .1 2.6 0 2.6 0 2.6 0 2.6 .1 2.6 0 2.6 0 2.6 .1 2.7 0 2.6 0 2.6 0 2.6 0 2.6 .1 2.6 0 2.6 0 2.6 0 2.6 0 2.6 .1 2.6 0 2.6 0 2.6 0 2.6 0 2.6 0 2.6 0 2.6 0 2.6 .1 2.6 0 2.6 0 2.6 0 2.6 0 2.6 0 2.6 0 2.6 0 2.6 0 2.6 0 2.6 0 2.7 0 2.6 .1 2.6 0 2.6 0 2.6 0 2.6 0 2.6 0 2.6 0 2.6 0 2.6 0 2.6 0 2.6 0 2.6 0 2.6 0 2.6 0 2.6 0 2.6 0 2.6 .1 2.6 0 2.6 0 2.6 0 2.6 0 2.6 0 2.6 0 2.6 0 2.6 0 2.6 0 2.6 0 2.7 0 2.6 0 2.6 0 2.6 0 2.6 0 2.6 0 2.6 0 2.6 0 2.6 0 2.6 0 .9 0" stroke="#e377c2" stroke-width="3.6" stroke-dasharray="13.32 5.76" stroke-linecap="butt"/>
<path d="M151.1 117.5l2.6 1 2.6 .8 2.6 .8 2.6 .8 2.6 .6 2.6 .6 2.6 .6 2.6 .6 2.6 .6 2.6 .7 2.6 .6 2.6 .7 2.6 .7 2.6 .7 2.7 .7 2.6 .9 2.6 .9 2.6 1 2.6 1.1 2.6 1.2 2.6 1.4 2.6 1.4 2.6 1.5 2.6 1.6 2.6 1.8 2.6 1.9 2.6 2.1 2.6 2.2 2.6 2.4 2.6 2.4 2.6 2.5 2.6 2.7 2.6 2.7 2.6 2.7 2.6 2.8 2.6 3.1 2.6 3.7 2.6 3.7 2.6 3.4 2.6 3.5 2.6 4.1 2.6 4.1 2.7 3.5 2.6 3.5 2.6 4.1 2.6 4.5 2.6 4.2 2.6 4.1 2.6 4.5 2.6 4.6 2.6 4.7 2.6 4.6 2.6 4.5 2.6 4.7 2.6 4.8 2.6 5 2.6 5.1 2.6 5 2.6 4.9 2.6 4.8 2.6 4.5 2.6 4.1 2.6 3.8 2.6 3.9 2.6 4.4 2.6 5.3 2.6 5.7 2.6 4.9 2.6 4.4 2.6 4.1 2.7 4 2.6 3.8 2.6 3.7 2.6 3.6 2.6 3.6 2.6 3.6 2.6 3.7 2.6 3.6 2.6 3.8 2.6 4 2.6 4.1 2.6 4 2.6 3.4 2.6 3.1 2.6 2.8 2.6 2.7 2.6 2.6 2.6 2.8 2.6 3 2.6 2.9 2.6 2.6 2.6 2.6 2.6 2.7 2.6 2.7 2.6 2.8 2.6 2.7 2.6 2.6 2.6 2.3 2.7 2 2.6 1.8 2.6 1.6 2.6 1.4 2.6 1.3 2.6 1.3 2.6 1.4 2.6 1.3 2.6 1.4 2.6 1.4 2.6 1.6 2.6 1.5 2.6 1.5 2.6 1.6 2.6 1.5 2.6 1.1 2.6 .7 2.6 .7 2.6 .5 2.6 .4 2.6 .4 2.6 .3 2.6 .3 2.6 .4 2.6 .4 2.6 .4 2.6 .3 2.6 .3 2.7 .3 2.6 .3 2.6 .5 2.6 .6 2.6 .5 2.6 .2 2.6 -.2 2.6 -.4 2.6 -.4 2.6 -.4 2.6 -.3 2.6 -.3 2.6 -.4 2.6 -.4 2.6 -.5 2.6 -.5 2.6 -.4 2.6 -.4 2.6 -.3 2.6 -.3 2.6 -.4 2.6 -.5 2.6 -.4 2.6 -.5 2.6 -.4 2.6 -.5 2.6 -.4 2.6 -.5 2.7 -.6 2.6 -.7 2.6 -.6 2.6 -.6 2.6 -.6 2.6 -.6 2.6 -.6 2.6 -.5 2.6 -.6 2.6 -.6 2.6 -.5 2.6 -.6 2.6 -.5 2.6 -.6 2.6 -.6 2.6 -.6 2.6 -.5 2.6 -.6 2.6 -.7 2.6 -.6 2.6 -.6 2.6 -.7 2.6 -.7 2.6 -.7 2.6 -.8 2.6 -.7 2.6 -.8 2.6 -.8 2.6 -.8 2.7 -.8 2.6 -.8 2.6 -.8 2.6 -.8 2.6 -.8 2.6 -.8 2.6 -.7 2.6 -.8 2.6 -.7 2.6 -.8 2.6 -.7 2.6 -.7 2.6 -.6 2.6 -.7 2.6 -.7 2.6 -.7 2.6 -.6 2.6 -.7 2.6 -.7 2.6 -.6 2.6 -.6 2.6 -.7 2.6 -.6 2.6 -.7 2.6 -.6 2.6 -.6 2.6 -.6 2.6 -.7 2.7 -.6 2.6 -.6 2.6 -.6 2.6 -.6 2.6 -.6 2.6 -.6 2.6 -.6 2.6 -.6 2.6 -.6 2.6 -.6 2.6 -.6 2.6 -.6 2.6 -.5 2.6 -.6 2.6 -.6 2.6 -.6 2.6 -.6 2.6 -.6 2.6 -.6 2.6 -.6 2.6 -.6 2.6 -.6 2.6 -.6 2.6 -.6 2.6 -.6 2.6 -.5 2.6 -.6 2.6 -.6 2.7 -.5 2.6 -.6 2.6 -.5 2.6 -.5 2.6 -.5 2.6 -.5 2.6 -.5 2.6 -.4 2.6 -.4 2.6 -.5 2.6 -.4 2.6 -.3 2.6 -.4 2.6 -.4 2.6 -.4 2.6 -.4 2.6 -.3 2.6 -.4 2.6 -.4 2.6 -.3 2.6 -.4 2.6 -.3 2.6 -.3 2.6 -.4 2.6 -.3 2.6 -.3 2.6 -.3 2.6 -.3 2.7 -.3 2.6 -.3 2.6 -.3 2.6 -.3 2.6 -.3 2.6 -.3 2.6 -.3 2.6 -.3 2.6 -.2 2.6 -.3 2.6 -.3 2.6 -.2 2.6 -.3 2.6 -.2 2.6 -.3 2.6 -.2 2.6 -.2 2.6 -.3 2.6 -.2 2.6 -.2 2.6 -.2 2.6 -.3 2.6 -.2 2.6 -.2 2.6 -.2 2.6 -.2 2.6 -.2 2.6 -.2 2.7 -.2 2.6 -.3 2.6 -.2 2.6 -.2 2.6 -.2 2.6 -.2 2.6 -.2 2.6 -.2 2.6 -.1 2.6 -.2 2.6 -.2 2.6 -.2 2.6 -.2 2.6 -.2 2.6 -.1 2.6 -.2 2.6 -.2 2.6 -.2 2.6 -.1 2.6 -.2 2.6 -.1 2.6 -.2 2.6 -.2 2.6 -.1 2.6 -.2 2.6 -.1 2.6 -.1 2.6 -.2 2.7 -.1 2.6 -.1 2.6 -.2 2.6 -.1 2.6 -.1 2.6 -.1 2.6 -.1 2.6 -.1 2.6 -.1 2.6 -.1 .9 -.1" stroke="#e377c2" stroke-width="3.6" stroke-dasharray="3.60 5.94" stroke-linecap="butt"/>
<path d="M151.1 568.4l2.6 -.2 2.6 -.2 2.6 -.3 2.6 -.2 2.6 -.2 2.6 -.3 2.6 -.2 2.6 -.3 2.6 -.2 2.6 -.3 2.6 -.2 2.6 -.3 2.6 -.2 2.6 -.3 2.7 -.3 2.6 -.2 2.6 -.3 2.6 -.3 2.6 -.2 2.6 -.3 2.6 -.2 2.6 -.3 2.6 -.2 2.6 -.3 2.6 -.3 2.6 -.2 2.6 -.3 2.6 -.3 2.6 -.3 2.6 -.4 2.6 -.3 2.6 -.4 2.6 -.4 2.6 -.5 2.6 -.5 2.6 -.6 2.6 -.6 2.6 -.7 2.6 -.7 2.6 -.7 2.6 -.9 2.6 -.8 2.7 -.9 2.6 -.9 2.6 -.9 2.6 -.9 2.6 -1 2.6 -.9 2.6 -1 2.6 -.9 2.6 -1 2.6 -1 2.6 -1.1 2.6 -1.1 2.6 -1.2 2.6 -1.2 2.6 -1.2 2.6 -1.2 2.6 -1.3 2.6 -1.2 2.6 -1.3 2.6 -1.3 2.6 -1.3 2.6 -1.2 2.6 -1.3 2.6 -1.2 2.6 -1.2 2.6 -1.2 2.6 -1.2 2.6 -1.3 2.7 -1.2 2.6 -1.3 2.6 -1.2 2.6 -1.3 2.6 -1.3 2.6 -1.2 2.6 -1.2 2.6 -1.2 2.6 -1.2 2.6 -1.2 2.6 -1.2 2.6 -1.1 2.6 -1.1 2.6 -1.1 2.6 -1 2.6 -1.1 2.6 -1 2.6 -1 2.6 -1 2.6 -1 2.6 -1 2.6 -1 2.6 -.9 2.6 -1 2.6 -.9 2.6 -.9 2.6 -.8 2.6 -.9 2.7 -.8 2.6 -.8 2.6 -.7 2.6 -.8 2.6 -.8 2.6 -.7 2.6 -.7 2.6 -.8 2.6 -.7 2.6 -.6 2.6 -.7 2.6 -.7 2.6 -.6 2.6 -.6 2.6 -.5 2.6 -.6 2.6 -.5 2.6 -.5 2.6 -.5 2.6 -.4 2.6 -.4 2.6 -.4 2.6 -.4 2.6 -.4 2.6 -.3 2.6 -.4 2.6 -.3 2.6 -.3 2.7 -.3 2.6 -.3 2.6 -.4 2.6 -.2 2.6 -.3 2.6 -.3 2.6 -.3 2.6 -.3 2.6 -.3 2.6 -.3 2.6 -.2 2.6 -.3 2.6 -.3 2.6 -.2 2.6 -.3 2.6 -.2 2.6 -.2 2.6 -.3 2.6 -.2 2.6 -.2 2.6 -.3 2.6 -.2 2.6 -.2 2.6 -.2 2.6 -.2 2.6 -.2 2.6 -.2 2.6 -.2 2.7 -.2 2.6 -.1 2.6 -.2 2.6 -.2 2.6 -.1 2.6 -.2 2.6 -.2 2.6 -.2 2.6 -.1 2.6 -.2 2.6 -.2 2.6 -.2 2.6 -.2 2.6 -.2 2.6 -.2 2.6 -.2 2.6 -.2 2.6 -.2 2.6 -.2 2.6 -.2 2.6 -.3 2.6 -.2 2.6 -.2 2.6 -.2 2.6 -.2 2.6 -.3 2.6 -.2 2.6 -.2 2.6 -.2 2.7 -.3 2.6 -.2 2.6 -.2 2.6 -.3 2.6 -.2 2.6 -.2 2.6 -.3 2.6 -.2 2.6 -.3 2.6 -.2 2.6 -.2 2.6 -.3 2.6 -.2 2.6 -.3 2.6 -.2 2.6 -.3 2.6 -.2 2.6 -.2 2.6 -.3 2.6 -.2 2.6 -.3 2.6 -.2 2.6 -.3 2.6 -.2 2.6 -.3 2.6 -.2 2.6 -.3 2.6 -.2 2.7 -.3 2.6 -.2 2.6 -.3 2.6 -.2 2.6 -.3 2.6 -.2 2.6 -.3 2.6 -.2 2.6 -.3 2.6 -.2 2.6 -.3 2.6 -.2 2.6 -.3 2.6 -.2 2.6 -.3 2.6 -.2 2.6 -.3 2.6 -.2 2.6 -.3 2.6 -.2 2.6 -.2 2.6 -.3 2.6 -.2 2.6 -.3 2.6 -.2 2.6 -.2 2.6 -.3 2.6 -.2 2.7 -.2 2.6 -.3 2.6 -.2 2.6 -.2 2.6 -.3 2.6 -.2 2.6 -.2 2.6 -.2 2.6 -.2 2.6 -.3 2.6 -.2 2.6 -.2 2.6 -.2 2.6 -.2 2.6 -.2 2.6 -.3 2.6 -.2 2.6 -.2 2.6 -.2 2.6 -.2 2.6 -.2 2.6 -.2 2.6 -.3 2.6 -.2 2.6 -.2 2.6 -.2 2.6 -.2 2.6 -.2 2.7 -.2 2.6 -.2 2.6 -.2 2.6 -.3 2.6 -.2 2.6 -.2 2.6 -.2 2.6 -.2 2.6 -.2 2.6 -.2 2.6 -.2 2.6 -.2 2.6 -.2 2.6 -.2 2.6 -.2 2.6 -.2 2.6 -.2 2.6 -.2 2.6 -.2 2.6 -.2 2.6 -.2 2.6 -.3 2.6 -.2 2.6 -.2 2.6 -.2 2.6 -.2 2.6 -.2 2.6 -.2 2.7 -.2 2.6 -.2 2.6 -.2 2.6 -.1 2.6 -.2 2.6 -.2 2.6 -.2 2.6 -.2 2.6 -.2 2.6 -.2 2.6 -.2 2.6 -.2 2.6 -.2 2.6 -.2 2.6 -.2 2.6 -.2 2.6 -.2 2.6 -.2 2.6 -.2 2.6 -.2 2.6 -.1 2.6 -.2 2.6 -.2 2.6 -.2 2.6 -.2 2.6 -.2 2.6 -.2 2.6 -.2 2.7 -.2 2.6 -.1 2.6 -.2 2.6 -.2 2.6 -.2 2.6 -.2 2.6 -.2 2.6 -.2 2.6 -.1 2.6 -.2 .9 -.1" stroke="#e377c2" stroke-width="3.6" stroke-linecap="square"/>
</g>
<line x1="151.10" y1="343.50" x2="1018.95" y2="343.50" stroke="#000" stroke-width="1.7"/>
<rect x="151.10" y="20.35" width="867.85" height="646.35" fill="none" stroke="#000" stroke-width="2.2" stroke-linejoin="miter"/>
<path d="M134.10 20.32H151.10M134.10 128.05H151.10M134.10 235.78H151.10M134.10 343.50H151.10M134.10 451.23H151.10M134.10 558.95H151.10M134.10 666.68H151.10M151.10 666.70V683.70M259.58 666.70V683.70M368.06 666.70V683.70M476.54 666.70V683.70M585.02 666.70V683.70M693.51 666.70V683.70M801.99 666.70V683.70M910.47 666.70V683.70M1018.95 666.70V683.70" stroke="#000" stroke-width="2.2"/>
<text transform="translate(122.50 27.90) scale(1 1.020)" font-size="34.0" text-anchor="end">0.6</text>
<text transform="translate(122.50 137.10) scale(1 1.020)" font-size="34.0" text-anchor="end">0.4</text>
<text transform="translate(122.50 244.60) scale(1 1.020)" font-size="34.0" text-anchor="end">0.2</text>
<text transform="translate(122.50 351.80) scale(1 1.020)" font-size="34.0" text-anchor="end">0</text>
<text transform="translate(122.50 457.80) scale(1 1.020)" font-size="34.0" text-anchor="end">0.2</text>
<rect x="62.1" y="445.50" width="18.0" height="1.6" fill="#000"/>
<text transform="translate(122.50 565.80) scale(1 1.020)" font-size="34.0" text-anchor="end">0.4</text>
<rect x="62.1" y="553.50" width="18.0" height="1.6" fill="#000"/>
<text transform="translate(122.50 674.10) scale(1 1.020)" font-size="34.0" text-anchor="end">0.6</text>
<rect x="62.1" y="661.80" width="18.0" height="1.6" fill="#000"/>
<text transform="translate(151.10 718.80) scale(1 1.020)" font-size="34.0" text-anchor="middle">0</text>
<text transform="translate(259.58 718.80) scale(1 1.020)" font-size="34.0" text-anchor="middle">2.5</text>
<text transform="translate(368.06 718.80) scale(1 1.020)" font-size="34.0" text-anchor="middle">5.0</text>
<text transform="translate(476.54 718.80) scale(1 1.020)" font-size="34.0" text-anchor="middle">7.5</text>
<text transform="translate(585.02 718.80) scale(1 1.020)" font-size="34.0" text-anchor="middle">10.0</text>
<text transform="translate(693.51 718.80) scale(1 1.020)" font-size="34.0" text-anchor="middle">12.5</text>
<text transform="translate(801.99 718.80) scale(1 1.020)" font-size="34.0" text-anchor="middle">15.0</text>
<text transform="translate(910.47 718.80) scale(1 1.020)" font-size="34.0" text-anchor="middle">17.5</text>
<text transform="translate(1018.95 718.80) scale(1 1.020)" font-size="34.0" text-anchor="middle">20.0</text>
<text transform="translate(-0.50 360.60) scale(1 1.000)" font-size="40.0" font-style="italic">B</text>
<text transform="translate(24.00 348.00) scale(1 1.000)" font-size="33.0" style="stroke-width:0.1px">+</text>
<text transform="translate(569.00 772.50) scale(1 1.000)" font-size="40.0" font-style="italic">y</text>
<text transform="translate(586.00 759.80) scale(1 1.000)" font-size="33.0" style="stroke-width:0.1px">+</text>
<line x1="1061" y1="44.30" x2="1121" y2="44.30" stroke="#000" stroke-width="4.4" stroke-linecap="square"/>
<path d="M1082.10 35.40l17.80 17.80M1082.10 53.20l17.80 -17.80" stroke="#000" stroke-width="2.9" fill="none"/>
<line x1="1061" y1="86.15" x2="1121" y2="86.15" stroke="#000" stroke-width="4.4" stroke-dasharray="29.12 7.28 4.55 7.28"/>
<line x1="1061" y1="127.90" x2="1121" y2="127.90" stroke="#000" stroke-width="4.4" stroke-dasharray="16.84 7.28"/>
<line x1="1061" y1="169.90" x2="1121" y2="169.90" stroke="#000" stroke-width="4.4" stroke-dasharray="4.40 7.26"/>
<line x1="1061" y1="211.70" x2="1121" y2="211.70" stroke="#000" stroke-width="4.4" stroke-linecap="square"/>
<text transform="translate(1137.20 53.80) scale(1 1.000)" font-size="34.0" font-style="italic">P</text>
<text transform="translate(1160.30 42.50) scale(1 1.000)" font-size="27.0" style="stroke-width:0.1px">+</text>
<text transform="translate(1137.50 96.10) scale(1 1.000)" font-size="34.0" font-style="italic">T</text>
<text transform="translate(1159.10 84.80) scale(1 1.000)" font-size="27.0" style="stroke-width:0.1px">+</text>
<text transform="translate(1138.50 137.80) scale(1 1.000)" font-size="34.0" font-style="italic">Π</text>
<text transform="translate(1166.80 126.60) scale(1 1.000)" font-size="27.0" style="stroke-width:0.1px">+</text>
<text transform="translate(1137.00 180.70) scale(1 1.000)" font-size="34.0" font-style="italic">D</text>
<text transform="translate(1164.20 169.10) scale(1 1.000)" font-size="27.0" style="stroke-width:0.1px">+</text>
<text transform="translate(1136.00 224.60) scale(1 1.000)" font-size="34.0">−</text>
<text transform="translate(1156.00 221.90) scale(1 1.000)" font-size="34.0" font-style="italic">ϵ</text>
<text transform="translate(1173.10 210.70) scale(1 1.000)" font-size="27.0" style="stroke-width:0.1px">+</text>
<line x1="1061" y1="254.70" x2="1121" y2="254.70" stroke="#1f77b4" stroke-width="4.4" stroke-linecap="square"/>
<text transform="translate(1137.20 264.90) scale(1 1.000)" font-size="34.0" font-style="italic">Re</text>
<text transform="translate(1173.30 273.50) scale(1 1.000)" font-size="26.0" font-style="italic">τ</text>
<text transform="translate(1190.00 264.90) scale(1 1.000)" font-size="34.0" textLength="22" lengthAdjust="spacingAndGlyphs">=</text>
<text transform="translate(1218.60 264.90) scale(1 1.020)" font-size="34.0">550 (P)</text>
<line x1="1061" y1="299.60" x2="1121" y2="299.60" stroke="#ff7f0e" stroke-width="4.4" stroke-linecap="square"/>
<text transform="translate(1137.20 309.80) scale(1 1.000)" font-size="34.0" font-style="italic">Re</text>
<text transform="translate(1173.30 318.40) scale(1 1.000)" font-size="26.0" font-style="italic">τ</text>
<text transform="translate(1190.00 309.80) scale(1 1.000)" font-size="34.0" textLength="22" lengthAdjust="spacingAndGlyphs">=</text>
<text transform="translate(1218.60 309.80) scale(1 1.020)" font-size="34.0">1000 (P)</text>
<line x1="1061" y1="344.50" x2="1121" y2="344.50" stroke="#2ca02c" stroke-width="4.4" stroke-linecap="square"/>
<text transform="translate(1137.20 354.70) scale(1 1.000)" font-size="34.0" font-style="italic">Re</text>
<text transform="translate(1173.30 363.30) scale(1 1.000)" font-size="26.0" font-style="italic">τ</text>
<text transform="translate(1190.00 354.70) scale(1 1.000)" font-size="34.0" textLength="22" lengthAdjust="spacingAndGlyphs">=</text>
<text transform="translate(1218.60 354.70) scale(1 1.020)" font-size="34.0">2000 (P)</text>
<line x1="1061" y1="389.40" x2="1121" y2="389.40" stroke="#d62728" stroke-width="4.4" stroke-linecap="square"/>
<text transform="translate(1137.20 399.60) scale(1 1.000)" font-size="34.0" font-style="italic">Re</text>
<text transform="translate(1173.30 408.20) scale(1 1.000)" font-size="26.0" font-style="italic">τ</text>
<text transform="translate(1190.00 399.60) scale(1 1.000)" font-size="34.0" textLength="22" lengthAdjust="spacingAndGlyphs">=</text>
<text transform="translate(1218.60 399.60) scale(1 1.020)" font-size="34.0">5200 (P)</text>
<line x1="1061" y1="434.30" x2="1121" y2="434.30" stroke="#9467bd" stroke-width="4.4" stroke-linecap="square"/>
<text transform="translate(1137.20 444.50) scale(1 1.000)" font-size="34.0" font-style="italic">Re</text>
<text transform="translate(1173.30 453.10) scale(1 1.000)" font-size="26.0" font-style="italic">τ</text>
<text transform="translate(1190.00 444.50) scale(1 1.000)" font-size="34.0" textLength="22" lengthAdjust="spacingAndGlyphs">=</text>
<text transform="translate(1218.60 444.50) scale(1 1.020)" font-size="34.0">93 (C)</text>
<line x1="1061" y1="479.20" x2="1121" y2="479.20" stroke="#8c564b" stroke-width="4.4" stroke-linecap="square"/>
<text transform="translate(1137.20 489.40) scale(1 1.000)" font-size="34.0" font-style="italic">Re</text>
<text transform="translate(1173.30 498.00) scale(1 1.000)" font-size="26.0" font-style="italic">τ</text>
<text transform="translate(1190.00 489.40) scale(1 1.000)" font-size="34.0" textLength="22" lengthAdjust="spacingAndGlyphs">=</text>
<text transform="translate(1218.60 489.40) scale(1 1.020)" font-size="34.0">220 (C)</text>
<line x1="1061" y1="524.10" x2="1121" y2="524.10" stroke="#e377c2" stroke-width="4.4" stroke-linecap="square"/>
<text transform="translate(1137.20 534.30) scale(1 1.000)" font-size="34.0" font-style="italic">Re</text>
<text transform="translate(1173.30 542.90) scale(1 1.000)" font-size="26.0" font-style="italic">τ</text>
<text transform="translate(1190.00 534.30) scale(1 1.000)" font-size="34.0" textLength="22" lengthAdjust="spacingAndGlyphs">=</text>
<text transform="translate(1218.60 534.30) scale(1 1.020)" font-size="34.0">500 (C)</text>
</svg></body></html>
